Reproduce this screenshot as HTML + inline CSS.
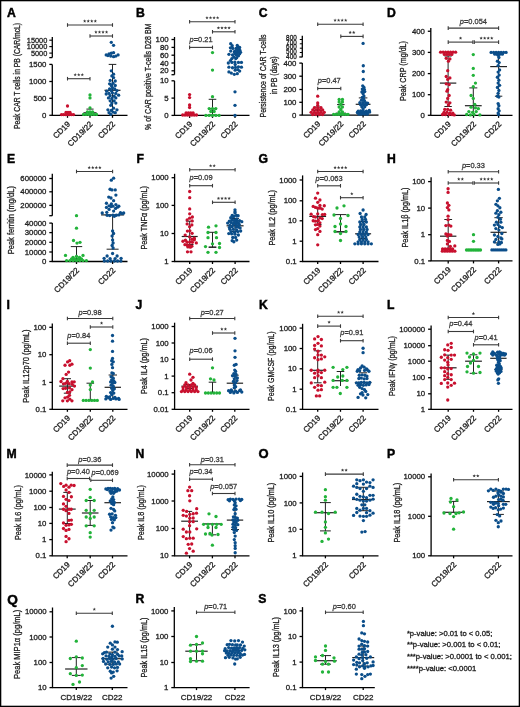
<!DOCTYPE html>
<html><head><meta charset="utf-8"><style>
html,body{margin:0;padding:0;background:#fff;}
svg{display:block;will-change:transform;}
text{font-family:"Liberation Sans",sans-serif;}
</style></head><body>
<svg width="520" height="707" viewBox="0 0 520 707">
<rect x="0" y="0" width="520" height="707" fill="#fff"/>
<text x="7.00" y="17.00" font-size="12.2" fill="#000" stroke="#000" stroke-width="0.45" font-weight="bold">A</text>
<line x1="52.30" y1="37.00" x2="52.30" y2="57.60" stroke="#000" stroke-width="1.3"/>
<line x1="52.30" y1="64.40" x2="52.30" y2="115.30" stroke="#000" stroke-width="1.3"/>
<line x1="49.30" y1="64.40" x2="52.30" y2="64.40" stroke="#000" stroke-width="1.3"/>
<text x="46.40" y="67.00" font-size="7.8" fill="#1e1e1e" stroke="#1e1e1e" stroke-width="0.3" text-anchor="end">1500</text>
<line x1="49.30" y1="81.50" x2="52.30" y2="81.50" stroke="#000" stroke-width="1.3"/>
<text x="46.40" y="84.10" font-size="7.8" fill="#1e1e1e" stroke="#1e1e1e" stroke-width="0.3" text-anchor="end">1000</text>
<line x1="49.30" y1="98.30" x2="52.30" y2="98.30" stroke="#000" stroke-width="1.3"/>
<text x="46.40" y="100.90" font-size="7.8" fill="#1e1e1e" stroke="#1e1e1e" stroke-width="0.3" text-anchor="end">500</text>
<line x1="49.30" y1="115.30" x2="52.30" y2="115.30" stroke="#000" stroke-width="1.3"/>
<text x="46.40" y="117.90" font-size="7.8" fill="#1e1e1e" stroke="#1e1e1e" stroke-width="0.3" text-anchor="end">0</text>
<line x1="49.30" y1="57.60" x2="52.30" y2="57.60" stroke="#000" stroke-width="1.3"/>
<line x1="49.30" y1="40.20" x2="52.30" y2="40.20" stroke="#000" stroke-width="1.1"/>
<text x="47.30" y="42.80" font-size="7.8" fill="#1e1e1e" stroke="#1e1e1e" stroke-width="0.3" text-anchor="end" textLength="20.5" lengthAdjust="spacingAndGlyphs">15000</text>
<line x1="49.30" y1="46.60" x2="52.30" y2="46.60" stroke="#000" stroke-width="1.1"/>
<text x="47.30" y="49.20" font-size="7.8" fill="#1e1e1e" stroke="#1e1e1e" stroke-width="0.3" text-anchor="end" textLength="20.5" lengthAdjust="spacingAndGlyphs">10000</text>
<line x1="49.30" y1="53.10" x2="52.30" y2="53.10" stroke="#000" stroke-width="1.1"/>
<text x="47.30" y="55.70" font-size="7.8" fill="#1e1e1e" stroke="#1e1e1e" stroke-width="0.3" text-anchor="end" textLength="16.4" lengthAdjust="spacingAndGlyphs">5000</text>
<line x1="51.80" y1="115.30" x2="127.50" y2="115.30" stroke="#000" stroke-width="1.3"/>
<line x1="67.50" y1="115.30" x2="67.50" y2="117.80" stroke="#000" stroke-width="1.3"/>
<line x1="90.00" y1="115.30" x2="90.00" y2="117.80" stroke="#000" stroke-width="1.3"/>
<line x1="112.50" y1="115.30" x2="112.50" y2="117.80" stroke="#000" stroke-width="1.3"/>
<text x="70.70" y="124.60" font-size="8.0" fill="#1e1e1e" stroke="#1e1e1e" stroke-width="0.3" text-anchor="end" transform="rotate(-45 70.70 124.60)">CD19</text>
<text x="93.20" y="124.60" font-size="8.0" fill="#1e1e1e" stroke="#1e1e1e" stroke-width="0.3" text-anchor="end" transform="rotate(-45 93.20 124.60)">CD19/22</text>
<text x="115.70" y="124.60" font-size="8.0" fill="#1e1e1e" stroke="#1e1e1e" stroke-width="0.3" text-anchor="end" transform="rotate(-45 115.70 124.60)">CD22</text>
<text x="20.04" y="75.95" font-size="9.0" fill="#1e1e1e" stroke="#1e1e1e" stroke-width="0.3" text-anchor="middle" transform="rotate(-90 20.04 75.95)" textLength="106.1" lengthAdjust="spacingAndGlyphs">Peak CAR T cells in PB (CAR/mcL)</text>
<line x1="86.40" y1="109.10" x2="93.60" y2="109.10" stroke="#222" stroke-width="1.0"/>
<line x1="83.50" y1="112.80" x2="96.50" y2="112.80" stroke="#222" stroke-width="1.2"/>
<line x1="108.70" y1="64.40" x2="116.30" y2="64.40" stroke="#222" stroke-width="1.0"/>
<line x1="104.50" y1="90.30" x2="120.50" y2="90.30" stroke="#222" stroke-width="1.2"/>
<line x1="112.50" y1="64.40" x2="112.50" y2="112.00" stroke="#222" stroke-width="1.0"/>
<line x1="67.50" y1="25.00" x2="112.50" y2="25.00" stroke="#3a3a3a" stroke-width="1.1"/>
<line x1="67.50" y1="23.20" x2="67.50" y2="26.80" stroke="#3a3a3a" stroke-width="1.1"/>
<line x1="112.50" y1="23.20" x2="112.50" y2="26.80" stroke="#3a3a3a" stroke-width="1.1"/>
<polygon points="84.67,19.35 85.13,20.47 86.34,20.56 85.42,21.34 85.70,22.52 84.67,21.88 83.65,22.52 83.93,21.34 83.01,20.56 84.22,20.47" fill="#3a3a3a"/>
<polygon points="88.22,19.35 88.68,20.47 89.89,20.56 88.97,21.34 89.25,22.52 88.22,21.88 87.20,22.52 87.48,21.34 86.56,20.56 87.77,20.47" fill="#3a3a3a"/>
<polygon points="91.78,19.35 92.23,20.47 93.44,20.56 92.52,21.34 92.80,22.52 91.78,21.88 90.75,22.52 91.03,21.34 90.11,20.56 91.32,20.47" fill="#3a3a3a"/>
<polygon points="95.33,19.35 95.78,20.47 96.99,20.56 96.07,21.34 96.35,22.52 95.33,21.88 94.30,22.52 94.58,21.34 93.66,20.56 94.87,20.47" fill="#3a3a3a"/>
<line x1="90.00" y1="36.00" x2="112.50" y2="36.00" stroke="#3a3a3a" stroke-width="1.1"/>
<line x1="90.00" y1="34.20" x2="90.00" y2="37.80" stroke="#3a3a3a" stroke-width="1.1"/>
<line x1="112.50" y1="34.20" x2="112.50" y2="37.80" stroke="#3a3a3a" stroke-width="1.1"/>
<polygon points="95.92,30.35 96.38,31.47 97.59,31.56 96.67,32.34 96.95,33.52 95.92,32.88 94.90,33.52 95.18,32.34 94.26,31.56 95.47,31.47" fill="#3a3a3a"/>
<polygon points="99.47,30.35 99.93,31.47 101.14,31.56 100.22,32.34 100.50,33.52 99.47,32.88 98.45,33.52 98.73,32.34 97.81,31.56 99.02,31.47" fill="#3a3a3a"/>
<polygon points="103.03,30.35 103.48,31.47 104.69,31.56 103.77,32.34 104.05,33.52 103.03,32.88 102.00,33.52 102.28,32.34 101.36,31.56 102.57,31.47" fill="#3a3a3a"/>
<polygon points="106.58,30.35 107.03,31.47 108.24,31.56 107.32,32.34 107.60,33.52 106.58,32.88 105.55,33.52 105.83,32.34 104.91,31.56 106.12,31.47" fill="#3a3a3a"/>
<line x1="67.50" y1="78.70" x2="90.00" y2="78.70" stroke="#3a3a3a" stroke-width="1.1"/>
<line x1="67.50" y1="76.90" x2="67.50" y2="80.50" stroke="#3a3a3a" stroke-width="1.1"/>
<line x1="90.00" y1="76.90" x2="90.00" y2="80.50" stroke="#3a3a3a" stroke-width="1.1"/>
<polygon points="75.20,73.05 75.66,74.17 76.86,74.26 75.94,75.04 76.23,76.22 75.20,75.58 74.17,76.22 74.46,75.04 73.54,74.26 74.74,74.17" fill="#3a3a3a"/>
<polygon points="78.75,73.05 79.21,74.17 80.41,74.26 79.49,75.04 79.78,76.22 78.75,75.58 77.72,76.22 78.01,75.04 77.09,74.26 78.29,74.17" fill="#3a3a3a"/>
<polygon points="82.30,73.05 82.76,74.17 83.96,74.26 83.04,75.04 83.33,76.22 82.30,75.58 81.27,76.22 81.56,75.04 80.64,74.26 81.84,74.17" fill="#3a3a3a"/>
<text x="136.00" y="17.00" font-size="12.2" fill="#000" stroke="#000" stroke-width="0.45" font-weight="bold">B</text>
<line x1="174.50" y1="37.00" x2="174.50" y2="74.70" stroke="#000" stroke-width="1.3"/>
<line x1="174.50" y1="80.80" x2="174.50" y2="115.40" stroke="#000" stroke-width="1.3"/>
<line x1="171.50" y1="39.50" x2="174.50" y2="39.50" stroke="#000" stroke-width="1.3"/>
<text x="168.60" y="42.10" font-size="7.8" fill="#1e1e1e" stroke="#1e1e1e" stroke-width="0.3" text-anchor="end">100</text>
<line x1="171.50" y1="47.40" x2="174.50" y2="47.40" stroke="#000" stroke-width="1.3"/>
<text x="168.60" y="50.00" font-size="7.8" fill="#1e1e1e" stroke="#1e1e1e" stroke-width="0.3" text-anchor="end">80</text>
<line x1="171.50" y1="55.20" x2="174.50" y2="55.20" stroke="#000" stroke-width="1.3"/>
<text x="168.60" y="57.80" font-size="7.8" fill="#1e1e1e" stroke="#1e1e1e" stroke-width="0.3" text-anchor="end">60</text>
<line x1="171.50" y1="63.00" x2="174.50" y2="63.00" stroke="#000" stroke-width="1.3"/>
<text x="168.60" y="65.60" font-size="7.8" fill="#1e1e1e" stroke="#1e1e1e" stroke-width="0.3" text-anchor="end">40</text>
<line x1="171.50" y1="70.80" x2="174.50" y2="70.80" stroke="#000" stroke-width="1.3"/>
<text x="168.60" y="73.40" font-size="7.8" fill="#1e1e1e" stroke="#1e1e1e" stroke-width="0.3" text-anchor="end">20</text>
<line x1="171.50" y1="74.70" x2="174.50" y2="74.70" stroke="#000" stroke-width="1.3"/>
<line x1="171.50" y1="80.80" x2="174.50" y2="80.80" stroke="#000" stroke-width="1.3"/>
<text x="168.60" y="83.40" font-size="7.8" fill="#1e1e1e" stroke="#1e1e1e" stroke-width="0.3" text-anchor="end">10</text>
<line x1="171.50" y1="98.10" x2="174.50" y2="98.10" stroke="#000" stroke-width="1.3"/>
<text x="168.60" y="100.70" font-size="7.8" fill="#1e1e1e" stroke="#1e1e1e" stroke-width="0.3" text-anchor="end">5</text>
<line x1="171.50" y1="115.40" x2="174.50" y2="115.40" stroke="#000" stroke-width="1.3"/>
<text x="168.60" y="118.00" font-size="7.8" fill="#1e1e1e" stroke="#1e1e1e" stroke-width="0.3" text-anchor="end">0</text>
<line x1="174.00" y1="115.40" x2="249.50" y2="115.40" stroke="#000" stroke-width="1.3"/>
<line x1="189.60" y1="115.40" x2="189.60" y2="117.90" stroke="#000" stroke-width="1.3"/>
<line x1="212.50" y1="115.40" x2="212.50" y2="117.90" stroke="#000" stroke-width="1.3"/>
<line x1="235.00" y1="115.40" x2="235.00" y2="117.90" stroke="#000" stroke-width="1.3"/>
<text x="192.80" y="124.70" font-size="8.0" fill="#1e1e1e" stroke="#1e1e1e" stroke-width="0.3" text-anchor="end" transform="rotate(-45 192.80 124.70)">CD19</text>
<text x="215.70" y="124.70" font-size="8.0" fill="#1e1e1e" stroke="#1e1e1e" stroke-width="0.3" text-anchor="end" transform="rotate(-45 215.70 124.70)">CD19/22</text>
<text x="238.20" y="124.70" font-size="8.0" fill="#1e1e1e" stroke="#1e1e1e" stroke-width="0.3" text-anchor="end" transform="rotate(-45 238.20 124.70)">CD22</text>
<text x="150.74" y="76.75" font-size="9.0" fill="#1e1e1e" stroke="#1e1e1e" stroke-width="0.3" text-anchor="middle" transform="rotate(-90 150.74 76.75)" textLength="106.5" lengthAdjust="spacingAndGlyphs">% of CAR positive T-cells D28 BM</text>
<line x1="212.50" y1="99.30" x2="212.50" y2="115.00" stroke="#222" stroke-width="1.0"/>
<line x1="208.70" y1="99.30" x2="216.30" y2="99.30" stroke="#222" stroke-width="1.0"/>
<line x1="208.70" y1="115.00" x2="216.30" y2="115.00" stroke="#222" stroke-width="1.0"/>
<line x1="208.00" y1="108.80" x2="217.00" y2="108.80" stroke="#222" stroke-width="1.2"/>
<line x1="189.60" y1="21.70" x2="235.00" y2="21.70" stroke="#3a3a3a" stroke-width="1.1"/>
<line x1="189.60" y1="19.90" x2="189.60" y2="23.50" stroke="#3a3a3a" stroke-width="1.1"/>
<line x1="235.00" y1="19.90" x2="235.00" y2="23.50" stroke="#3a3a3a" stroke-width="1.1"/>
<polygon points="206.98,16.05 207.43,17.17 208.64,17.26 207.72,18.04 208.00,19.22 206.98,18.58 205.95,19.22 206.23,18.04 205.31,17.26 206.52,17.17" fill="#3a3a3a"/>
<polygon points="210.53,16.05 210.98,17.17 212.19,17.26 211.27,18.04 211.55,19.22 210.53,18.58 209.50,19.22 209.78,18.04 208.86,17.26 210.07,17.17" fill="#3a3a3a"/>
<polygon points="214.08,16.05 214.53,17.17 215.74,17.26 214.82,18.04 215.10,19.22 214.08,18.58 213.05,19.22 213.33,18.04 212.41,17.26 213.62,17.17" fill="#3a3a3a"/>
<polygon points="217.62,16.05 218.08,17.17 219.29,17.26 218.37,18.04 218.65,19.22 217.62,18.58 216.60,19.22 216.88,18.04 215.96,17.26 217.17,17.17" fill="#3a3a3a"/>
<line x1="212.50" y1="31.80" x2="235.00" y2="31.80" stroke="#3a3a3a" stroke-width="1.1"/>
<line x1="212.50" y1="30.00" x2="212.50" y2="33.60" stroke="#3a3a3a" stroke-width="1.1"/>
<line x1="235.00" y1="30.00" x2="235.00" y2="33.60" stroke="#3a3a3a" stroke-width="1.1"/>
<polygon points="218.43,26.15 218.88,27.27 220.09,27.36 219.17,28.14 219.45,29.32 218.43,28.68 217.40,29.32 217.68,28.14 216.76,27.36 217.97,27.27" fill="#3a3a3a"/>
<polygon points="221.97,26.15 222.43,27.27 223.64,27.36 222.72,28.14 223.00,29.32 221.97,28.68 220.95,29.32 221.23,28.14 220.31,27.36 221.52,27.27" fill="#3a3a3a"/>
<polygon points="225.53,26.15 225.98,27.27 227.19,27.36 226.27,28.14 226.55,29.32 225.53,28.68 224.50,29.32 224.78,28.14 223.86,27.36 225.07,27.27" fill="#3a3a3a"/>
<polygon points="229.07,26.15 229.53,27.27 230.74,27.36 229.82,28.14 230.10,29.32 229.07,28.68 228.05,29.32 228.33,28.14 227.41,27.36 228.62,27.27" fill="#3a3a3a"/>
<line x1="189.60" y1="47.40" x2="212.50" y2="47.40" stroke="#3a3a3a" stroke-width="1.1"/>
<line x1="189.60" y1="45.60" x2="189.60" y2="49.20" stroke="#3a3a3a" stroke-width="1.1"/>
<line x1="212.50" y1="45.60" x2="212.50" y2="49.20" stroke="#3a3a3a" stroke-width="1.1"/>
<text x="201.05" y="41.60" font-size="8.0" fill="#3a3a3a" stroke="#3a3a3a" stroke-width="0.3" text-anchor="middle" textLength="22.96" lengthAdjust="spacingAndGlyphs"><tspan font-style="italic">p</tspan>=0.21</text>
<text x="258.70" y="17.40" font-size="12.2" fill="#000" stroke="#000" stroke-width="0.45" font-weight="bold">C</text>
<line x1="302.30" y1="35.80" x2="302.30" y2="57.20" stroke="#000" stroke-width="1.3"/>
<line x1="302.30" y1="63.10" x2="302.30" y2="115.10" stroke="#000" stroke-width="1.3"/>
<line x1="299.30" y1="63.10" x2="302.30" y2="63.10" stroke="#000" stroke-width="1.3"/>
<text x="296.40" y="65.70" font-size="7.8" fill="#1e1e1e" stroke="#1e1e1e" stroke-width="0.3" text-anchor="end">400</text>
<line x1="299.30" y1="76.20" x2="302.30" y2="76.20" stroke="#000" stroke-width="1.3"/>
<text x="296.40" y="78.80" font-size="7.8" fill="#1e1e1e" stroke="#1e1e1e" stroke-width="0.3" text-anchor="end">300</text>
<line x1="299.30" y1="89.50" x2="302.30" y2="89.50" stroke="#000" stroke-width="1.3"/>
<text x="296.40" y="92.10" font-size="7.8" fill="#1e1e1e" stroke="#1e1e1e" stroke-width="0.3" text-anchor="end">200</text>
<line x1="299.30" y1="102.30" x2="302.30" y2="102.30" stroke="#000" stroke-width="1.3"/>
<text x="296.40" y="104.90" font-size="7.8" fill="#1e1e1e" stroke="#1e1e1e" stroke-width="0.3" text-anchor="end">100</text>
<line x1="299.30" y1="115.10" x2="302.30" y2="115.10" stroke="#000" stroke-width="1.3"/>
<text x="296.40" y="117.70" font-size="7.8" fill="#1e1e1e" stroke="#1e1e1e" stroke-width="0.3" text-anchor="end">0</text>
<line x1="299.30" y1="57.00" x2="302.30" y2="57.00" stroke="#000" stroke-width="1.3"/>
<line x1="299.80" y1="39.50" x2="302.30" y2="39.50" stroke="#000" stroke-width="1.0"/>
<line x1="299.80" y1="43.80" x2="302.30" y2="43.80" stroke="#000" stroke-width="1.0"/>
<line x1="299.80" y1="48.20" x2="302.30" y2="48.20" stroke="#000" stroke-width="1.0"/>
<line x1="299.80" y1="52.50" x2="302.30" y2="52.50" stroke="#000" stroke-width="1.0"/>
<text x="296.70" y="39.90" font-size="7.0" fill="#1e1e1e" stroke="#1e1e1e" stroke-width="0.3" text-anchor="end" textLength="10.6" lengthAdjust="spacingAndGlyphs">800</text>
<text x="296.70" y="44.65" font-size="7.0" fill="#1e1e1e" stroke="#1e1e1e" stroke-width="0.3" text-anchor="end" textLength="10.6" lengthAdjust="spacingAndGlyphs">700</text>
<text x="296.70" y="49.40" font-size="7.0" fill="#1e1e1e" stroke="#1e1e1e" stroke-width="0.3" text-anchor="end" textLength="10.6" lengthAdjust="spacingAndGlyphs">600</text>
<text x="296.70" y="54.15" font-size="7.0" fill="#1e1e1e" stroke="#1e1e1e" stroke-width="0.3" text-anchor="end" textLength="10.6" lengthAdjust="spacingAndGlyphs">500</text>
<text x="296.70" y="58.90" font-size="7.0" fill="#1e1e1e" stroke="#1e1e1e" stroke-width="0.3" text-anchor="end" textLength="10.6" lengthAdjust="spacingAndGlyphs">400</text>
<line x1="301.80" y1="115.10" x2="378.50" y2="115.10" stroke="#000" stroke-width="1.3"/>
<line x1="317.70" y1="115.10" x2="317.70" y2="117.60" stroke="#000" stroke-width="1.3"/>
<line x1="340.80" y1="115.10" x2="340.80" y2="117.60" stroke="#000" stroke-width="1.3"/>
<line x1="363.10" y1="115.10" x2="363.10" y2="117.60" stroke="#000" stroke-width="1.3"/>
<text x="320.90" y="124.40" font-size="8.0" fill="#1e1e1e" stroke="#1e1e1e" stroke-width="0.3" text-anchor="end" transform="rotate(-45 320.90 124.40)">CD19</text>
<text x="344.00" y="124.40" font-size="8.0" fill="#1e1e1e" stroke="#1e1e1e" stroke-width="0.3" text-anchor="end" transform="rotate(-45 344.00 124.40)">CD19/22</text>
<text x="366.30" y="124.40" font-size="8.0" fill="#1e1e1e" stroke="#1e1e1e" stroke-width="0.3" text-anchor="end" transform="rotate(-45 366.30 124.40)">CD22</text>
<text x="266.20" y="76.00" font-size="9.0" fill="#1e1e1e" stroke="#1e1e1e" stroke-width="0.3" text-anchor="middle" transform="rotate(-90 266.20 76.00)" textLength="83" lengthAdjust="spacingAndGlyphs">Persistence of CAR T-cells</text>
<text x="277.30" y="75.30" font-size="9.0" fill="#1e1e1e" stroke="#1e1e1e" stroke-width="0.3" text-anchor="middle" transform="rotate(-90 277.30 75.30)" textLength="38" lengthAdjust="spacingAndGlyphs">in PB (days)</text>
<line x1="317.70" y1="107.00" x2="317.70" y2="113.00" stroke="#222" stroke-width="1.0"/>
<line x1="314.70" y1="107.00" x2="320.70" y2="107.00" stroke="#222" stroke-width="1.0"/>
<line x1="314.70" y1="113.00" x2="320.70" y2="113.00" stroke="#222" stroke-width="1.0"/>
<line x1="312.70" y1="110.30" x2="322.70" y2="110.30" stroke="#222" stroke-width="1.2"/>
<line x1="337.00" y1="104.60" x2="344.60" y2="104.60" stroke="#222" stroke-width="1.0"/>
<line x1="335.80" y1="113.20" x2="345.80" y2="113.20" stroke="#222" stroke-width="1.2"/>
<line x1="358.80" y1="97.90" x2="367.40" y2="97.90" stroke="#222" stroke-width="1.0"/>
<line x1="355.70" y1="104.30" x2="370.50" y2="104.30" stroke="#222" stroke-width="1.2"/>
<line x1="317.70" y1="24.20" x2="363.10" y2="24.20" stroke="#3a3a3a" stroke-width="1.1"/>
<line x1="317.70" y1="22.40" x2="317.70" y2="26.00" stroke="#3a3a3a" stroke-width="1.1"/>
<line x1="363.10" y1="22.40" x2="363.10" y2="26.00" stroke="#3a3a3a" stroke-width="1.1"/>
<polygon points="335.07,18.55 335.53,19.67 336.74,19.76 335.82,20.54 336.10,21.72 335.07,21.08 334.05,21.72 334.33,20.54 333.41,19.76 334.62,19.67" fill="#3a3a3a"/>
<polygon points="338.62,18.55 339.08,19.67 340.29,19.76 339.37,20.54 339.65,21.72 338.62,21.08 337.60,21.72 337.88,20.54 336.96,19.76 338.17,19.67" fill="#3a3a3a"/>
<polygon points="342.17,18.55 342.63,19.67 343.84,19.76 342.92,20.54 343.20,21.72 342.17,21.08 341.15,21.72 341.43,20.54 340.51,19.76 341.72,19.67" fill="#3a3a3a"/>
<polygon points="345.72,18.55 346.18,19.67 347.39,19.76 346.47,20.54 346.75,21.72 345.72,21.08 344.70,21.72 344.98,20.54 344.06,19.76 345.27,19.67" fill="#3a3a3a"/>
<line x1="340.80" y1="36.40" x2="363.10" y2="36.40" stroke="#3a3a3a" stroke-width="1.1"/>
<line x1="340.80" y1="34.60" x2="340.80" y2="38.20" stroke="#3a3a3a" stroke-width="1.1"/>
<line x1="363.10" y1="34.60" x2="363.10" y2="38.20" stroke="#3a3a3a" stroke-width="1.1"/>
<polygon points="350.18,30.75 350.63,31.87 351.84,31.96 350.92,32.74 351.20,33.92 350.18,33.28 349.15,33.92 349.43,32.74 348.51,31.96 349.72,31.87" fill="#3a3a3a"/>
<polygon points="353.73,30.75 354.18,31.87 355.39,31.96 354.47,32.74 354.75,33.92 353.73,33.28 352.70,33.92 352.98,32.74 352.06,31.96 353.27,31.87" fill="#3a3a3a"/>
<line x1="317.70" y1="88.50" x2="340.80" y2="88.50" stroke="#3a3a3a" stroke-width="1.1"/>
<line x1="317.70" y1="86.70" x2="317.70" y2="90.30" stroke="#3a3a3a" stroke-width="1.1"/>
<line x1="340.80" y1="86.70" x2="340.80" y2="90.30" stroke="#3a3a3a" stroke-width="1.1"/>
<text x="329.25" y="82.60" font-size="8.0" fill="#3a3a3a" stroke="#3a3a3a" stroke-width="0.3" text-anchor="middle" textLength="22.96" lengthAdjust="spacingAndGlyphs"><tspan font-style="italic">p</tspan>=0.47</text>
<text x="387.00" y="17.00" font-size="12.2" fill="#000" stroke="#000" stroke-width="0.45" font-weight="bold">D</text>
<line x1="430.80" y1="28.00" x2="430.80" y2="115.30" stroke="#000" stroke-width="1.3"/>
<line x1="427.80" y1="31.25" x2="430.80" y2="31.25" stroke="#000" stroke-width="1.3"/>
<text x="424.90" y="33.85" font-size="7.8" fill="#1e1e1e" stroke="#1e1e1e" stroke-width="0.3" text-anchor="end">400</text>
<line x1="427.80" y1="52.40" x2="430.80" y2="52.40" stroke="#000" stroke-width="1.3"/>
<text x="424.90" y="55.00" font-size="7.8" fill="#1e1e1e" stroke="#1e1e1e" stroke-width="0.3" text-anchor="end">300</text>
<line x1="427.80" y1="73.60" x2="430.80" y2="73.60" stroke="#000" stroke-width="1.3"/>
<text x="424.90" y="76.20" font-size="7.8" fill="#1e1e1e" stroke="#1e1e1e" stroke-width="0.3" text-anchor="end">200</text>
<line x1="427.80" y1="94.70" x2="430.80" y2="94.70" stroke="#000" stroke-width="1.3"/>
<text x="424.90" y="97.30" font-size="7.8" fill="#1e1e1e" stroke="#1e1e1e" stroke-width="0.3" text-anchor="end">100</text>
<line x1="427.80" y1="115.30" x2="430.80" y2="115.30" stroke="#000" stroke-width="1.3"/>
<text x="424.90" y="117.90" font-size="7.8" fill="#1e1e1e" stroke="#1e1e1e" stroke-width="0.3" text-anchor="end">0</text>
<line x1="430.30" y1="115.30" x2="512.50" y2="115.30" stroke="#000" stroke-width="1.3"/>
<line x1="448.20" y1="115.30" x2="448.20" y2="117.80" stroke="#000" stroke-width="1.3"/>
<line x1="473.50" y1="115.30" x2="473.50" y2="117.80" stroke="#000" stroke-width="1.3"/>
<line x1="498.60" y1="115.30" x2="498.60" y2="117.80" stroke="#000" stroke-width="1.3"/>
<text x="451.40" y="124.60" font-size="8.0" fill="#1e1e1e" stroke="#1e1e1e" stroke-width="0.3" text-anchor="end" transform="rotate(-45 451.40 124.60)">CD19</text>
<text x="476.70" y="124.60" font-size="8.0" fill="#1e1e1e" stroke="#1e1e1e" stroke-width="0.3" text-anchor="end" transform="rotate(-45 476.70 124.60)">CD19/22</text>
<text x="501.80" y="124.60" font-size="8.0" fill="#1e1e1e" stroke="#1e1e1e" stroke-width="0.3" text-anchor="end" transform="rotate(-45 501.80 124.60)">CD22</text>
<text x="406.24" y="71.00" font-size="9.0" fill="#1e1e1e" stroke="#1e1e1e" stroke-width="0.3" text-anchor="middle" transform="rotate(-90 406.24 71.00)" textLength="60.0" lengthAdjust="spacingAndGlyphs">Peak CRP (mg/dL)</text>
<line x1="448.10" y1="56.00" x2="448.10" y2="106.50" stroke="#222" stroke-width="1.0"/>
<line x1="444.40" y1="56.00" x2="451.80" y2="56.00" stroke="#222" stroke-width="1.0"/>
<line x1="444.40" y1="106.50" x2="451.80" y2="106.50" stroke="#222" stroke-width="1.0"/>
<line x1="439.90" y1="83.10" x2="456.30" y2="83.10" stroke="#222" stroke-width="1.2"/>
<line x1="469.30" y1="87.90" x2="477.30" y2="87.90" stroke="#222" stroke-width="1.0"/>
<line x1="464.90" y1="105.70" x2="481.70" y2="105.70" stroke="#222" stroke-width="1.2"/>
<line x1="473.30" y1="87.90" x2="473.30" y2="112.00" stroke="#222" stroke-width="1.0"/>
<line x1="498.60" y1="52.40" x2="498.60" y2="96.20" stroke="#222" stroke-width="1.0"/>
<line x1="494.90" y1="52.40" x2="502.30" y2="52.40" stroke="#222" stroke-width="1.0"/>
<line x1="494.90" y1="96.20" x2="502.30" y2="96.20" stroke="#222" stroke-width="1.0"/>
<line x1="490.20" y1="66.60" x2="507.00" y2="66.60" stroke="#222" stroke-width="1.2"/>
<line x1="448.20" y1="28.10" x2="498.60" y2="28.10" stroke="#3a3a3a" stroke-width="1.1"/>
<line x1="448.20" y1="26.30" x2="448.20" y2="29.90" stroke="#3a3a3a" stroke-width="1.1"/>
<line x1="498.60" y1="26.30" x2="498.60" y2="29.90" stroke="#3a3a3a" stroke-width="1.1"/>
<text x="473.40" y="24.30" font-size="8.0" fill="#3a3a3a" stroke="#3a3a3a" stroke-width="0.3" text-anchor="middle" textLength="27.1" lengthAdjust="spacingAndGlyphs"><tspan font-style="italic">p</tspan>=0.054</text>
<line x1="448.20" y1="42.10" x2="472.90" y2="42.10" stroke="#3a3a3a" stroke-width="1.1"/>
<line x1="448.20" y1="40.30" x2="448.20" y2="43.90" stroke="#3a3a3a" stroke-width="1.1"/>
<line x1="472.90" y1="40.30" x2="472.90" y2="43.90" stroke="#3a3a3a" stroke-width="1.1"/>
<polygon points="460.55,36.45 461.01,37.57 462.21,37.66 461.29,38.44 461.58,39.62 460.55,38.98 459.52,39.62 459.81,38.44 458.89,37.66 460.09,37.57" fill="#3a3a3a"/>
<line x1="474.30" y1="42.10" x2="498.60" y2="42.10" stroke="#3a3a3a" stroke-width="1.1"/>
<line x1="474.30" y1="40.30" x2="474.30" y2="43.90" stroke="#3a3a3a" stroke-width="1.1"/>
<line x1="498.60" y1="40.30" x2="498.60" y2="43.90" stroke="#3a3a3a" stroke-width="1.1"/>
<polygon points="481.13,36.45 481.58,37.57 482.79,37.66 481.87,38.44 482.15,39.62 481.13,38.98 480.10,39.62 480.38,38.44 479.46,37.66 480.67,37.57" fill="#3a3a3a"/>
<polygon points="484.68,36.45 485.13,37.57 486.34,37.66 485.42,38.44 485.70,39.62 484.68,38.98 483.65,39.62 483.93,38.44 483.01,37.66 484.22,37.57" fill="#3a3a3a"/>
<polygon points="488.23,36.45 488.68,37.57 489.89,37.66 488.97,38.44 489.25,39.62 488.23,38.98 487.20,39.62 487.48,38.44 486.56,37.66 487.77,37.57" fill="#3a3a3a"/>
<polygon points="491.78,36.45 492.23,37.57 493.44,37.66 492.52,38.44 492.80,39.62 491.78,38.98 490.75,39.62 491.03,38.44 490.11,37.66 491.32,37.57" fill="#3a3a3a"/>
<text x="7.00" y="163.00" font-size="12.2" fill="#000" stroke="#000" stroke-width="0.45" font-weight="bold">E</text>
<line x1="52.30" y1="173.80" x2="52.30" y2="215.70" stroke="#000" stroke-width="1.3"/>
<line x1="52.30" y1="223.10" x2="52.30" y2="261.50" stroke="#000" stroke-width="1.3"/>
<line x1="49.30" y1="178.50" x2="52.30" y2="178.50" stroke="#000" stroke-width="1.3"/>
<text x="46.40" y="181.10" font-size="7.8" fill="#1e1e1e" stroke="#1e1e1e" stroke-width="0.3" text-anchor="end">600000</text>
<line x1="49.30" y1="191.80" x2="52.30" y2="191.80" stroke="#000" stroke-width="1.3"/>
<text x="46.40" y="194.40" font-size="7.8" fill="#1e1e1e" stroke="#1e1e1e" stroke-width="0.3" text-anchor="end">400000</text>
<line x1="49.30" y1="205.40" x2="52.30" y2="205.40" stroke="#000" stroke-width="1.3"/>
<text x="46.40" y="208.00" font-size="7.8" fill="#1e1e1e" stroke="#1e1e1e" stroke-width="0.3" text-anchor="end">200000</text>
<line x1="49.30" y1="215.70" x2="52.30" y2="215.70" stroke="#000" stroke-width="1.3"/>
<line x1="49.30" y1="223.10" x2="52.30" y2="223.10" stroke="#000" stroke-width="1.3"/>
<text x="46.40" y="225.70" font-size="7.8" fill="#1e1e1e" stroke="#1e1e1e" stroke-width="0.3" text-anchor="end">40000</text>
<line x1="49.30" y1="232.60" x2="52.30" y2="232.60" stroke="#000" stroke-width="1.3"/>
<text x="46.40" y="235.20" font-size="7.8" fill="#1e1e1e" stroke="#1e1e1e" stroke-width="0.3" text-anchor="end">30000</text>
<line x1="49.30" y1="242.30" x2="52.30" y2="242.30" stroke="#000" stroke-width="1.3"/>
<text x="46.40" y="244.90" font-size="7.8" fill="#1e1e1e" stroke="#1e1e1e" stroke-width="0.3" text-anchor="end">20000</text>
<line x1="49.30" y1="252.00" x2="52.30" y2="252.00" stroke="#000" stroke-width="1.3"/>
<text x="46.40" y="254.60" font-size="7.8" fill="#1e1e1e" stroke="#1e1e1e" stroke-width="0.3" text-anchor="end">10000</text>
<line x1="49.30" y1="261.50" x2="52.30" y2="261.50" stroke="#000" stroke-width="1.3"/>
<text x="46.40" y="264.10" font-size="7.8" fill="#1e1e1e" stroke="#1e1e1e" stroke-width="0.3" text-anchor="end">0</text>
<line x1="51.80" y1="261.50" x2="127.50" y2="261.50" stroke="#000" stroke-width="1.3"/>
<line x1="76.50" y1="261.50" x2="76.50" y2="264.00" stroke="#000" stroke-width="1.3"/>
<line x1="112.60" y1="261.50" x2="112.60" y2="264.00" stroke="#000" stroke-width="1.3"/>
<text x="79.70" y="270.80" font-size="8.0" fill="#1e1e1e" stroke="#1e1e1e" stroke-width="0.3" text-anchor="end" transform="rotate(-45 79.70 270.80)">CD19/22</text>
<text x="115.80" y="270.80" font-size="8.0" fill="#1e1e1e" stroke="#1e1e1e" stroke-width="0.3" text-anchor="end" transform="rotate(-45 115.80 270.80)">CD22</text>
<text x="13.54" y="220.15" font-size="9.0" fill="#1e1e1e" stroke="#1e1e1e" stroke-width="0.3" text-anchor="middle" transform="rotate(-90 13.54 220.15)" textLength="68.30000000000001" lengthAdjust="spacingAndGlyphs">Peak ferritin (mg/dL)</text>
<line x1="70.80" y1="246.60" x2="82.20" y2="246.60" stroke="#222" stroke-width="1.0"/>
<line x1="72.50" y1="259.50" x2="80.50" y2="259.50" stroke="#222" stroke-width="1.2"/>
<line x1="76.50" y1="246.60" x2="76.50" y2="259.50" stroke="#222" stroke-width="1.0"/>
<line x1="106.60" y1="249.20" x2="118.60" y2="249.20" stroke="#222" stroke-width="1.0"/>
<line x1="101.10" y1="214.90" x2="124.10" y2="214.90" stroke="#222" stroke-width="1.2"/>
<line x1="112.60" y1="214.90" x2="112.60" y2="249.20" stroke="#222" stroke-width="1.0"/>
<line x1="76.50" y1="171.50" x2="112.60" y2="171.50" stroke="#3a3a3a" stroke-width="1.1"/>
<line x1="76.50" y1="169.70" x2="76.50" y2="173.30" stroke="#3a3a3a" stroke-width="1.1"/>
<line x1="112.60" y1="169.70" x2="112.60" y2="173.30" stroke="#3a3a3a" stroke-width="1.1"/>
<polygon points="89.22,165.85 89.68,166.97 90.89,167.06 89.97,167.84 90.25,169.02 89.22,168.38 88.20,169.02 88.48,167.84 87.56,167.06 88.77,166.97" fill="#3a3a3a"/>
<polygon points="92.77,165.85 93.23,166.97 94.44,167.06 93.52,167.84 93.80,169.02 92.77,168.38 91.75,169.02 92.03,167.84 91.11,167.06 92.32,166.97" fill="#3a3a3a"/>
<polygon points="96.33,165.85 96.78,166.97 97.99,167.06 97.07,167.84 97.35,169.02 96.33,168.38 95.30,169.02 95.58,167.84 94.66,167.06 95.87,166.97" fill="#3a3a3a"/>
<polygon points="99.88,165.85 100.33,166.97 101.54,167.06 100.62,167.84 100.90,169.02 99.88,168.38 98.85,169.02 99.13,167.84 98.21,167.06 99.42,166.97" fill="#3a3a3a"/>
<text x="136.50" y="163.00" font-size="12.2" fill="#000" stroke="#000" stroke-width="0.45" font-weight="bold">F</text>
<line x1="174.60" y1="173.80" x2="174.60" y2="261.50" stroke="#000" stroke-width="1.3"/>
<line x1="171.60" y1="177.70" x2="174.60" y2="177.70" stroke="#000" stroke-width="1.3"/>
<text x="168.70" y="180.30" font-size="7.8" fill="#1e1e1e" stroke="#1e1e1e" stroke-width="0.3" text-anchor="end">1000</text>
<line x1="171.60" y1="205.40" x2="174.60" y2="205.40" stroke="#000" stroke-width="1.3"/>
<text x="168.70" y="208.00" font-size="7.8" fill="#1e1e1e" stroke="#1e1e1e" stroke-width="0.3" text-anchor="end">100</text>
<line x1="171.60" y1="233.50" x2="174.60" y2="233.50" stroke="#000" stroke-width="1.3"/>
<text x="168.70" y="236.10" font-size="7.8" fill="#1e1e1e" stroke="#1e1e1e" stroke-width="0.3" text-anchor="end">10</text>
<line x1="171.60" y1="261.50" x2="174.60" y2="261.50" stroke="#000" stroke-width="1.3"/>
<text x="168.70" y="264.10" font-size="7.8" fill="#1e1e1e" stroke="#1e1e1e" stroke-width="0.3" text-anchor="end">1</text>
<line x1="174.10" y1="261.50" x2="249.50" y2="261.50" stroke="#000" stroke-width="1.3"/>
<line x1="189.70" y1="261.50" x2="189.70" y2="264.00" stroke="#000" stroke-width="1.3"/>
<line x1="212.50" y1="261.50" x2="212.50" y2="264.00" stroke="#000" stroke-width="1.3"/>
<line x1="235.10" y1="261.50" x2="235.10" y2="264.00" stroke="#000" stroke-width="1.3"/>
<text x="192.90" y="270.80" font-size="8.0" fill="#1e1e1e" stroke="#1e1e1e" stroke-width="0.3" text-anchor="end" transform="rotate(-45 192.90 270.80)">CD19</text>
<text x="215.70" y="270.80" font-size="8.0" fill="#1e1e1e" stroke="#1e1e1e" stroke-width="0.3" text-anchor="end" transform="rotate(-45 215.70 270.80)">CD19/22</text>
<text x="238.30" y="270.80" font-size="8.0" fill="#1e1e1e" stroke="#1e1e1e" stroke-width="0.3" text-anchor="end" transform="rotate(-45 238.30 270.80)">CD22</text>
<text x="147.04" y="217.75" font-size="9.0" fill="#1e1e1e" stroke="#1e1e1e" stroke-width="0.3" text-anchor="middle" transform="rotate(-90 147.04 217.75)" textLength="63.5" lengthAdjust="spacingAndGlyphs">Peak TNFα (pg/mL)</text>
<line x1="189.70" y1="221.20" x2="189.70" y2="244.50" stroke="#222" stroke-width="1.0"/>
<line x1="185.90" y1="221.20" x2="193.50" y2="221.20" stroke="#222" stroke-width="1.0"/>
<line x1="185.90" y1="244.50" x2="193.50" y2="244.50" stroke="#222" stroke-width="1.0"/>
<line x1="181.70" y1="236.50" x2="197.70" y2="236.50" stroke="#222" stroke-width="1.2"/>
<line x1="212.50" y1="232.30" x2="212.50" y2="247.20" stroke="#222" stroke-width="1.0"/>
<line x1="208.70" y1="232.30" x2="216.30" y2="232.30" stroke="#222" stroke-width="1.0"/>
<line x1="208.70" y1="247.20" x2="216.30" y2="247.20" stroke="#222" stroke-width="1.0"/>
<line x1="208.70" y1="247.20" x2="216.30" y2="247.20" stroke="#222" stroke-width="1.2"/>
<line x1="235.10" y1="218.50" x2="235.10" y2="231.50" stroke="#222" stroke-width="1.0"/>
<line x1="231.30" y1="218.50" x2="238.90" y2="218.50" stroke="#222" stroke-width="1.0"/>
<line x1="231.30" y1="231.50" x2="238.90" y2="231.50" stroke="#222" stroke-width="1.0"/>
<line x1="226.60" y1="225.80" x2="243.60" y2="225.80" stroke="#222" stroke-width="1.2"/>
<line x1="189.70" y1="169.70" x2="235.10" y2="169.70" stroke="#3a3a3a" stroke-width="1.1"/>
<line x1="189.70" y1="167.90" x2="189.70" y2="171.50" stroke="#3a3a3a" stroke-width="1.1"/>
<line x1="235.10" y1="167.90" x2="235.10" y2="171.50" stroke="#3a3a3a" stroke-width="1.1"/>
<polygon points="210.62,164.05 211.08,165.17 212.29,165.26 211.37,166.04 211.65,167.22 210.62,166.58 209.60,167.22 209.88,166.04 208.96,165.26 210.17,165.17" fill="#3a3a3a"/>
<polygon points="214.17,164.05 214.63,165.17 215.84,165.26 214.92,166.04 215.20,167.22 214.17,166.58 213.15,167.22 213.43,166.04 212.51,165.26 213.72,165.17" fill="#3a3a3a"/>
<line x1="189.70" y1="185.70" x2="212.50" y2="185.70" stroke="#3a3a3a" stroke-width="1.1"/>
<line x1="189.70" y1="183.90" x2="189.70" y2="187.50" stroke="#3a3a3a" stroke-width="1.1"/>
<line x1="212.50" y1="183.90" x2="212.50" y2="187.50" stroke="#3a3a3a" stroke-width="1.1"/>
<text x="201.10" y="179.60" font-size="8.0" fill="#3a3a3a" stroke="#3a3a3a" stroke-width="0.3" text-anchor="middle" textLength="22.96" lengthAdjust="spacingAndGlyphs"><tspan font-style="italic">p</tspan>=0.09</text>
<line x1="212.50" y1="202.30" x2="235.10" y2="202.30" stroke="#3a3a3a" stroke-width="1.1"/>
<line x1="212.50" y1="200.50" x2="212.50" y2="204.10" stroke="#3a3a3a" stroke-width="1.1"/>
<line x1="235.10" y1="200.50" x2="235.10" y2="204.10" stroke="#3a3a3a" stroke-width="1.1"/>
<polygon points="218.48,196.65 218.93,197.77 220.14,197.86 219.22,198.64 219.50,199.82 218.48,199.18 217.45,199.82 217.73,198.64 216.81,197.86 218.02,197.77" fill="#3a3a3a"/>
<polygon points="222.03,196.65 222.48,197.77 223.69,197.86 222.77,198.64 223.05,199.82 222.03,199.18 221.00,199.82 221.28,198.64 220.36,197.86 221.57,197.77" fill="#3a3a3a"/>
<polygon points="225.58,196.65 226.03,197.77 227.24,197.86 226.32,198.64 226.60,199.82 225.58,199.18 224.55,199.82 224.83,198.64 223.91,197.86 225.12,197.77" fill="#3a3a3a"/>
<polygon points="229.12,196.65 229.58,197.77 230.79,197.86 229.87,198.64 230.15,199.82 229.12,199.18 228.10,199.82 228.38,198.64 227.46,197.86 228.67,197.77" fill="#3a3a3a"/>
<text x="258.60" y="163.00" font-size="12.2" fill="#000" stroke="#000" stroke-width="0.45" font-weight="bold">G</text>
<line x1="302.60" y1="175.40" x2="302.60" y2="261.50" stroke="#000" stroke-width="1.3"/>
<line x1="299.60" y1="180.00" x2="302.60" y2="180.00" stroke="#000" stroke-width="1.3"/>
<text x="296.70" y="182.60" font-size="7.8" fill="#1e1e1e" stroke="#1e1e1e" stroke-width="0.3" text-anchor="end">1000</text>
<line x1="299.60" y1="200.80" x2="302.60" y2="200.80" stroke="#000" stroke-width="1.3"/>
<text x="296.70" y="203.40" font-size="7.8" fill="#1e1e1e" stroke="#1e1e1e" stroke-width="0.3" text-anchor="end">100</text>
<line x1="299.60" y1="220.80" x2="302.60" y2="220.80" stroke="#000" stroke-width="1.3"/>
<text x="296.70" y="223.40" font-size="7.8" fill="#1e1e1e" stroke="#1e1e1e" stroke-width="0.3" text-anchor="end">10</text>
<line x1="299.60" y1="241.20" x2="302.60" y2="241.20" stroke="#000" stroke-width="1.3"/>
<text x="296.70" y="243.80" font-size="7.8" fill="#1e1e1e" stroke="#1e1e1e" stroke-width="0.3" text-anchor="end">1</text>
<line x1="299.60" y1="261.50" x2="302.60" y2="261.50" stroke="#000" stroke-width="1.3"/>
<text x="296.70" y="264.10" font-size="7.8" fill="#1e1e1e" stroke="#1e1e1e" stroke-width="0.3" text-anchor="end">0.1</text>
<line x1="302.10" y1="261.50" x2="378.50" y2="261.50" stroke="#000" stroke-width="1.3"/>
<line x1="317.70" y1="261.50" x2="317.70" y2="264.00" stroke="#000" stroke-width="1.3"/>
<line x1="340.50" y1="261.50" x2="340.50" y2="264.00" stroke="#000" stroke-width="1.3"/>
<line x1="363.10" y1="261.50" x2="363.10" y2="264.00" stroke="#000" stroke-width="1.3"/>
<text x="320.90" y="270.80" font-size="8.0" fill="#1e1e1e" stroke="#1e1e1e" stroke-width="0.3" text-anchor="end" transform="rotate(-45 320.90 270.80)">CD19</text>
<text x="343.70" y="270.80" font-size="8.0" fill="#1e1e1e" stroke="#1e1e1e" stroke-width="0.3" text-anchor="end" transform="rotate(-45 343.70 270.80)">CD19/22</text>
<text x="366.30" y="270.80" font-size="8.0" fill="#1e1e1e" stroke="#1e1e1e" stroke-width="0.3" text-anchor="end" transform="rotate(-45 366.30 270.80)">CD22</text>
<text x="274.74" y="217.75" font-size="9.0" fill="#1e1e1e" stroke="#1e1e1e" stroke-width="0.3" text-anchor="middle" transform="rotate(-90 274.74 217.75)" textLength="55.5" lengthAdjust="spacingAndGlyphs">Peak IL2 (pg/mL)</text>
<line x1="317.70" y1="207.40" x2="317.70" y2="224.50" stroke="#222" stroke-width="1.0"/>
<line x1="313.90" y1="207.40" x2="321.50" y2="207.40" stroke="#222" stroke-width="1.0"/>
<line x1="313.90" y1="224.50" x2="321.50" y2="224.50" stroke="#222" stroke-width="1.0"/>
<line x1="309.30" y1="216.40" x2="326.10" y2="216.40" stroke="#222" stroke-width="1.2"/>
<line x1="340.50" y1="214.60" x2="340.50" y2="231.80" stroke="#222" stroke-width="1.0"/>
<line x1="334.50" y1="214.60" x2="346.50" y2="214.60" stroke="#222" stroke-width="1.0"/>
<line x1="334.50" y1="231.80" x2="346.50" y2="231.80" stroke="#222" stroke-width="1.0"/>
<line x1="334.50" y1="231.80" x2="346.50" y2="231.80" stroke="#222" stroke-width="1.2"/>
<line x1="363.10" y1="221.50" x2="363.10" y2="238.50" stroke="#222" stroke-width="1.0"/>
<line x1="359.30" y1="221.50" x2="366.90" y2="221.50" stroke="#222" stroke-width="1.0"/>
<line x1="359.30" y1="238.50" x2="366.90" y2="238.50" stroke="#222" stroke-width="1.0"/>
<line x1="355.10" y1="233.80" x2="371.10" y2="233.80" stroke="#222" stroke-width="1.2"/>
<line x1="317.70" y1="171.50" x2="363.10" y2="171.50" stroke="#3a3a3a" stroke-width="1.1"/>
<line x1="317.70" y1="169.70" x2="317.70" y2="173.30" stroke="#3a3a3a" stroke-width="1.1"/>
<line x1="363.10" y1="169.70" x2="363.10" y2="173.30" stroke="#3a3a3a" stroke-width="1.1"/>
<polygon points="335.07,165.85 335.53,166.97 336.74,167.06 335.82,167.84 336.10,169.02 335.07,168.38 334.05,169.02 334.33,167.84 333.41,167.06 334.62,166.97" fill="#3a3a3a"/>
<polygon points="338.62,165.85 339.08,166.97 340.29,167.06 339.37,167.84 339.65,169.02 338.62,168.38 337.60,169.02 337.88,167.84 336.96,167.06 338.17,166.97" fill="#3a3a3a"/>
<polygon points="342.17,165.85 342.63,166.97 343.84,167.06 342.92,167.84 343.20,169.02 342.17,168.38 341.15,169.02 341.43,167.84 340.51,167.06 341.72,166.97" fill="#3a3a3a"/>
<polygon points="345.72,165.85 346.18,166.97 347.39,167.06 346.47,167.84 346.75,169.02 345.72,168.38 344.70,169.02 344.98,167.84 344.06,167.06 345.27,166.97" fill="#3a3a3a"/>
<line x1="317.70" y1="185.80" x2="340.50" y2="185.80" stroke="#3a3a3a" stroke-width="1.1"/>
<line x1="317.70" y1="184.00" x2="317.70" y2="187.60" stroke="#3a3a3a" stroke-width="1.1"/>
<line x1="340.50" y1="184.00" x2="340.50" y2="187.60" stroke="#3a3a3a" stroke-width="1.1"/>
<text x="329.10" y="180.50" font-size="8.0" fill="#3a3a3a" stroke="#3a3a3a" stroke-width="0.3" text-anchor="middle" textLength="27.1" lengthAdjust="spacingAndGlyphs"><tspan font-style="italic">p</tspan>=0.063</text>
<line x1="340.50" y1="197.70" x2="363.10" y2="197.70" stroke="#3a3a3a" stroke-width="1.1"/>
<line x1="340.50" y1="195.90" x2="340.50" y2="199.50" stroke="#3a3a3a" stroke-width="1.1"/>
<line x1="363.10" y1="195.90" x2="363.10" y2="199.50" stroke="#3a3a3a" stroke-width="1.1"/>
<polygon points="351.80,192.05 352.26,193.17 353.46,193.26 352.54,194.04 352.83,195.22 351.80,194.58 350.77,195.22 351.06,194.04 350.14,193.26 351.34,193.17" fill="#3a3a3a"/>
<text x="387.00" y="163.00" font-size="12.2" fill="#000" stroke="#000" stroke-width="0.45" font-weight="bold">H</text>
<line x1="431.10" y1="177.30" x2="431.10" y2="260.90" stroke="#000" stroke-width="1.3"/>
<line x1="428.10" y1="181.60" x2="431.10" y2="181.60" stroke="#000" stroke-width="1.3"/>
<text x="425.20" y="184.20" font-size="7.8" fill="#1e1e1e" stroke="#1e1e1e" stroke-width="0.3" text-anchor="end">100</text>
<line x1="428.10" y1="208.10" x2="431.10" y2="208.10" stroke="#000" stroke-width="1.3"/>
<text x="425.20" y="210.70" font-size="7.8" fill="#1e1e1e" stroke="#1e1e1e" stroke-width="0.3" text-anchor="end">10</text>
<line x1="428.10" y1="234.70" x2="431.10" y2="234.70" stroke="#000" stroke-width="1.3"/>
<text x="425.20" y="237.30" font-size="7.8" fill="#1e1e1e" stroke="#1e1e1e" stroke-width="0.3" text-anchor="end">1</text>
<line x1="428.10" y1="260.90" x2="431.10" y2="260.90" stroke="#000" stroke-width="1.3"/>
<text x="425.20" y="263.50" font-size="7.8" fill="#1e1e1e" stroke="#1e1e1e" stroke-width="0.3" text-anchor="end">0.1</text>
<line x1="430.60" y1="260.90" x2="512.50" y2="260.90" stroke="#000" stroke-width="1.3"/>
<line x1="448.20" y1="260.90" x2="448.20" y2="263.40" stroke="#000" stroke-width="1.3"/>
<line x1="473.50" y1="260.90" x2="473.50" y2="263.40" stroke="#000" stroke-width="1.3"/>
<line x1="498.60" y1="260.90" x2="498.60" y2="263.40" stroke="#000" stroke-width="1.3"/>
<text x="451.40" y="270.20" font-size="8.0" fill="#1e1e1e" stroke="#1e1e1e" stroke-width="0.3" text-anchor="end" transform="rotate(-45 451.40 270.20)">CD19</text>
<text x="476.70" y="270.20" font-size="8.0" fill="#1e1e1e" stroke="#1e1e1e" stroke-width="0.3" text-anchor="end" transform="rotate(-45 476.70 270.20)">CD19/22</text>
<text x="501.80" y="270.20" font-size="8.0" fill="#1e1e1e" stroke="#1e1e1e" stroke-width="0.3" text-anchor="end" transform="rotate(-45 501.80 270.20)">CD22</text>
<text x="407.74" y="217.50" font-size="9.0" fill="#1e1e1e" stroke="#1e1e1e" stroke-width="0.3" text-anchor="middle" transform="rotate(-90 407.74 217.50)" textLength="60.0" lengthAdjust="spacingAndGlyphs">Peak IL1β (pg/mL)</text>
<line x1="448.20" y1="219.50" x2="448.20" y2="249.00" stroke="#222" stroke-width="1.0"/>
<line x1="444.30" y1="219.50" x2="452.10" y2="219.50" stroke="#222" stroke-width="1.0"/>
<line x1="444.30" y1="249.00" x2="452.10" y2="249.00" stroke="#222" stroke-width="1.0"/>
<line x1="440.00" y1="236.20" x2="456.40" y2="236.20" stroke="#222" stroke-width="1.2"/>
<line x1="498.60" y1="217.70" x2="498.60" y2="242.90" stroke="#222" stroke-width="1.0"/>
<line x1="494.40" y1="217.70" x2="502.80" y2="217.70" stroke="#222" stroke-width="1.0"/>
<line x1="494.40" y1="242.90" x2="502.80" y2="242.90" stroke="#222" stroke-width="1.0"/>
<line x1="490.50" y1="232.30" x2="506.70" y2="232.30" stroke="#222" stroke-width="1.2"/>
<line x1="448.20" y1="171.80" x2="498.60" y2="171.80" stroke="#3a3a3a" stroke-width="1.1"/>
<line x1="448.20" y1="170.00" x2="448.20" y2="173.60" stroke="#3a3a3a" stroke-width="1.1"/>
<line x1="498.60" y1="170.00" x2="498.60" y2="173.60" stroke="#3a3a3a" stroke-width="1.1"/>
<text x="473.40" y="167.60" font-size="8.0" fill="#3a3a3a" stroke="#3a3a3a" stroke-width="0.3" text-anchor="middle" textLength="22.96" lengthAdjust="spacingAndGlyphs"><tspan font-style="italic">p</tspan>=0.33</text>
<line x1="448.20" y1="183.00" x2="472.90" y2="183.00" stroke="#3a3a3a" stroke-width="1.1"/>
<line x1="448.20" y1="181.20" x2="448.20" y2="184.80" stroke="#3a3a3a" stroke-width="1.1"/>
<line x1="472.90" y1="181.20" x2="472.90" y2="184.80" stroke="#3a3a3a" stroke-width="1.1"/>
<polygon points="458.77,177.35 459.23,178.47 460.44,178.56 459.52,179.34 459.80,180.52 458.77,179.88 457.75,180.52 458.03,179.34 457.11,178.56 458.32,178.47" fill="#3a3a3a"/>
<polygon points="462.32,177.35 462.78,178.47 463.99,178.56 463.07,179.34 463.35,180.52 462.32,179.88 461.30,180.52 461.58,179.34 460.66,178.56 461.87,178.47" fill="#3a3a3a"/>
<line x1="474.30" y1="183.00" x2="498.60" y2="183.00" stroke="#3a3a3a" stroke-width="1.1"/>
<line x1="474.30" y1="181.20" x2="474.30" y2="184.80" stroke="#3a3a3a" stroke-width="1.1"/>
<line x1="498.60" y1="181.20" x2="498.60" y2="184.80" stroke="#3a3a3a" stroke-width="1.1"/>
<polygon points="481.13,177.35 481.58,178.47 482.79,178.56 481.87,179.34 482.15,180.52 481.13,179.88 480.10,180.52 480.38,179.34 479.46,178.56 480.67,178.47" fill="#3a3a3a"/>
<polygon points="484.68,177.35 485.13,178.47 486.34,178.56 485.42,179.34 485.70,180.52 484.68,179.88 483.65,180.52 483.93,179.34 483.01,178.56 484.22,178.47" fill="#3a3a3a"/>
<polygon points="488.23,177.35 488.68,178.47 489.89,178.56 488.97,179.34 489.25,180.52 488.23,179.88 487.20,180.52 487.48,179.34 486.56,178.56 487.77,178.47" fill="#3a3a3a"/>
<polygon points="491.78,177.35 492.23,178.47 493.44,178.56 492.52,179.34 492.80,180.52 491.78,179.88 490.75,180.52 491.03,179.34 490.11,178.56 491.32,178.47" fill="#3a3a3a"/>
<text x="6.50" y="309.40" font-size="12.2" fill="#000" stroke="#000" stroke-width="0.45" font-weight="bold">I</text>
<line x1="52.30" y1="323.50" x2="52.30" y2="409.30" stroke="#000" stroke-width="1.3"/>
<line x1="49.30" y1="327.30" x2="52.30" y2="327.30" stroke="#000" stroke-width="1.3"/>
<text x="46.40" y="329.90" font-size="7.8" fill="#1e1e1e" stroke="#1e1e1e" stroke-width="0.3" text-anchor="end">100</text>
<line x1="49.30" y1="354.70" x2="52.30" y2="354.70" stroke="#000" stroke-width="1.3"/>
<text x="46.40" y="357.30" font-size="7.8" fill="#1e1e1e" stroke="#1e1e1e" stroke-width="0.3" text-anchor="end">10</text>
<line x1="49.30" y1="382.40" x2="52.30" y2="382.40" stroke="#000" stroke-width="1.3"/>
<text x="46.40" y="385.00" font-size="7.8" fill="#1e1e1e" stroke="#1e1e1e" stroke-width="0.3" text-anchor="end">1</text>
<line x1="49.30" y1="409.30" x2="52.30" y2="409.30" stroke="#000" stroke-width="1.3"/>
<text x="46.40" y="411.90" font-size="7.8" fill="#1e1e1e" stroke="#1e1e1e" stroke-width="0.3" text-anchor="end">0.1</text>
<line x1="51.80" y1="409.30" x2="127.50" y2="409.30" stroke="#000" stroke-width="1.3"/>
<line x1="67.40" y1="409.30" x2="67.40" y2="411.80" stroke="#000" stroke-width="1.3"/>
<line x1="90.30" y1="409.30" x2="90.30" y2="411.80" stroke="#000" stroke-width="1.3"/>
<line x1="112.80" y1="409.30" x2="112.80" y2="411.80" stroke="#000" stroke-width="1.3"/>
<text x="70.60" y="418.60" font-size="8.0" fill="#1e1e1e" stroke="#1e1e1e" stroke-width="0.3" text-anchor="end" transform="rotate(-45 70.60 418.60)">CD19</text>
<text x="93.50" y="418.60" font-size="8.0" fill="#1e1e1e" stroke="#1e1e1e" stroke-width="0.3" text-anchor="end" transform="rotate(-45 93.50 418.60)">CD19/22</text>
<text x="116.00" y="418.60" font-size="8.0" fill="#1e1e1e" stroke="#1e1e1e" stroke-width="0.3" text-anchor="end" transform="rotate(-45 116.00 418.60)">CD22</text>
<text x="29.44" y="366.20" font-size="9.0" fill="#1e1e1e" stroke="#1e1e1e" stroke-width="0.3" text-anchor="middle" transform="rotate(-90 29.44 366.20)" textLength="73.19999999999999" lengthAdjust="spacingAndGlyphs">Peak IL12p70 (pg/mL)</text>
<line x1="67.40" y1="378.70" x2="67.40" y2="393.20" stroke="#222" stroke-width="1.0"/>
<line x1="63.80" y1="378.70" x2="71.00" y2="378.70" stroke="#222" stroke-width="1.0"/>
<line x1="63.80" y1="393.20" x2="71.00" y2="393.20" stroke="#222" stroke-width="1.0"/>
<line x1="59.20" y1="386.10" x2="75.60" y2="386.10" stroke="#222" stroke-width="1.2"/>
<line x1="86.50" y1="383.20" x2="94.10" y2="383.20" stroke="#222" stroke-width="1.0"/>
<line x1="90.20" y1="400.40" x2="90.40" y2="400.40" stroke="#222" stroke-width="1.2"/>
<line x1="90.30" y1="383.20" x2="90.30" y2="400.40" stroke="#222" stroke-width="1.0"/>
<line x1="108.60" y1="375.00" x2="117.00" y2="375.00" stroke="#222" stroke-width="1.0"/>
<line x1="104.60" y1="387.30" x2="121.00" y2="387.30" stroke="#222" stroke-width="1.2"/>
<line x1="112.80" y1="375.00" x2="112.80" y2="398.00" stroke="#222" stroke-width="1.0"/>
<line x1="67.40" y1="318.50" x2="112.80" y2="318.50" stroke="#3a3a3a" stroke-width="1.1"/>
<line x1="67.40" y1="316.70" x2="67.40" y2="320.30" stroke="#3a3a3a" stroke-width="1.1"/>
<line x1="112.80" y1="316.70" x2="112.80" y2="320.30" stroke="#3a3a3a" stroke-width="1.1"/>
<text x="90.10" y="314.80" font-size="8.0" fill="#3a3a3a" stroke="#3a3a3a" stroke-width="0.3" text-anchor="middle" textLength="22.96" lengthAdjust="spacingAndGlyphs"><tspan font-style="italic">p</tspan>=0.98</text>
<line x1="90.30" y1="327.00" x2="112.80" y2="327.00" stroke="#3a3a3a" stroke-width="1.1"/>
<line x1="90.30" y1="325.20" x2="90.30" y2="328.80" stroke="#3a3a3a" stroke-width="1.1"/>
<line x1="112.80" y1="325.20" x2="112.80" y2="328.80" stroke="#3a3a3a" stroke-width="1.1"/>
<polygon points="101.55,321.35 102.01,322.47 103.21,322.56 102.29,323.34 102.58,324.52 101.55,323.88 100.52,324.52 100.81,323.34 99.89,322.56 101.09,322.47" fill="#3a3a3a"/>
<line x1="67.40" y1="343.20" x2="90.30" y2="343.20" stroke="#3a3a3a" stroke-width="1.1"/>
<line x1="67.40" y1="341.40" x2="67.40" y2="345.00" stroke="#3a3a3a" stroke-width="1.1"/>
<line x1="90.30" y1="341.40" x2="90.30" y2="345.00" stroke="#3a3a3a" stroke-width="1.1"/>
<text x="78.85" y="337.90" font-size="8.0" fill="#3a3a3a" stroke="#3a3a3a" stroke-width="0.3" text-anchor="middle" textLength="22.96" lengthAdjust="spacingAndGlyphs"><tspan font-style="italic">p</tspan>=0.84</text>
<text x="135.50" y="309.40" font-size="12.2" fill="#000" stroke="#000" stroke-width="0.45" font-weight="bold">J</text>
<line x1="174.60" y1="322.70" x2="174.60" y2="409.30" stroke="#000" stroke-width="1.3"/>
<line x1="171.60" y1="326.50" x2="174.60" y2="326.50" stroke="#000" stroke-width="1.3"/>
<text x="168.70" y="329.10" font-size="7.8" fill="#1e1e1e" stroke="#1e1e1e" stroke-width="0.3" text-anchor="end">1000</text>
<line x1="171.60" y1="343.00" x2="174.60" y2="343.00" stroke="#000" stroke-width="1.3"/>
<text x="168.70" y="345.60" font-size="7.8" fill="#1e1e1e" stroke="#1e1e1e" stroke-width="0.3" text-anchor="end">100</text>
<line x1="171.60" y1="359.30" x2="174.60" y2="359.30" stroke="#000" stroke-width="1.3"/>
<text x="168.70" y="361.90" font-size="7.8" fill="#1e1e1e" stroke="#1e1e1e" stroke-width="0.3" text-anchor="end">10</text>
<line x1="171.60" y1="376.10" x2="174.60" y2="376.10" stroke="#000" stroke-width="1.3"/>
<text x="168.70" y="378.70" font-size="7.8" fill="#1e1e1e" stroke="#1e1e1e" stroke-width="0.3" text-anchor="end">1</text>
<line x1="171.60" y1="392.70" x2="174.60" y2="392.70" stroke="#000" stroke-width="1.3"/>
<text x="168.70" y="395.30" font-size="7.8" fill="#1e1e1e" stroke="#1e1e1e" stroke-width="0.3" text-anchor="end">0.1</text>
<line x1="171.60" y1="409.30" x2="174.60" y2="409.30" stroke="#000" stroke-width="1.3"/>
<text x="168.70" y="411.90" font-size="7.8" fill="#1e1e1e" stroke="#1e1e1e" stroke-width="0.3" text-anchor="end">0.01</text>
<line x1="174.10" y1="409.30" x2="249.50" y2="409.30" stroke="#000" stroke-width="1.3"/>
<line x1="189.70" y1="409.30" x2="189.70" y2="411.80" stroke="#000" stroke-width="1.3"/>
<line x1="212.50" y1="409.30" x2="212.50" y2="411.80" stroke="#000" stroke-width="1.3"/>
<line x1="234.80" y1="409.30" x2="234.80" y2="411.80" stroke="#000" stroke-width="1.3"/>
<text x="192.90" y="418.60" font-size="8.0" fill="#1e1e1e" stroke="#1e1e1e" stroke-width="0.3" text-anchor="end" transform="rotate(-45 192.90 418.60)">CD19</text>
<text x="215.70" y="418.60" font-size="8.0" fill="#1e1e1e" stroke="#1e1e1e" stroke-width="0.3" text-anchor="end" transform="rotate(-45 215.70 418.60)">CD19/22</text>
<text x="238.00" y="418.60" font-size="8.0" fill="#1e1e1e" stroke="#1e1e1e" stroke-width="0.3" text-anchor="end" transform="rotate(-45 238.00 418.60)">CD22</text>
<text x="147.04" y="366.00" font-size="9.0" fill="#1e1e1e" stroke="#1e1e1e" stroke-width="0.3" text-anchor="middle" transform="rotate(-90 147.04 366.00)" textLength="56.0" lengthAdjust="spacingAndGlyphs">Peak IL4 (pg/mL)</text>
<line x1="189.70" y1="384.50" x2="189.70" y2="388.50" stroke="#222" stroke-width="1.0"/>
<line x1="185.90" y1="384.50" x2="193.50" y2="384.50" stroke="#222" stroke-width="1.0"/>
<line x1="185.90" y1="388.50" x2="193.50" y2="388.50" stroke="#222" stroke-width="1.0"/>
<line x1="181.40" y1="386.20" x2="198.00" y2="386.20" stroke="#222" stroke-width="1.2"/>
<line x1="208.70" y1="382.20" x2="216.30" y2="382.20" stroke="#222" stroke-width="1.0"/>
<line x1="212.40" y1="393.00" x2="212.60" y2="393.00" stroke="#222" stroke-width="1.2"/>
<line x1="212.50" y1="382.20" x2="212.50" y2="393.00" stroke="#222" stroke-width="1.0"/>
<line x1="231.10" y1="375.20" x2="238.70" y2="375.20" stroke="#222" stroke-width="1.0"/>
<line x1="226.70" y1="383.20" x2="243.10" y2="383.20" stroke="#222" stroke-width="1.2"/>
<line x1="234.90" y1="375.20" x2="234.90" y2="391.00" stroke="#222" stroke-width="1.0"/>
<line x1="189.70" y1="318.50" x2="234.80" y2="318.50" stroke="#3a3a3a" stroke-width="1.1"/>
<line x1="189.70" y1="316.70" x2="189.70" y2="320.30" stroke="#3a3a3a" stroke-width="1.1"/>
<line x1="234.80" y1="316.70" x2="234.80" y2="320.30" stroke="#3a3a3a" stroke-width="1.1"/>
<text x="212.25" y="315.10" font-size="8.0" fill="#3a3a3a" stroke="#3a3a3a" stroke-width="0.3" text-anchor="middle" textLength="22.96" lengthAdjust="spacingAndGlyphs"><tspan font-style="italic">p</tspan>=0.27</text>
<line x1="212.50" y1="333.00" x2="234.80" y2="333.00" stroke="#3a3a3a" stroke-width="1.1"/>
<line x1="212.50" y1="331.20" x2="212.50" y2="334.80" stroke="#3a3a3a" stroke-width="1.1"/>
<line x1="234.80" y1="331.20" x2="234.80" y2="334.80" stroke="#3a3a3a" stroke-width="1.1"/>
<polygon points="221.88,327.35 222.33,328.47 223.54,328.56 222.62,329.34 222.90,330.52 221.88,329.88 220.85,330.52 221.13,329.34 220.21,328.56 221.42,328.47" fill="#3a3a3a"/>
<polygon points="225.43,327.35 225.88,328.47 227.09,328.56 226.17,329.34 226.45,330.52 225.43,329.88 224.40,330.52 224.68,329.34 223.76,328.56 224.97,328.47" fill="#3a3a3a"/>
<line x1="189.70" y1="359.20" x2="212.50" y2="359.20" stroke="#3a3a3a" stroke-width="1.1"/>
<line x1="189.70" y1="357.40" x2="189.70" y2="361.00" stroke="#3a3a3a" stroke-width="1.1"/>
<line x1="212.50" y1="357.40" x2="212.50" y2="361.00" stroke="#3a3a3a" stroke-width="1.1"/>
<text x="201.10" y="353.40" font-size="8.0" fill="#3a3a3a" stroke="#3a3a3a" stroke-width="0.3" text-anchor="middle" textLength="22.96" lengthAdjust="spacingAndGlyphs"><tspan font-style="italic">p</tspan>=0.06</text>
<text x="259.00" y="309.40" font-size="12.2" fill="#000" stroke="#000" stroke-width="0.45" font-weight="bold">K</text>
<line x1="302.60" y1="323.80" x2="302.60" y2="409.30" stroke="#000" stroke-width="1.3"/>
<line x1="299.60" y1="328.10" x2="302.60" y2="328.10" stroke="#000" stroke-width="1.3"/>
<text x="296.70" y="330.70" font-size="7.8" fill="#1e1e1e" stroke="#1e1e1e" stroke-width="0.3" text-anchor="end">1000</text>
<line x1="299.60" y1="348.50" x2="302.60" y2="348.50" stroke="#000" stroke-width="1.3"/>
<text x="296.70" y="351.10" font-size="7.8" fill="#1e1e1e" stroke="#1e1e1e" stroke-width="0.3" text-anchor="end">100</text>
<line x1="299.60" y1="368.80" x2="302.60" y2="368.80" stroke="#000" stroke-width="1.3"/>
<text x="296.70" y="371.40" font-size="7.8" fill="#1e1e1e" stroke="#1e1e1e" stroke-width="0.3" text-anchor="end">10</text>
<line x1="299.60" y1="389.20" x2="302.60" y2="389.20" stroke="#000" stroke-width="1.3"/>
<text x="296.70" y="391.80" font-size="7.8" fill="#1e1e1e" stroke="#1e1e1e" stroke-width="0.3" text-anchor="end">1</text>
<line x1="299.60" y1="409.30" x2="302.60" y2="409.30" stroke="#000" stroke-width="1.3"/>
<text x="296.70" y="411.90" font-size="7.8" fill="#1e1e1e" stroke="#1e1e1e" stroke-width="0.3" text-anchor="end">0.1</text>
<line x1="302.10" y1="409.30" x2="378.50" y2="409.30" stroke="#000" stroke-width="1.3"/>
<line x1="317.70" y1="409.30" x2="317.70" y2="411.80" stroke="#000" stroke-width="1.3"/>
<line x1="340.50" y1="409.30" x2="340.50" y2="411.80" stroke="#000" stroke-width="1.3"/>
<line x1="363.10" y1="409.30" x2="363.10" y2="411.80" stroke="#000" stroke-width="1.3"/>
<text x="320.90" y="418.60" font-size="8.0" fill="#1e1e1e" stroke="#1e1e1e" stroke-width="0.3" text-anchor="end" transform="rotate(-45 320.90 418.60)">CD19</text>
<text x="343.70" y="418.60" font-size="8.0" fill="#1e1e1e" stroke="#1e1e1e" stroke-width="0.3" text-anchor="end" transform="rotate(-45 343.70 418.60)">CD19/22</text>
<text x="366.30" y="418.60" font-size="8.0" fill="#1e1e1e" stroke="#1e1e1e" stroke-width="0.3" text-anchor="end" transform="rotate(-45 366.30 418.60)">CD22</text>
<text x="273.94" y="366.20" font-size="9.0" fill="#1e1e1e" stroke="#1e1e1e" stroke-width="0.3" text-anchor="middle" transform="rotate(-90 273.94 366.20)" textLength="69.39999999999998" lengthAdjust="spacingAndGlyphs">Peak GMCSF (pg/mL)</text>
<line x1="317.70" y1="350.80" x2="317.70" y2="382.80" stroke="#222" stroke-width="1.0"/>
<line x1="313.80" y1="350.80" x2="321.60" y2="350.80" stroke="#222" stroke-width="1.0"/>
<line x1="313.80" y1="382.80" x2="321.60" y2="382.80" stroke="#222" stroke-width="1.0"/>
<line x1="309.80" y1="370.30" x2="325.60" y2="370.30" stroke="#222" stroke-width="1.2"/>
<line x1="336.70" y1="371.50" x2="344.30" y2="371.50" stroke="#222" stroke-width="1.0"/>
<line x1="332.50" y1="380.70" x2="348.50" y2="380.70" stroke="#222" stroke-width="1.2"/>
<line x1="340.50" y1="371.50" x2="340.50" y2="386.00" stroke="#222" stroke-width="1.0"/>
<line x1="359.10" y1="372.80" x2="367.10" y2="372.80" stroke="#222" stroke-width="1.0"/>
<line x1="354.80" y1="382.50" x2="371.40" y2="382.50" stroke="#222" stroke-width="1.2"/>
<line x1="317.70" y1="316.20" x2="363.10" y2="316.20" stroke="#3a3a3a" stroke-width="1.1"/>
<line x1="317.70" y1="314.40" x2="317.70" y2="318.00" stroke="#3a3a3a" stroke-width="1.1"/>
<line x1="363.10" y1="314.40" x2="363.10" y2="318.00" stroke="#3a3a3a" stroke-width="1.1"/>
<polygon points="338.62,310.55 339.08,311.67 340.29,311.76 339.37,312.54 339.65,313.72 338.62,313.08 337.60,313.72 337.88,312.54 336.96,311.76 338.17,311.67" fill="#3a3a3a"/>
<polygon points="342.17,310.55 342.63,311.67 343.84,311.76 342.92,312.54 343.20,313.72 342.17,313.08 341.15,313.72 341.43,312.54 340.51,311.76 341.72,311.67" fill="#3a3a3a"/>
<line x1="317.70" y1="326.10" x2="340.50" y2="326.10" stroke="#3a3a3a" stroke-width="1.1"/>
<line x1="317.70" y1="324.30" x2="317.70" y2="327.90" stroke="#3a3a3a" stroke-width="1.1"/>
<line x1="340.50" y1="324.30" x2="340.50" y2="327.90" stroke="#3a3a3a" stroke-width="1.1"/>
<polygon points="329.10,320.45 329.56,321.57 330.76,321.66 329.84,322.44 330.13,323.62 329.10,322.98 328.07,323.62 328.36,322.44 327.44,321.66 328.64,321.57" fill="#3a3a3a"/>
<line x1="340.50" y1="340.70" x2="363.10" y2="340.70" stroke="#3a3a3a" stroke-width="1.1"/>
<line x1="340.50" y1="338.90" x2="340.50" y2="342.50" stroke="#3a3a3a" stroke-width="1.1"/>
<line x1="363.10" y1="338.90" x2="363.10" y2="342.50" stroke="#3a3a3a" stroke-width="1.1"/>
<text x="351.80" y="335.30" font-size="8.0" fill="#3a3a3a" stroke="#3a3a3a" stroke-width="0.3" text-anchor="middle" textLength="22.96" lengthAdjust="spacingAndGlyphs"><tspan font-style="italic">p</tspan>=0.91</text>
<text x="387.00" y="309.40" font-size="12.2" fill="#000" stroke="#000" stroke-width="0.45" font-weight="bold">L</text>
<line x1="431.10" y1="325.40" x2="431.10" y2="409.30" stroke="#000" stroke-width="1.3"/>
<line x1="428.10" y1="329.20" x2="431.10" y2="329.20" stroke="#000" stroke-width="1.3"/>
<text x="425.20" y="331.80" font-size="7.8" fill="#1e1e1e" stroke="#1e1e1e" stroke-width="0.3" text-anchor="end">100000</text>
<line x1="428.10" y1="345.70" x2="431.10" y2="345.70" stroke="#000" stroke-width="1.3"/>
<text x="425.20" y="348.30" font-size="7.8" fill="#1e1e1e" stroke="#1e1e1e" stroke-width="0.3" text-anchor="end">10000</text>
<line x1="428.10" y1="361.20" x2="431.10" y2="361.20" stroke="#000" stroke-width="1.3"/>
<text x="425.20" y="363.80" font-size="7.8" fill="#1e1e1e" stroke="#1e1e1e" stroke-width="0.3" text-anchor="end">1000</text>
<line x1="428.10" y1="377.70" x2="431.10" y2="377.70" stroke="#000" stroke-width="1.3"/>
<text x="425.20" y="380.30" font-size="7.8" fill="#1e1e1e" stroke="#1e1e1e" stroke-width="0.3" text-anchor="end">100</text>
<line x1="428.10" y1="393.80" x2="431.10" y2="393.80" stroke="#000" stroke-width="1.3"/>
<text x="425.20" y="396.40" font-size="7.8" fill="#1e1e1e" stroke="#1e1e1e" stroke-width="0.3" text-anchor="end">10</text>
<line x1="428.10" y1="409.30" x2="431.10" y2="409.30" stroke="#000" stroke-width="1.3"/>
<text x="425.20" y="411.90" font-size="7.8" fill="#1e1e1e" stroke="#1e1e1e" stroke-width="0.3" text-anchor="end">1</text>
<line x1="430.60" y1="409.30" x2="512.50" y2="409.30" stroke="#000" stroke-width="1.3"/>
<line x1="448.20" y1="409.30" x2="448.20" y2="411.80" stroke="#000" stroke-width="1.3"/>
<line x1="473.50" y1="409.30" x2="473.50" y2="411.80" stroke="#000" stroke-width="1.3"/>
<line x1="498.60" y1="409.30" x2="498.60" y2="411.80" stroke="#000" stroke-width="1.3"/>
<text x="451.40" y="418.60" font-size="8.0" fill="#1e1e1e" stroke="#1e1e1e" stroke-width="0.3" text-anchor="end" transform="rotate(-45 451.40 418.60)">CD19</text>
<text x="476.70" y="418.60" font-size="8.0" fill="#1e1e1e" stroke="#1e1e1e" stroke-width="0.3" text-anchor="end" transform="rotate(-45 476.70 418.60)">CD19/22</text>
<text x="501.80" y="418.60" font-size="8.0" fill="#1e1e1e" stroke="#1e1e1e" stroke-width="0.3" text-anchor="end" transform="rotate(-45 501.80 418.60)">CD22</text>
<text x="394.74" y="366.00" font-size="9.0" fill="#1e1e1e" stroke="#1e1e1e" stroke-width="0.3" text-anchor="middle" transform="rotate(-90 394.74 366.00)" textLength="60.0" lengthAdjust="spacingAndGlyphs">Peak IFNγ (pg/mL)</text>
<line x1="448.20" y1="355.10" x2="448.20" y2="379.30" stroke="#222" stroke-width="1.0"/>
<line x1="444.40" y1="355.10" x2="452.00" y2="355.10" stroke="#222" stroke-width="1.0"/>
<line x1="444.40" y1="379.30" x2="452.00" y2="379.30" stroke="#222" stroke-width="1.0"/>
<line x1="439.80" y1="367.80" x2="456.60" y2="367.80" stroke="#222" stroke-width="1.2"/>
<line x1="473.50" y1="354.80" x2="473.50" y2="373.30" stroke="#222" stroke-width="1.0"/>
<line x1="469.70" y1="354.80" x2="477.30" y2="354.80" stroke="#222" stroke-width="1.0"/>
<line x1="469.70" y1="373.30" x2="477.30" y2="373.30" stroke="#222" stroke-width="1.0"/>
<line x1="465.10" y1="361.20" x2="481.90" y2="361.20" stroke="#222" stroke-width="1.2"/>
<line x1="494.30" y1="369.40" x2="502.50" y2="369.40" stroke="#222" stroke-width="1.0"/>
<line x1="490.20" y1="358.30" x2="506.60" y2="358.30" stroke="#222" stroke-width="1.2"/>
<line x1="498.40" y1="358.30" x2="498.40" y2="369.40" stroke="#222" stroke-width="1.0"/>
<line x1="448.20" y1="317.50" x2="498.60" y2="317.50" stroke="#3a3a3a" stroke-width="1.1"/>
<line x1="448.20" y1="315.70" x2="448.20" y2="319.30" stroke="#3a3a3a" stroke-width="1.1"/>
<line x1="498.60" y1="315.70" x2="498.60" y2="319.30" stroke="#3a3a3a" stroke-width="1.1"/>
<polygon points="473.40,311.85 473.86,312.97 475.06,313.06 474.14,313.84 474.43,315.02 473.40,314.38 472.37,315.02 472.66,313.84 471.74,313.06 472.94,312.97" fill="#3a3a3a"/>
<line x1="448.20" y1="331.50" x2="473.50" y2="331.50" stroke="#3a3a3a" stroke-width="1.1"/>
<line x1="448.20" y1="329.70" x2="448.20" y2="333.30" stroke="#3a3a3a" stroke-width="1.1"/>
<line x1="473.50" y1="329.70" x2="473.50" y2="333.30" stroke="#3a3a3a" stroke-width="1.1"/>
<text x="460.85" y="326.30" font-size="8.0" fill="#3a3a3a" stroke="#3a3a3a" stroke-width="0.3" text-anchor="middle" textLength="22.96" lengthAdjust="spacingAndGlyphs"><tspan font-style="italic">p</tspan>=0.44</text>
<line x1="473.50" y1="344.80" x2="498.60" y2="344.80" stroke="#3a3a3a" stroke-width="1.1"/>
<line x1="473.50" y1="343.00" x2="473.50" y2="346.60" stroke="#3a3a3a" stroke-width="1.1"/>
<line x1="498.60" y1="343.00" x2="498.60" y2="346.60" stroke="#3a3a3a" stroke-width="1.1"/>
<text x="486.05" y="339.80" font-size="8.0" fill="#3a3a3a" stroke="#3a3a3a" stroke-width="0.3" text-anchor="middle" textLength="22.96" lengthAdjust="spacingAndGlyphs"><tspan font-style="italic">p</tspan>=0.41</text>
<text x="6.50" y="457.70" font-size="12.2" fill="#000" stroke="#000" stroke-width="0.45" font-weight="bold">M</text>
<line x1="52.30" y1="471.80" x2="52.30" y2="555.80" stroke="#000" stroke-width="1.3"/>
<line x1="49.30" y1="474.90" x2="52.30" y2="474.90" stroke="#000" stroke-width="1.3"/>
<text x="46.40" y="477.50" font-size="7.8" fill="#1e1e1e" stroke="#1e1e1e" stroke-width="0.3" text-anchor="end">10000</text>
<line x1="49.30" y1="491.20" x2="52.30" y2="491.20" stroke="#000" stroke-width="1.3"/>
<text x="46.40" y="493.80" font-size="7.8" fill="#1e1e1e" stroke="#1e1e1e" stroke-width="0.3" text-anchor="end">1000</text>
<line x1="49.30" y1="507.50" x2="52.30" y2="507.50" stroke="#000" stroke-width="1.3"/>
<text x="46.40" y="510.10" font-size="7.8" fill="#1e1e1e" stroke="#1e1e1e" stroke-width="0.3" text-anchor="end">100</text>
<line x1="49.30" y1="523.40" x2="52.30" y2="523.40" stroke="#000" stroke-width="1.3"/>
<text x="46.40" y="526.00" font-size="7.8" fill="#1e1e1e" stroke="#1e1e1e" stroke-width="0.3" text-anchor="end">10</text>
<line x1="49.30" y1="539.60" x2="52.30" y2="539.60" stroke="#000" stroke-width="1.3"/>
<text x="46.40" y="542.20" font-size="7.8" fill="#1e1e1e" stroke="#1e1e1e" stroke-width="0.3" text-anchor="end">1</text>
<line x1="49.30" y1="555.80" x2="52.30" y2="555.80" stroke="#000" stroke-width="1.3"/>
<text x="46.40" y="558.40" font-size="7.8" fill="#1e1e1e" stroke="#1e1e1e" stroke-width="0.3" text-anchor="end">0.1</text>
<line x1="51.80" y1="555.80" x2="127.50" y2="555.80" stroke="#000" stroke-width="1.3"/>
<line x1="67.20" y1="555.80" x2="67.20" y2="558.30" stroke="#000" stroke-width="1.3"/>
<line x1="90.20" y1="555.80" x2="90.20" y2="558.30" stroke="#000" stroke-width="1.3"/>
<line x1="112.50" y1="555.80" x2="112.50" y2="558.30" stroke="#000" stroke-width="1.3"/>
<text x="70.40" y="565.10" font-size="8.0" fill="#1e1e1e" stroke="#1e1e1e" stroke-width="0.3" text-anchor="end" transform="rotate(-45 70.40 565.10)">CD19</text>
<text x="93.40" y="565.10" font-size="8.0" fill="#1e1e1e" stroke="#1e1e1e" stroke-width="0.3" text-anchor="end" transform="rotate(-45 93.40 565.10)">CD19/22</text>
<text x="115.70" y="565.10" font-size="8.0" fill="#1e1e1e" stroke="#1e1e1e" stroke-width="0.3" text-anchor="end" transform="rotate(-45 115.70 565.10)">CD22</text>
<text x="20.74" y="512.50" font-size="9.0" fill="#1e1e1e" stroke="#1e1e1e" stroke-width="0.3" text-anchor="middle" transform="rotate(-90 20.74 512.50)" textLength="55.0" lengthAdjust="spacingAndGlyphs">Peak IL6 (pg/mL)</text>
<line x1="67.30" y1="492.40" x2="67.30" y2="523.50" stroke="#222" stroke-width="1.0"/>
<line x1="63.30" y1="492.40" x2="71.30" y2="492.40" stroke="#222" stroke-width="1.0"/>
<line x1="63.30" y1="523.50" x2="71.30" y2="523.50" stroke="#222" stroke-width="1.0"/>
<line x1="58.90" y1="509.10" x2="75.70" y2="509.10" stroke="#222" stroke-width="1.2"/>
<line x1="90.20" y1="500.50" x2="90.20" y2="525.40" stroke="#222" stroke-width="1.0"/>
<line x1="86.40" y1="500.50" x2="94.00" y2="500.50" stroke="#222" stroke-width="1.0"/>
<line x1="86.40" y1="525.40" x2="94.00" y2="525.40" stroke="#222" stroke-width="1.0"/>
<line x1="81.90" y1="513.00" x2="98.50" y2="513.00" stroke="#222" stroke-width="1.2"/>
<line x1="108.70" y1="492.00" x2="116.70" y2="492.00" stroke="#222" stroke-width="1.0"/>
<line x1="104.40" y1="502.70" x2="121.00" y2="502.70" stroke="#222" stroke-width="1.2"/>
<line x1="67.20" y1="465.10" x2="112.50" y2="465.10" stroke="#3a3a3a" stroke-width="1.1"/>
<line x1="67.20" y1="463.30" x2="67.20" y2="466.90" stroke="#3a3a3a" stroke-width="1.1"/>
<line x1="112.50" y1="463.30" x2="112.50" y2="466.90" stroke="#3a3a3a" stroke-width="1.1"/>
<text x="89.85" y="461.80" font-size="8.0" fill="#3a3a3a" stroke="#3a3a3a" stroke-width="0.3" text-anchor="middle" textLength="22.96" lengthAdjust="spacingAndGlyphs"><tspan font-style="italic">p</tspan>=0.36</text>
<line x1="67.20" y1="478.50" x2="89.60" y2="478.50" stroke="#3a3a3a" stroke-width="1.1"/>
<line x1="67.20" y1="476.70" x2="67.20" y2="480.30" stroke="#3a3a3a" stroke-width="1.1"/>
<line x1="89.60" y1="476.70" x2="89.60" y2="480.30" stroke="#3a3a3a" stroke-width="1.1"/>
<text x="78.40" y="473.90" font-size="8.0" fill="#3a3a3a" stroke="#3a3a3a" stroke-width="0.3" text-anchor="middle" textLength="22.96" lengthAdjust="spacingAndGlyphs"><tspan font-style="italic">p</tspan>=0.40</text>
<line x1="90.80" y1="480.30" x2="112.50" y2="480.30" stroke="#3a3a3a" stroke-width="1.1"/>
<line x1="90.80" y1="478.50" x2="90.80" y2="482.10" stroke="#3a3a3a" stroke-width="1.1"/>
<line x1="112.50" y1="478.50" x2="112.50" y2="482.10" stroke="#3a3a3a" stroke-width="1.1"/>
<text x="105.05" y="475.40" font-size="8.0" fill="#3a3a3a" stroke="#3a3a3a" stroke-width="0.3" text-anchor="middle" textLength="27.1" lengthAdjust="spacingAndGlyphs"><tspan font-style="italic">p</tspan>=0.069</text>
<text x="135.50" y="457.70" font-size="12.2" fill="#000" stroke="#000" stroke-width="0.45" font-weight="bold">N</text>
<line x1="174.60" y1="469.90" x2="174.60" y2="555.80" stroke="#000" stroke-width="1.3"/>
<line x1="171.60" y1="474.10" x2="174.60" y2="474.10" stroke="#000" stroke-width="1.3"/>
<text x="168.70" y="476.70" font-size="7.8" fill="#1e1e1e" stroke="#1e1e1e" stroke-width="0.3" text-anchor="end">10000</text>
<line x1="171.60" y1="501.00" x2="174.60" y2="501.00" stroke="#000" stroke-width="1.3"/>
<text x="168.70" y="503.60" font-size="7.8" fill="#1e1e1e" stroke="#1e1e1e" stroke-width="0.3" text-anchor="end">1000</text>
<line x1="171.60" y1="528.50" x2="174.60" y2="528.50" stroke="#000" stroke-width="1.3"/>
<text x="168.70" y="531.10" font-size="7.8" fill="#1e1e1e" stroke="#1e1e1e" stroke-width="0.3" text-anchor="end">100</text>
<line x1="171.60" y1="555.80" x2="174.60" y2="555.80" stroke="#000" stroke-width="1.3"/>
<text x="168.70" y="558.40" font-size="7.8" fill="#1e1e1e" stroke="#1e1e1e" stroke-width="0.3" text-anchor="end">10</text>
<line x1="174.10" y1="555.80" x2="249.50" y2="555.80" stroke="#000" stroke-width="1.3"/>
<line x1="189.60" y1="555.80" x2="189.60" y2="558.30" stroke="#000" stroke-width="1.3"/>
<line x1="212.40" y1="555.80" x2="212.40" y2="558.30" stroke="#000" stroke-width="1.3"/>
<line x1="235.00" y1="555.80" x2="235.00" y2="558.30" stroke="#000" stroke-width="1.3"/>
<text x="192.80" y="565.10" font-size="8.0" fill="#1e1e1e" stroke="#1e1e1e" stroke-width="0.3" text-anchor="end" transform="rotate(-45 192.80 565.10)">CD19</text>
<text x="215.60" y="565.10" font-size="8.0" fill="#1e1e1e" stroke="#1e1e1e" stroke-width="0.3" text-anchor="end" transform="rotate(-45 215.60 565.10)">CD19/22</text>
<text x="238.20" y="565.10" font-size="8.0" fill="#1e1e1e" stroke="#1e1e1e" stroke-width="0.3" text-anchor="end" transform="rotate(-45 238.20 565.10)">CD22</text>
<text x="144.24" y="512.50" font-size="9.0" fill="#1e1e1e" stroke="#1e1e1e" stroke-width="0.3" text-anchor="middle" transform="rotate(-90 144.24 512.50)" textLength="55.0" lengthAdjust="spacingAndGlyphs">Peak IL8 (pg/mL)</text>
<line x1="187.00" y1="511.40" x2="192.20" y2="511.40" stroke="#222" stroke-width="1.0"/>
<line x1="181.20" y1="521.20" x2="198.00" y2="521.20" stroke="#222" stroke-width="1.2"/>
<line x1="189.60" y1="511.40" x2="189.60" y2="539.20" stroke="#222" stroke-width="1.0"/>
<line x1="208.60" y1="534.80" x2="216.20" y2="534.80" stroke="#222" stroke-width="1.0"/>
<line x1="203.40" y1="523.90" x2="221.40" y2="523.90" stroke="#222" stroke-width="1.2"/>
<line x1="212.40" y1="523.90" x2="212.40" y2="534.80" stroke="#222" stroke-width="1.0"/>
<line x1="231.00" y1="529.50" x2="239.00" y2="529.50" stroke="#222" stroke-width="1.0"/>
<line x1="226.80" y1="520.10" x2="243.20" y2="520.10" stroke="#222" stroke-width="1.2"/>
<line x1="235.00" y1="499.50" x2="235.00" y2="529.50" stroke="#222" stroke-width="1.0"/>
<line x1="189.60" y1="464.80" x2="235.00" y2="464.80" stroke="#3a3a3a" stroke-width="1.1"/>
<line x1="189.60" y1="463.00" x2="189.60" y2="466.60" stroke="#3a3a3a" stroke-width="1.1"/>
<line x1="235.00" y1="463.00" x2="235.00" y2="466.60" stroke="#3a3a3a" stroke-width="1.1"/>
<text x="212.30" y="462.00" font-size="8.0" fill="#3a3a3a" stroke="#3a3a3a" stroke-width="0.3" text-anchor="middle" textLength="22.96" lengthAdjust="spacingAndGlyphs"><tspan font-style="italic">p</tspan>=0.31</text>
<line x1="189.60" y1="479.20" x2="212.40" y2="479.20" stroke="#3a3a3a" stroke-width="1.1"/>
<line x1="189.60" y1="477.40" x2="189.60" y2="481.00" stroke="#3a3a3a" stroke-width="1.1"/>
<line x1="212.40" y1="477.40" x2="212.40" y2="481.00" stroke="#3a3a3a" stroke-width="1.1"/>
<text x="201.00" y="473.70" font-size="8.0" fill="#3a3a3a" stroke="#3a3a3a" stroke-width="0.3" text-anchor="middle" textLength="22.96" lengthAdjust="spacingAndGlyphs"><tspan font-style="italic">p</tspan>=0.34</text>
<line x1="212.40" y1="493.50" x2="235.00" y2="493.50" stroke="#3a3a3a" stroke-width="1.1"/>
<line x1="212.40" y1="491.70" x2="212.40" y2="495.30" stroke="#3a3a3a" stroke-width="1.1"/>
<line x1="235.00" y1="491.70" x2="235.00" y2="495.30" stroke="#3a3a3a" stroke-width="1.1"/>
<text x="223.70" y="489.00" font-size="8.0" fill="#3a3a3a" stroke="#3a3a3a" stroke-width="0.3" text-anchor="middle" textLength="27.1" lengthAdjust="spacingAndGlyphs"><tspan font-style="italic">p</tspan>=0.057</text>
<text x="258.60" y="457.70" font-size="12.2" fill="#000" stroke="#000" stroke-width="0.45" font-weight="bold" textLength="10.1" lengthAdjust="spacingAndGlyphs">O</text>
<line x1="302.60" y1="472.50" x2="302.60" y2="555.80" stroke="#000" stroke-width="1.3"/>
<line x1="299.60" y1="476.40" x2="302.60" y2="476.40" stroke="#000" stroke-width="1.3"/>
<text x="296.70" y="479.00" font-size="7.8" fill="#1e1e1e" stroke="#1e1e1e" stroke-width="0.3" text-anchor="end">1000</text>
<line x1="299.60" y1="502.90" x2="302.60" y2="502.90" stroke="#000" stroke-width="1.3"/>
<text x="296.70" y="505.50" font-size="7.8" fill="#1e1e1e" stroke="#1e1e1e" stroke-width="0.3" text-anchor="end">100</text>
<line x1="299.60" y1="529.30" x2="302.60" y2="529.30" stroke="#000" stroke-width="1.3"/>
<text x="296.70" y="531.90" font-size="7.8" fill="#1e1e1e" stroke="#1e1e1e" stroke-width="0.3" text-anchor="end">10</text>
<line x1="299.60" y1="555.80" x2="302.60" y2="555.80" stroke="#000" stroke-width="1.3"/>
<text x="296.70" y="558.40" font-size="7.8" fill="#1e1e1e" stroke="#1e1e1e" stroke-width="0.3" text-anchor="end">1</text>
<line x1="302.10" y1="555.80" x2="378.50" y2="555.80" stroke="#000" stroke-width="1.3"/>
<line x1="325.40" y1="555.80" x2="325.40" y2="558.30" stroke="#000" stroke-width="1.3"/>
<line x1="363.30" y1="555.80" x2="363.30" y2="558.30" stroke="#000" stroke-width="1.3"/>
<text x="328.60" y="565.10" font-size="8.0" fill="#1e1e1e" stroke="#1e1e1e" stroke-width="0.3" text-anchor="end" transform="rotate(-45 328.60 565.10)">CD19/22</text>
<text x="366.50" y="565.10" font-size="8.0" fill="#1e1e1e" stroke="#1e1e1e" stroke-width="0.3" text-anchor="end" transform="rotate(-45 366.50 565.10)">CD22</text>
<text x="274.14" y="512.65" font-size="9.0" fill="#1e1e1e" stroke="#1e1e1e" stroke-width="0.3" text-anchor="middle" transform="rotate(-90 274.14 512.65)" textLength="59.900000000000034" lengthAdjust="spacingAndGlyphs">Peak IL10 (pg/mL)</text>
<line x1="325.40" y1="502.60" x2="325.40" y2="530.90" stroke="#222" stroke-width="1.0"/>
<line x1="320.00" y1="502.60" x2="330.80" y2="502.60" stroke="#222" stroke-width="1.0"/>
<line x1="320.00" y1="530.90" x2="330.80" y2="530.90" stroke="#222" stroke-width="1.0"/>
<line x1="314.10" y1="512.70" x2="336.70" y2="512.70" stroke="#222" stroke-width="1.2"/>
<line x1="363.30" y1="487.30" x2="363.30" y2="510.70" stroke="#222" stroke-width="1.0"/>
<line x1="357.90" y1="487.30" x2="368.70" y2="487.30" stroke="#222" stroke-width="1.0"/>
<line x1="357.90" y1="510.70" x2="368.70" y2="510.70" stroke="#222" stroke-width="1.0"/>
<line x1="352.00" y1="499.50" x2="374.60" y2="499.50" stroke="#222" stroke-width="1.2"/>
<line x1="325.40" y1="474.10" x2="363.30" y2="474.10" stroke="#3a3a3a" stroke-width="1.1"/>
<line x1="325.40" y1="472.30" x2="325.40" y2="475.90" stroke="#3a3a3a" stroke-width="1.1"/>
<line x1="363.30" y1="472.30" x2="363.30" y2="475.90" stroke="#3a3a3a" stroke-width="1.1"/>
<polygon points="342.58,468.45 343.03,469.57 344.24,469.66 343.32,470.44 343.60,471.62 342.58,470.98 341.55,471.62 341.83,470.44 340.91,469.66 342.12,469.57" fill="#3a3a3a"/>
<polygon points="346.12,468.45 346.58,469.57 347.79,469.66 346.87,470.44 347.15,471.62 346.12,470.98 345.10,471.62 345.38,470.44 344.46,469.66 345.67,469.57" fill="#3a3a3a"/>
<text x="387.00" y="457.70" font-size="12.2" fill="#000" stroke="#000" stroke-width="0.45" font-weight="bold">P</text>
<line x1="431.10" y1="473.40" x2="431.10" y2="555.80" stroke="#000" stroke-width="1.3"/>
<line x1="428.10" y1="476.80" x2="431.10" y2="476.80" stroke="#000" stroke-width="1.3"/>
<text x="425.20" y="479.40" font-size="7.8" fill="#1e1e1e" stroke="#1e1e1e" stroke-width="0.3" text-anchor="end">10000</text>
<line x1="428.10" y1="516.30" x2="431.10" y2="516.30" stroke="#000" stroke-width="1.3"/>
<text x="425.20" y="518.90" font-size="7.8" fill="#1e1e1e" stroke="#1e1e1e" stroke-width="0.3" text-anchor="end">1000</text>
<line x1="428.10" y1="555.80" x2="431.10" y2="555.80" stroke="#000" stroke-width="1.3"/>
<text x="425.20" y="558.40" font-size="7.8" fill="#1e1e1e" stroke="#1e1e1e" stroke-width="0.3" text-anchor="end">100</text>
<line x1="430.60" y1="555.80" x2="512.50" y2="555.80" stroke="#000" stroke-width="1.3"/>
<line x1="453.60" y1="555.80" x2="453.60" y2="558.30" stroke="#000" stroke-width="1.3"/>
<line x1="498.40" y1="555.80" x2="498.40" y2="558.30" stroke="#000" stroke-width="1.3"/>
<text x="456.80" y="565.10" font-size="8.0" fill="#1e1e1e" stroke="#1e1e1e" stroke-width="0.3" text-anchor="end" transform="rotate(-45 456.80 565.10)">CD19/22</text>
<text x="501.60" y="565.10" font-size="8.0" fill="#1e1e1e" stroke="#1e1e1e" stroke-width="0.3" text-anchor="end" transform="rotate(-45 501.60 565.10)">CD22</text>
<text x="399.74" y="512.65" font-size="9.0" fill="#1e1e1e" stroke="#1e1e1e" stroke-width="0.3" text-anchor="middle" transform="rotate(-90 399.74 512.65)" textLength="59.900000000000034" lengthAdjust="spacingAndGlyphs">Peak IL18 (pg/mL)</text>
<line x1="448.80" y1="501.40" x2="458.40" y2="501.40" stroke="#222" stroke-width="1.0"/>
<line x1="442.80" y1="512.30" x2="464.40" y2="512.30" stroke="#222" stroke-width="1.2"/>
<line x1="453.60" y1="501.40" x2="453.60" y2="512.30" stroke="#222" stroke-width="1.0"/>
<line x1="498.40" y1="491.00" x2="498.40" y2="514.40" stroke="#222" stroke-width="1.0"/>
<line x1="492.90" y1="491.00" x2="503.90" y2="491.00" stroke="#222" stroke-width="1.0"/>
<line x1="492.90" y1="514.40" x2="503.90" y2="514.40" stroke="#222" stroke-width="1.0"/>
<line x1="487.00" y1="501.60" x2="509.80" y2="501.60" stroke="#222" stroke-width="1.2"/>
<line x1="453.60" y1="479.80" x2="498.40" y2="479.80" stroke="#3a3a3a" stroke-width="1.1"/>
<line x1="453.60" y1="478.00" x2="453.60" y2="481.60" stroke="#3a3a3a" stroke-width="1.1"/>
<line x1="498.40" y1="478.00" x2="498.40" y2="481.60" stroke="#3a3a3a" stroke-width="1.1"/>
<polygon points="474.23,474.15 474.68,475.27 475.89,475.36 474.97,476.14 475.25,477.32 474.23,476.68 473.20,477.32 473.48,476.14 472.56,475.36 473.77,475.27" fill="#3a3a3a"/>
<polygon points="477.77,474.15 478.23,475.27 479.44,475.36 478.52,476.14 478.80,477.32 477.77,476.68 476.75,477.32 477.03,476.14 476.11,475.36 477.32,475.27" fill="#3a3a3a"/>
<text x="7.20" y="603.80" font-size="12.2" fill="#000" stroke="#000" stroke-width="0.45" font-weight="bold" textLength="10.6" lengthAdjust="spacingAndGlyphs">Q</text>
<line x1="52.50" y1="607.50" x2="52.50" y2="687.60" stroke="#000" stroke-width="1.3"/>
<line x1="49.50" y1="611.80" x2="52.50" y2="611.80" stroke="#000" stroke-width="1.3"/>
<text x="46.60" y="614.40" font-size="7.8" fill="#1e1e1e" stroke="#1e1e1e" stroke-width="0.3" text-anchor="end">10000</text>
<line x1="49.50" y1="637.00" x2="52.50" y2="637.00" stroke="#000" stroke-width="1.3"/>
<text x="46.60" y="639.60" font-size="7.8" fill="#1e1e1e" stroke="#1e1e1e" stroke-width="0.3" text-anchor="end">1000</text>
<line x1="49.50" y1="662.50" x2="52.50" y2="662.50" stroke="#000" stroke-width="1.3"/>
<text x="46.60" y="665.10" font-size="7.8" fill="#1e1e1e" stroke="#1e1e1e" stroke-width="0.3" text-anchor="end">100</text>
<line x1="49.50" y1="687.60" x2="52.50" y2="687.60" stroke="#000" stroke-width="1.3"/>
<text x="46.60" y="690.20" font-size="7.8" fill="#1e1e1e" stroke="#1e1e1e" stroke-width="0.3" text-anchor="end">10</text>
<line x1="52.00" y1="687.60" x2="127.50" y2="687.60" stroke="#000" stroke-width="1.3"/>
<line x1="76.30" y1="687.60" x2="76.30" y2="690.10" stroke="#000" stroke-width="1.3"/>
<line x1="112.30" y1="687.60" x2="112.30" y2="690.10" stroke="#000" stroke-width="1.3"/>
<text x="76.30" y="700.20" font-size="8.0" fill="#1e1e1e" stroke="#1e1e1e" stroke-width="0.3" text-anchor="middle">CD19/22</text>
<text x="112.30" y="700.20" font-size="8.0" fill="#1e1e1e" stroke="#1e1e1e" stroke-width="0.3" text-anchor="middle">CD22</text>
<text x="20.24" y="644.40" font-size="9.0" fill="#1e1e1e" stroke="#1e1e1e" stroke-width="0.3" text-anchor="middle" transform="rotate(-90 20.24 644.40)" textLength="69.20000000000005" lengthAdjust="spacingAndGlyphs">Peak MIP1α (pg/mL)</text>
<line x1="76.30" y1="657.60" x2="76.30" y2="675.40" stroke="#222" stroke-width="1.0"/>
<line x1="71.80" y1="657.60" x2="80.80" y2="657.60" stroke="#222" stroke-width="1.0"/>
<line x1="71.80" y1="675.40" x2="80.80" y2="675.40" stroke="#222" stroke-width="1.0"/>
<line x1="65.10" y1="669.00" x2="87.50" y2="669.00" stroke="#222" stroke-width="1.2"/>
<line x1="112.30" y1="652.10" x2="112.30" y2="664.20" stroke="#222" stroke-width="1.0"/>
<line x1="106.80" y1="652.10" x2="117.80" y2="652.10" stroke="#222" stroke-width="1.0"/>
<line x1="106.80" y1="664.20" x2="117.80" y2="664.20" stroke="#222" stroke-width="1.0"/>
<line x1="101.30" y1="658.70" x2="123.30" y2="658.70" stroke="#222" stroke-width="1.2"/>
<line x1="76.30" y1="613.20" x2="112.30" y2="613.20" stroke="#3a3a3a" stroke-width="1.1"/>
<line x1="76.30" y1="611.40" x2="76.30" y2="615.00" stroke="#3a3a3a" stroke-width="1.1"/>
<line x1="112.30" y1="611.40" x2="112.30" y2="615.00" stroke="#3a3a3a" stroke-width="1.1"/>
<polygon points="94.30,607.55 94.76,608.67 95.96,608.76 95.04,609.54 95.33,610.72 94.30,610.08 93.27,610.72 93.56,609.54 92.64,608.76 93.84,608.67" fill="#3a3a3a"/>
<text x="135.50" y="603.00" font-size="12.2" fill="#000" stroke="#000" stroke-width="0.45" font-weight="bold">R</text>
<line x1="174.30" y1="607.10" x2="174.30" y2="687.60" stroke="#000" stroke-width="1.3"/>
<line x1="171.30" y1="610.90" x2="174.30" y2="610.90" stroke="#000" stroke-width="1.3"/>
<text x="168.40" y="613.50" font-size="7.8" fill="#1e1e1e" stroke="#1e1e1e" stroke-width="0.3" text-anchor="end">1000</text>
<line x1="171.30" y1="636.50" x2="174.30" y2="636.50" stroke="#000" stroke-width="1.3"/>
<text x="168.40" y="639.10" font-size="7.8" fill="#1e1e1e" stroke="#1e1e1e" stroke-width="0.3" text-anchor="end">100</text>
<line x1="171.30" y1="662.50" x2="174.30" y2="662.50" stroke="#000" stroke-width="1.3"/>
<text x="168.40" y="665.10" font-size="7.8" fill="#1e1e1e" stroke="#1e1e1e" stroke-width="0.3" text-anchor="end">10</text>
<line x1="171.30" y1="687.60" x2="174.30" y2="687.60" stroke="#000" stroke-width="1.3"/>
<text x="168.40" y="690.20" font-size="7.8" fill="#1e1e1e" stroke="#1e1e1e" stroke-width="0.3" text-anchor="end">1</text>
<line x1="173.80" y1="687.60" x2="249.60" y2="687.60" stroke="#000" stroke-width="1.3"/>
<line x1="196.50" y1="687.60" x2="196.50" y2="690.10" stroke="#000" stroke-width="1.3"/>
<line x1="234.90" y1="687.60" x2="234.90" y2="690.10" stroke="#000" stroke-width="1.3"/>
<text x="196.50" y="700.20" font-size="8.0" fill="#1e1e1e" stroke="#1e1e1e" stroke-width="0.3" text-anchor="middle">CD19/22</text>
<text x="234.90" y="700.20" font-size="8.0" fill="#1e1e1e" stroke="#1e1e1e" stroke-width="0.3" text-anchor="middle">CD22</text>
<text x="147.04" y="647.50" font-size="9.0" fill="#1e1e1e" stroke="#1e1e1e" stroke-width="0.3" text-anchor="middle" transform="rotate(-90 147.04 647.50)" textLength="60.0" lengthAdjust="spacingAndGlyphs">Peak IL15 (pg/mL)</text>
<line x1="196.50" y1="644.70" x2="196.50" y2="660.70" stroke="#222" stroke-width="1.0"/>
<line x1="191.50" y1="644.70" x2="201.50" y2="644.70" stroke="#222" stroke-width="1.0"/>
<line x1="191.50" y1="660.70" x2="201.50" y2="660.70" stroke="#222" stroke-width="1.0"/>
<line x1="185.30" y1="651.20" x2="207.70" y2="651.20" stroke="#222" stroke-width="1.2"/>
<line x1="196.50" y1="612.30" x2="234.90" y2="612.30" stroke="#3a3a3a" stroke-width="1.1"/>
<line x1="196.50" y1="610.50" x2="196.50" y2="614.10" stroke="#3a3a3a" stroke-width="1.1"/>
<line x1="234.90" y1="610.50" x2="234.90" y2="614.10" stroke="#3a3a3a" stroke-width="1.1"/>
<text x="215.70" y="609.30" font-size="8.0" fill="#3a3a3a" stroke="#3a3a3a" stroke-width="0.3" text-anchor="middle" textLength="22.96" lengthAdjust="spacingAndGlyphs"><tspan font-style="italic">p</tspan>=0.71</text>
<text x="258.20" y="603.00" font-size="12.2" fill="#000" stroke="#000" stroke-width="0.45" font-weight="bold">S</text>
<line x1="302.50" y1="607.10" x2="302.50" y2="687.60" stroke="#000" stroke-width="1.3"/>
<line x1="299.50" y1="610.90" x2="302.50" y2="610.90" stroke="#000" stroke-width="1.3"/>
<text x="296.60" y="613.50" font-size="7.8" fill="#1e1e1e" stroke="#1e1e1e" stroke-width="0.3" text-anchor="end">100</text>
<line x1="299.50" y1="636.50" x2="302.50" y2="636.50" stroke="#000" stroke-width="1.3"/>
<text x="296.60" y="639.10" font-size="7.8" fill="#1e1e1e" stroke="#1e1e1e" stroke-width="0.3" text-anchor="end">10</text>
<line x1="299.50" y1="662.10" x2="302.50" y2="662.10" stroke="#000" stroke-width="1.3"/>
<text x="296.60" y="664.70" font-size="7.8" fill="#1e1e1e" stroke="#1e1e1e" stroke-width="0.3" text-anchor="end">1</text>
<line x1="299.50" y1="687.60" x2="302.50" y2="687.60" stroke="#000" stroke-width="1.3"/>
<text x="296.60" y="690.20" font-size="7.8" fill="#1e1e1e" stroke="#1e1e1e" stroke-width="0.3" text-anchor="end">0.1</text>
<line x1="302.00" y1="687.60" x2="374.80" y2="687.60" stroke="#000" stroke-width="1.3"/>
<line x1="325.50" y1="687.60" x2="325.50" y2="690.10" stroke="#000" stroke-width="1.3"/>
<line x1="363.20" y1="687.60" x2="363.20" y2="690.10" stroke="#000" stroke-width="1.3"/>
<text x="325.50" y="700.20" font-size="8.0" fill="#1e1e1e" stroke="#1e1e1e" stroke-width="0.3" text-anchor="middle">CD19/22</text>
<text x="363.20" y="700.20" font-size="8.0" fill="#1e1e1e" stroke="#1e1e1e" stroke-width="0.3" text-anchor="middle">CD22</text>
<text x="279.44" y="647.00" font-size="9.0" fill="#1e1e1e" stroke="#1e1e1e" stroke-width="0.3" text-anchor="middle" transform="rotate(-90 279.44 647.00)" textLength="60.0" lengthAdjust="spacingAndGlyphs">Peak IL13 (pg/mL)</text>
<line x1="325.50" y1="655.60" x2="325.50" y2="664.20" stroke="#222" stroke-width="1.0"/>
<line x1="320.00" y1="655.60" x2="331.00" y2="655.60" stroke="#222" stroke-width="1.0"/>
<line x1="320.00" y1="664.20" x2="331.00" y2="664.20" stroke="#222" stroke-width="1.0"/>
<line x1="314.30" y1="660.70" x2="336.70" y2="660.70" stroke="#222" stroke-width="1.2"/>
<line x1="363.20" y1="646.00" x2="363.20" y2="666.00" stroke="#222" stroke-width="1.0"/>
<line x1="358.20" y1="646.00" x2="368.20" y2="646.00" stroke="#222" stroke-width="1.0"/>
<line x1="358.20" y1="666.00" x2="368.20" y2="666.00" stroke="#222" stroke-width="1.0"/>
<line x1="352.20" y1="657.60" x2="374.20" y2="657.60" stroke="#222" stroke-width="1.2"/>
<line x1="325.50" y1="612.30" x2="363.20" y2="612.30" stroke="#3a3a3a" stroke-width="1.1"/>
<line x1="325.50" y1="610.50" x2="325.50" y2="614.10" stroke="#3a3a3a" stroke-width="1.1"/>
<line x1="363.20" y1="610.50" x2="363.20" y2="614.10" stroke="#3a3a3a" stroke-width="1.1"/>
<text x="344.35" y="609.10" font-size="8.0" fill="#3a3a3a" stroke="#3a3a3a" stroke-width="0.3" text-anchor="middle" textLength="22.96" lengthAdjust="spacingAndGlyphs"><tspan font-style="italic">p</tspan>=0.60</text>
<text x="406.90" y="636.20" font-size="7.6" fill="#1a1a1a" stroke="#1a1a1a" stroke-width="0.3" textLength="85.4" lengthAdjust="spacingAndGlyphs">*p-value: &gt;0.01 to &lt; 0.05;</text>
<text x="406.90" y="647.00" font-size="7.6" fill="#1a1a1a" stroke="#1a1a1a" stroke-width="0.3" textLength="93.5" lengthAdjust="spacingAndGlyphs">**p-value: &gt;0.001 to &lt; 0.01;</text>
<text x="406.90" y="659.00" font-size="7.6" fill="#1a1a1a" stroke="#1a1a1a" stroke-width="0.3" textLength="105.0" lengthAdjust="spacingAndGlyphs">***p-value: &gt;0.0001 to &lt; 0.001;</text>
<text x="406.90" y="670.60" font-size="7.6" fill="#1a1a1a" stroke="#1a1a1a" stroke-width="0.3" textLength="69.3" lengthAdjust="spacingAndGlyphs">****p-value: &lt;0.0001</text>
<circle cx="61.50" cy="114.60" r="1.65" fill="#c8102e"/>
<circle cx="63.50" cy="114.60" r="1.65" fill="#c8102e"/>
<circle cx="65.50" cy="114.60" r="1.65" fill="#c8102e"/>
<circle cx="67.50" cy="114.60" r="1.65" fill="#c8102e"/>
<circle cx="69.50" cy="114.60" r="1.65" fill="#c8102e"/>
<circle cx="71.50" cy="114.60" r="1.65" fill="#c8102e"/>
<circle cx="73.50" cy="114.60" r="1.65" fill="#c8102e"/>
<circle cx="66.00" cy="112.40" r="1.65" fill="#c8102e"/>
<circle cx="68.00" cy="112.40" r="1.65" fill="#c8102e"/>
<circle cx="70.00" cy="112.40" r="1.65" fill="#c8102e"/>
<circle cx="67.50" cy="106.00" r="1.65" fill="#c8102e"/>
<circle cx="83.50" cy="114.40" r="1.65" fill="#22b33a"/>
<circle cx="86.10" cy="114.40" r="1.65" fill="#22b33a"/>
<circle cx="88.70" cy="114.40" r="1.65" fill="#22b33a"/>
<circle cx="91.30" cy="114.40" r="1.65" fill="#22b33a"/>
<circle cx="93.90" cy="114.40" r="1.65" fill="#22b33a"/>
<circle cx="96.50" cy="114.40" r="1.65" fill="#22b33a"/>
<circle cx="87.40" cy="111.80" r="1.65" fill="#22b33a"/>
<circle cx="90.00" cy="111.80" r="1.65" fill="#22b33a"/>
<circle cx="92.60" cy="111.80" r="1.65" fill="#22b33a"/>
<circle cx="90.00" cy="107.90" r="1.65" fill="#22b33a"/>
<circle cx="90.00" cy="97.90" r="1.65" fill="#22b33a"/>
<circle cx="90.00" cy="94.90" r="1.65" fill="#22b33a"/>
<circle cx="111.30" cy="42.30" r="1.65" fill="#0b4e8a"/>
<circle cx="113.56" cy="45.35" r="1.65" fill="#0b4e8a"/>
<circle cx="106.21" cy="54.97" r="1.65" fill="#0b4e8a"/>
<circle cx="109.04" cy="53.84" r="1.65" fill="#0b4e8a"/>
<circle cx="111.30" cy="53.27" r="1.65" fill="#0b4e8a"/>
<circle cx="113.56" cy="52.71" r="1.65" fill="#0b4e8a"/>
<circle cx="110.73" cy="56.10" r="1.65" fill="#0b4e8a"/>
<circle cx="113.56" cy="56.67" r="1.65" fill="#0b4e8a"/>
<circle cx="115.82" cy="56.10" r="1.65" fill="#0b4e8a"/>
<circle cx="118.08" cy="54.97" r="1.65" fill="#0b4e8a"/>
<circle cx="107.91" cy="55.53" r="1.65" fill="#0b4e8a"/>
<circle cx="111.30" cy="70.81" r="1.65" fill="#0b4e8a"/>
<circle cx="113.56" cy="74.20" r="1.65" fill="#0b4e8a"/>
<circle cx="111.86" cy="75.90" r="1.65" fill="#0b4e8a"/>
<circle cx="113.56" cy="77.59" r="1.65" fill="#0b4e8a"/>
<circle cx="110.17" cy="80.42" r="1.65" fill="#0b4e8a"/>
<circle cx="115.25" cy="80.99" r="1.65" fill="#0b4e8a"/>
<circle cx="109.60" cy="83.81" r="1.65" fill="#0b4e8a"/>
<circle cx="112.99" cy="83.25" r="1.65" fill="#0b4e8a"/>
<circle cx="111.30" cy="85.51" r="1.65" fill="#0b4e8a"/>
<circle cx="115.25" cy="85.51" r="1.65" fill="#0b4e8a"/>
<circle cx="112.43" cy="87.77" r="1.65" fill="#0b4e8a"/>
<circle cx="109.60" cy="88.90" r="1.65" fill="#0b4e8a"/>
<circle cx="114.69" cy="88.90" r="1.65" fill="#0b4e8a"/>
<circle cx="111.30" cy="90.60" r="1.65" fill="#0b4e8a"/>
<circle cx="106.21" cy="94.00" r="1.65" fill="#0b4e8a"/>
<circle cx="109.04" cy="93.43" r="1.65" fill="#0b4e8a"/>
<circle cx="112.43" cy="92.86" r="1.65" fill="#0b4e8a"/>
<circle cx="115.82" cy="93.43" r="1.65" fill="#0b4e8a"/>
<circle cx="118.64" cy="95.13" r="1.65" fill="#0b4e8a"/>
<circle cx="110.17" cy="95.69" r="1.65" fill="#0b4e8a"/>
<circle cx="114.12" cy="96.26" r="1.65" fill="#0b4e8a"/>
<circle cx="108.47" cy="97.95" r="1.65" fill="#0b4e8a"/>
<circle cx="111.86" cy="98.52" r="1.65" fill="#0b4e8a"/>
<circle cx="115.82" cy="97.95" r="1.65" fill="#0b4e8a"/>
<circle cx="110.17" cy="100.78" r="1.65" fill="#0b4e8a"/>
<circle cx="114.12" cy="100.78" r="1.65" fill="#0b4e8a"/>
<circle cx="111.86" cy="103.05" r="1.65" fill="#0b4e8a"/>
<circle cx="115.82" cy="103.05" r="1.65" fill="#0b4e8a"/>
<circle cx="110.73" cy="105.31" r="1.65" fill="#0b4e8a"/>
<circle cx="113.56" cy="108.14" r="1.65" fill="#0b4e8a"/>
<circle cx="107.91" cy="109.83" r="1.65" fill="#0b4e8a"/>
<circle cx="111.30" cy="110.40" r="1.65" fill="#0b4e8a"/>
<circle cx="116.95" cy="109.83" r="1.65" fill="#0b4e8a"/>
<circle cx="109.04" cy="112.66" r="1.65" fill="#0b4e8a"/>
<circle cx="112.99" cy="112.10" r="1.65" fill="#0b4e8a"/>
<circle cx="115.25" cy="112.66" r="1.65" fill="#0b4e8a"/>
<circle cx="110.73" cy="114.36" r="1.65" fill="#0b4e8a"/>
<circle cx="106.78" cy="91.17" r="1.65" fill="#0b4e8a"/>
<circle cx="116.95" cy="90.60" r="1.65" fill="#0b4e8a"/>
<circle cx="182.70" cy="115.00" r="1.65" fill="#c8102e"/>
<circle cx="185.00" cy="115.00" r="1.65" fill="#c8102e"/>
<circle cx="187.30" cy="115.00" r="1.65" fill="#c8102e"/>
<circle cx="189.60" cy="115.00" r="1.65" fill="#c8102e"/>
<circle cx="191.90" cy="115.00" r="1.65" fill="#c8102e"/>
<circle cx="194.20" cy="115.00" r="1.65" fill="#c8102e"/>
<circle cx="196.50" cy="115.00" r="1.65" fill="#c8102e"/>
<circle cx="186.15" cy="112.80" r="1.65" fill="#c8102e"/>
<circle cx="188.45" cy="112.80" r="1.65" fill="#c8102e"/>
<circle cx="190.75" cy="112.80" r="1.65" fill="#c8102e"/>
<circle cx="193.05" cy="112.80" r="1.65" fill="#c8102e"/>
<circle cx="189.60" cy="107.50" r="1.65" fill="#c8102e"/>
<circle cx="189.60" cy="105.00" r="1.65" fill="#c8102e"/>
<circle cx="189.60" cy="97.60" r="1.65" fill="#c8102e"/>
<circle cx="189.60" cy="94.60" r="1.65" fill="#c8102e"/>
<circle cx="205.90" cy="115.40" r="1.65" fill="#22b33a"/>
<circle cx="209.20" cy="115.40" r="1.65" fill="#22b33a"/>
<circle cx="212.50" cy="115.40" r="1.65" fill="#22b33a"/>
<circle cx="215.80" cy="115.40" r="1.65" fill="#22b33a"/>
<circle cx="219.10" cy="115.40" r="1.65" fill="#22b33a"/>
<circle cx="210.85" cy="111.50" r="1.65" fill="#22b33a"/>
<circle cx="214.15" cy="111.50" r="1.65" fill="#22b33a"/>
<circle cx="209.20" cy="108.60" r="1.65" fill="#22b33a"/>
<circle cx="212.50" cy="108.60" r="1.65" fill="#22b33a"/>
<circle cx="215.80" cy="108.60" r="1.65" fill="#22b33a"/>
<circle cx="212.50" cy="96.70" r="1.65" fill="#22b33a"/>
<circle cx="212.50" cy="70.10" r="1.65" fill="#22b33a"/>
<circle cx="212.50" cy="52.60" r="1.65" fill="#22b33a"/>
<circle cx="230.71" cy="43.65" r="1.65" fill="#0b4e8a"/>
<circle cx="232.20" cy="45.74" r="1.65" fill="#0b4e8a"/>
<circle cx="237.86" cy="46.63" r="1.65" fill="#0b4e8a"/>
<circle cx="239.64" cy="47.52" r="1.65" fill="#0b4e8a"/>
<circle cx="230.42" cy="47.82" r="1.65" fill="#0b4e8a"/>
<circle cx="236.07" cy="48.42" r="1.65" fill="#0b4e8a"/>
<circle cx="238.45" cy="49.31" r="1.65" fill="#0b4e8a"/>
<circle cx="239.94" cy="50.50" r="1.65" fill="#0b4e8a"/>
<circle cx="230.71" cy="51.10" r="1.65" fill="#0b4e8a"/>
<circle cx="234.29" cy="51.69" r="1.65" fill="#0b4e8a"/>
<circle cx="237.26" cy="52.29" r="1.65" fill="#0b4e8a"/>
<circle cx="239.64" cy="53.77" r="1.65" fill="#0b4e8a"/>
<circle cx="228.93" cy="54.37" r="1.65" fill="#0b4e8a"/>
<circle cx="232.50" cy="54.96" r="1.65" fill="#0b4e8a"/>
<circle cx="236.07" cy="54.96" r="1.65" fill="#0b4e8a"/>
<circle cx="238.45" cy="55.86" r="1.65" fill="#0b4e8a"/>
<circle cx="231.90" cy="58.54" r="1.65" fill="#0b4e8a"/>
<circle cx="235.77" cy="58.54" r="1.65" fill="#0b4e8a"/>
<circle cx="230.42" cy="60.62" r="1.65" fill="#0b4e8a"/>
<circle cx="228.33" cy="63.00" r="1.65" fill="#0b4e8a"/>
<circle cx="231.90" cy="62.40" r="1.65" fill="#0b4e8a"/>
<circle cx="234.88" cy="62.11" r="1.65" fill="#0b4e8a"/>
<circle cx="238.45" cy="62.40" r="1.65" fill="#0b4e8a"/>
<circle cx="241.43" cy="62.40" r="1.65" fill="#0b4e8a"/>
<circle cx="235.18" cy="64.49" r="1.65" fill="#0b4e8a"/>
<circle cx="228.93" cy="67.17" r="1.65" fill="#0b4e8a"/>
<circle cx="232.50" cy="67.76" r="1.65" fill="#0b4e8a"/>
<circle cx="235.48" cy="67.46" r="1.65" fill="#0b4e8a"/>
<circle cx="238.45" cy="66.87" r="1.65" fill="#0b4e8a"/>
<circle cx="241.43" cy="67.17" r="1.65" fill="#0b4e8a"/>
<circle cx="228.93" cy="71.93" r="1.65" fill="#0b4e8a"/>
<circle cx="231.31" cy="73.12" r="1.65" fill="#0b4e8a"/>
<circle cx="234.29" cy="74.31" r="1.65" fill="#0b4e8a"/>
<circle cx="237.26" cy="73.71" r="1.65" fill="#0b4e8a"/>
<circle cx="239.64" cy="71.04" r="1.65" fill="#0b4e8a"/>
<circle cx="235.18" cy="70.14" r="1.65" fill="#0b4e8a"/>
<circle cx="237.86" cy="69.55" r="1.65" fill="#0b4e8a"/>
<circle cx="237.86" cy="49.90" r="1.65" fill="#0b4e8a"/>
<circle cx="235.48" cy="50.80" r="1.65" fill="#0b4e8a"/>
<circle cx="239.05" cy="51.69" r="1.65" fill="#0b4e8a"/>
<circle cx="234.88" cy="53.48" r="1.65" fill="#0b4e8a"/>
<circle cx="237.26" cy="54.07" r="1.65" fill="#0b4e8a"/>
<circle cx="233.69" cy="57.05" r="1.65" fill="#0b4e8a"/>
<circle cx="236.67" cy="57.64" r="1.65" fill="#0b4e8a"/>
<circle cx="232.80" cy="48.42" r="1.65" fill="#0b4e8a"/>
<circle cx="237.26" cy="45.44" r="1.65" fill="#0b4e8a"/>
<circle cx="240.54" cy="52.29" r="1.65" fill="#0b4e8a"/>
<circle cx="235.00" cy="91.80" r="1.65" fill="#0b4e8a"/>
<circle cx="235.00" cy="105.30" r="1.65" fill="#0b4e8a"/>
<circle cx="235.00" cy="115.40" r="1.65" fill="#0b4e8a"/>
<circle cx="312.75" cy="114.50" r="1.65" fill="#c8102e"/>
<circle cx="316.05" cy="114.50" r="1.65" fill="#c8102e"/>
<circle cx="319.35" cy="114.50" r="1.65" fill="#c8102e"/>
<circle cx="322.65" cy="114.50" r="1.65" fill="#c8102e"/>
<circle cx="311.10" cy="112.30" r="1.65" fill="#c8102e"/>
<circle cx="314.40" cy="112.30" r="1.65" fill="#c8102e"/>
<circle cx="317.70" cy="112.30" r="1.65" fill="#c8102e"/>
<circle cx="321.00" cy="112.30" r="1.65" fill="#c8102e"/>
<circle cx="324.30" cy="112.30" r="1.65" fill="#c8102e"/>
<circle cx="312.75" cy="110.00" r="1.65" fill="#c8102e"/>
<circle cx="316.05" cy="110.00" r="1.65" fill="#c8102e"/>
<circle cx="319.35" cy="110.00" r="1.65" fill="#c8102e"/>
<circle cx="322.65" cy="110.00" r="1.65" fill="#c8102e"/>
<circle cx="314.40" cy="107.70" r="1.65" fill="#c8102e"/>
<circle cx="317.70" cy="107.70" r="1.65" fill="#c8102e"/>
<circle cx="321.00" cy="107.70" r="1.65" fill="#c8102e"/>
<circle cx="317.70" cy="105.30" r="1.65" fill="#c8102e"/>
<circle cx="317.70" cy="103.00" r="1.65" fill="#c8102e"/>
<circle cx="317.70" cy="96.20" r="1.65" fill="#c8102e"/>
<circle cx="333.60" cy="114.30" r="1.65" fill="#22b33a"/>
<circle cx="336.00" cy="114.30" r="1.65" fill="#22b33a"/>
<circle cx="338.40" cy="114.30" r="1.65" fill="#22b33a"/>
<circle cx="340.80" cy="114.30" r="1.65" fill="#22b33a"/>
<circle cx="343.20" cy="114.30" r="1.65" fill="#22b33a"/>
<circle cx="345.60" cy="114.30" r="1.65" fill="#22b33a"/>
<circle cx="348.00" cy="114.30" r="1.65" fill="#22b33a"/>
<circle cx="339.15" cy="112.00" r="1.65" fill="#22b33a"/>
<circle cx="342.45" cy="112.00" r="1.65" fill="#22b33a"/>
<circle cx="340.80" cy="109.50" r="1.65" fill="#22b33a"/>
<circle cx="339.15" cy="107.00" r="1.65" fill="#22b33a"/>
<circle cx="342.45" cy="107.00" r="1.65" fill="#22b33a"/>
<circle cx="340.80" cy="104.50" r="1.65" fill="#22b33a"/>
<circle cx="339.15" cy="102.00" r="1.65" fill="#22b33a"/>
<circle cx="342.45" cy="102.00" r="1.65" fill="#22b33a"/>
<circle cx="339.15" cy="99.50" r="1.65" fill="#22b33a"/>
<circle cx="342.45" cy="99.50" r="1.65" fill="#22b33a"/>
<circle cx="363.10" cy="43.40" r="1.65" fill="#0b4e8a"/>
<circle cx="363.29" cy="65.74" r="1.65" fill="#0b4e8a"/>
<circle cx="363.29" cy="71.48" r="1.65" fill="#0b4e8a"/>
<circle cx="363.29" cy="79.28" r="1.65" fill="#0b4e8a"/>
<circle cx="362.72" cy="85.84" r="1.65" fill="#0b4e8a"/>
<circle cx="363.95" cy="87.48" r="1.65" fill="#0b4e8a"/>
<circle cx="362.31" cy="89.12" r="1.65" fill="#0b4e8a"/>
<circle cx="364.36" cy="89.53" r="1.65" fill="#0b4e8a"/>
<circle cx="363.13" cy="91.17" r="1.65" fill="#0b4e8a"/>
<circle cx="361.89" cy="91.99" r="1.65" fill="#0b4e8a"/>
<circle cx="364.77" cy="91.58" r="1.65" fill="#0b4e8a"/>
<circle cx="363.13" cy="93.63" r="1.65" fill="#0b4e8a"/>
<circle cx="363.95" cy="96.10" r="1.65" fill="#0b4e8a"/>
<circle cx="362.31" cy="97.33" r="1.65" fill="#0b4e8a"/>
<circle cx="363.54" cy="98.56" r="1.65" fill="#0b4e8a"/>
<circle cx="361.48" cy="100.20" r="1.65" fill="#0b4e8a"/>
<circle cx="364.36" cy="100.61" r="1.65" fill="#0b4e8a"/>
<circle cx="359.84" cy="102.66" r="1.65" fill="#0b4e8a"/>
<circle cx="362.72" cy="102.66" r="1.65" fill="#0b4e8a"/>
<circle cx="365.59" cy="102.66" r="1.65" fill="#0b4e8a"/>
<circle cx="367.64" cy="103.07" r="1.65" fill="#0b4e8a"/>
<circle cx="360.66" cy="104.71" r="1.65" fill="#0b4e8a"/>
<circle cx="363.54" cy="104.71" r="1.65" fill="#0b4e8a"/>
<circle cx="366.41" cy="104.71" r="1.65" fill="#0b4e8a"/>
<circle cx="361.89" cy="106.76" r="1.65" fill="#0b4e8a"/>
<circle cx="364.77" cy="106.76" r="1.65" fill="#0b4e8a"/>
<circle cx="363.13" cy="108.81" r="1.65" fill="#0b4e8a"/>
<circle cx="358.20" cy="111.27" r="1.65" fill="#0b4e8a"/>
<circle cx="360.66" cy="110.86" r="1.65" fill="#0b4e8a"/>
<circle cx="366.41" cy="111.27" r="1.65" fill="#0b4e8a"/>
<circle cx="369.28" cy="110.45" r="1.65" fill="#0b4e8a"/>
<circle cx="357.38" cy="112.50" r="1.65" fill="#0b4e8a"/>
<circle cx="359.84" cy="112.91" r="1.65" fill="#0b4e8a"/>
<circle cx="362.31" cy="112.50" r="1.65" fill="#0b4e8a"/>
<circle cx="364.77" cy="112.50" r="1.65" fill="#0b4e8a"/>
<circle cx="367.64" cy="112.50" r="1.65" fill="#0b4e8a"/>
<circle cx="369.69" cy="112.09" r="1.65" fill="#0b4e8a"/>
<circle cx="359.02" cy="114.14" r="1.65" fill="#0b4e8a"/>
<circle cx="361.48" cy="114.14" r="1.65" fill="#0b4e8a"/>
<circle cx="364.36" cy="114.14" r="1.65" fill="#0b4e8a"/>
<circle cx="367.23" cy="114.14" r="1.65" fill="#0b4e8a"/>
<circle cx="363.13" cy="110.86" r="1.65" fill="#0b4e8a"/>
<circle cx="440.60" cy="52.20" r="1.65" fill="#c8102e"/>
<circle cx="443.10" cy="52.20" r="1.65" fill="#c8102e"/>
<circle cx="445.60" cy="52.20" r="1.65" fill="#c8102e"/>
<circle cx="448.10" cy="52.20" r="1.65" fill="#c8102e"/>
<circle cx="450.60" cy="52.20" r="1.65" fill="#c8102e"/>
<circle cx="453.10" cy="52.20" r="1.65" fill="#c8102e"/>
<circle cx="455.60" cy="52.20" r="1.65" fill="#c8102e"/>
<circle cx="444.35" cy="54.40" r="1.65" fill="#c8102e"/>
<circle cx="446.85" cy="54.40" r="1.65" fill="#c8102e"/>
<circle cx="449.35" cy="54.40" r="1.65" fill="#c8102e"/>
<circle cx="451.85" cy="54.40" r="1.65" fill="#c8102e"/>
<circle cx="446.23" cy="58.23" r="1.65" fill="#c8102e"/>
<circle cx="449.89" cy="58.96" r="1.65" fill="#c8102e"/>
<circle cx="448.43" cy="61.16" r="1.65" fill="#c8102e"/>
<circle cx="447.70" cy="70.66" r="1.65" fill="#c8102e"/>
<circle cx="446.23" cy="76.51" r="1.65" fill="#c8102e"/>
<circle cx="449.89" cy="77.97" r="1.65" fill="#c8102e"/>
<circle cx="447.70" cy="79.43" r="1.65" fill="#c8102e"/>
<circle cx="446.23" cy="83.82" r="1.65" fill="#c8102e"/>
<circle cx="449.16" cy="84.55" r="1.65" fill="#c8102e"/>
<circle cx="447.70" cy="89.67" r="1.65" fill="#c8102e"/>
<circle cx="446.96" cy="91.13" r="1.65" fill="#c8102e"/>
<circle cx="449.16" cy="95.51" r="1.65" fill="#c8102e"/>
<circle cx="447.70" cy="98.44" r="1.65" fill="#c8102e"/>
<circle cx="446.23" cy="102.09" r="1.65" fill="#c8102e"/>
<circle cx="449.89" cy="102.82" r="1.65" fill="#c8102e"/>
<circle cx="448.43" cy="105.02" r="1.65" fill="#c8102e"/>
<circle cx="444.77" cy="109.40" r="1.65" fill="#c8102e"/>
<circle cx="447.70" cy="109.40" r="1.65" fill="#c8102e"/>
<circle cx="450.62" cy="110.13" r="1.65" fill="#c8102e"/>
<circle cx="444.04" cy="112.33" r="1.65" fill="#c8102e"/>
<circle cx="446.96" cy="112.33" r="1.65" fill="#c8102e"/>
<circle cx="449.89" cy="113.06" r="1.65" fill="#c8102e"/>
<circle cx="452.81" cy="113.06" r="1.65" fill="#c8102e"/>
<circle cx="442.58" cy="114.52" r="1.65" fill="#c8102e"/>
<circle cx="445.50" cy="114.52" r="1.65" fill="#c8102e"/>
<circle cx="449.16" cy="114.52" r="1.65" fill="#c8102e"/>
<circle cx="452.08" cy="114.52" r="1.65" fill="#c8102e"/>
<circle cx="454.27" cy="114.96" r="1.65" fill="#c8102e"/>
<circle cx="473.28" cy="54.58" r="1.65" fill="#22b33a"/>
<circle cx="473.28" cy="68.47" r="1.65" fill="#22b33a"/>
<circle cx="473.28" cy="75.34" r="1.65" fill="#22b33a"/>
<circle cx="475.47" cy="83.09" r="1.65" fill="#22b33a"/>
<circle cx="473.28" cy="86.74" r="1.65" fill="#22b33a"/>
<circle cx="471.09" cy="95.51" r="1.65" fill="#22b33a"/>
<circle cx="473.28" cy="98.44" r="1.65" fill="#22b33a"/>
<circle cx="474.74" cy="104.29" r="1.65" fill="#22b33a"/>
<circle cx="471.09" cy="107.21" r="1.65" fill="#22b33a"/>
<circle cx="475.47" cy="107.94" r="1.65" fill="#22b33a"/>
<circle cx="478.40" cy="108.67" r="1.65" fill="#22b33a"/>
<circle cx="468.89" cy="111.60" r="1.65" fill="#22b33a"/>
<circle cx="472.55" cy="112.33" r="1.65" fill="#22b33a"/>
<circle cx="476.20" cy="111.60" r="1.65" fill="#22b33a"/>
<circle cx="466.70" cy="114.52" r="1.65" fill="#22b33a"/>
<circle cx="470.36" cy="114.96" r="1.65" fill="#22b33a"/>
<circle cx="474.01" cy="114.52" r="1.65" fill="#22b33a"/>
<circle cx="479.86" cy="114.96" r="1.65" fill="#22b33a"/>
<circle cx="491.10" cy="52.40" r="1.65" fill="#0b4e8a"/>
<circle cx="493.60" cy="52.40" r="1.65" fill="#0b4e8a"/>
<circle cx="496.10" cy="52.40" r="1.65" fill="#0b4e8a"/>
<circle cx="498.60" cy="52.40" r="1.65" fill="#0b4e8a"/>
<circle cx="501.10" cy="52.40" r="1.65" fill="#0b4e8a"/>
<circle cx="503.60" cy="52.40" r="1.65" fill="#0b4e8a"/>
<circle cx="506.10" cy="52.40" r="1.65" fill="#0b4e8a"/>
<circle cx="494.85" cy="54.20" r="1.65" fill="#0b4e8a"/>
<circle cx="497.35" cy="54.20" r="1.65" fill="#0b4e8a"/>
<circle cx="499.85" cy="54.20" r="1.65" fill="#0b4e8a"/>
<circle cx="502.35" cy="54.20" r="1.65" fill="#0b4e8a"/>
<circle cx="498.13" cy="55.31" r="1.65" fill="#0b4e8a"/>
<circle cx="498.87" cy="57.50" r="1.65" fill="#0b4e8a"/>
<circle cx="497.40" cy="61.16" r="1.65" fill="#0b4e8a"/>
<circle cx="499.16" cy="62.62" r="1.65" fill="#0b4e8a"/>
<circle cx="498.13" cy="65.54" r="1.65" fill="#0b4e8a"/>
<circle cx="499.60" cy="69.93" r="1.65" fill="#0b4e8a"/>
<circle cx="498.13" cy="72.12" r="1.65" fill="#0b4e8a"/>
<circle cx="499.16" cy="75.05" r="1.65" fill="#0b4e8a"/>
<circle cx="497.40" cy="77.24" r="1.65" fill="#0b4e8a"/>
<circle cx="498.87" cy="80.16" r="1.65" fill="#0b4e8a"/>
<circle cx="498.13" cy="83.09" r="1.65" fill="#0b4e8a"/>
<circle cx="499.60" cy="85.28" r="1.65" fill="#0b4e8a"/>
<circle cx="497.40" cy="87.47" r="1.65" fill="#0b4e8a"/>
<circle cx="498.87" cy="90.40" r="1.65" fill="#0b4e8a"/>
<circle cx="498.13" cy="93.32" r="1.65" fill="#0b4e8a"/>
<circle cx="497.40" cy="96.25" r="1.65" fill="#0b4e8a"/>
<circle cx="498.87" cy="96.98" r="1.65" fill="#0b4e8a"/>
<circle cx="498.13" cy="103.56" r="1.65" fill="#0b4e8a"/>
<circle cx="498.87" cy="105.75" r="1.65" fill="#0b4e8a"/>
<circle cx="498.13" cy="108.67" r="1.65" fill="#0b4e8a"/>
<circle cx="499.16" cy="110.87" r="1.65" fill="#0b4e8a"/>
<circle cx="498.13" cy="113.06" r="1.65" fill="#0b4e8a"/>
<circle cx="498.57" cy="114.52" r="1.65" fill="#0b4e8a"/>
<circle cx="76.50" cy="215.70" r="1.65" fill="#22b33a"/>
<circle cx="76.50" cy="228.20" r="1.65" fill="#22b33a"/>
<circle cx="73.50" cy="240.50" r="1.65" fill="#22b33a"/>
<circle cx="77.00" cy="243.10" r="1.65" fill="#22b33a"/>
<circle cx="80.00" cy="242.30" r="1.65" fill="#22b33a"/>
<circle cx="65.50" cy="255.40" r="1.65" fill="#22b33a"/>
<circle cx="83.00" cy="255.40" r="1.65" fill="#22b33a"/>
<circle cx="73.00" cy="257.50" r="1.65" fill="#22b33a"/>
<circle cx="79.50" cy="257.50" r="1.65" fill="#22b33a"/>
<circle cx="76.50" cy="256.30" r="1.65" fill="#22b33a"/>
<circle cx="66.60" cy="260.60" r="1.65" fill="#22b33a"/>
<circle cx="69.90" cy="260.60" r="1.65" fill="#22b33a"/>
<circle cx="73.20" cy="260.60" r="1.65" fill="#22b33a"/>
<circle cx="76.50" cy="260.60" r="1.65" fill="#22b33a"/>
<circle cx="79.80" cy="260.60" r="1.65" fill="#22b33a"/>
<circle cx="83.10" cy="260.60" r="1.65" fill="#22b33a"/>
<circle cx="86.40" cy="260.60" r="1.65" fill="#22b33a"/>
<circle cx="71.55" cy="258.80" r="1.65" fill="#22b33a"/>
<circle cx="74.85" cy="258.80" r="1.65" fill="#22b33a"/>
<circle cx="78.15" cy="258.80" r="1.65" fill="#22b33a"/>
<circle cx="81.45" cy="258.80" r="1.65" fill="#22b33a"/>
<circle cx="113.61" cy="178.18" r="1.65" fill="#0b4e8a"/>
<circle cx="111.34" cy="180.13" r="1.65" fill="#0b4e8a"/>
<circle cx="110.04" cy="189.24" r="1.65" fill="#0b4e8a"/>
<circle cx="111.99" cy="189.89" r="1.65" fill="#0b4e8a"/>
<circle cx="115.24" cy="189.89" r="1.65" fill="#0b4e8a"/>
<circle cx="115.89" cy="195.10" r="1.65" fill="#0b4e8a"/>
<circle cx="108.74" cy="197.05" r="1.65" fill="#0b4e8a"/>
<circle cx="111.01" cy="198.02" r="1.65" fill="#0b4e8a"/>
<circle cx="113.61" cy="200.63" r="1.65" fill="#0b4e8a"/>
<circle cx="106.46" cy="203.23" r="1.65" fill="#0b4e8a"/>
<circle cx="111.34" cy="203.88" r="1.65" fill="#0b4e8a"/>
<circle cx="115.89" cy="204.53" r="1.65" fill="#0b4e8a"/>
<circle cx="118.82" cy="206.16" r="1.65" fill="#0b4e8a"/>
<circle cx="106.46" cy="207.46" r="1.65" fill="#0b4e8a"/>
<circle cx="109.06" cy="205.83" r="1.65" fill="#0b4e8a"/>
<circle cx="112.96" cy="206.16" r="1.65" fill="#0b4e8a"/>
<circle cx="115.57" cy="208.43" r="1.65" fill="#0b4e8a"/>
<circle cx="109.06" cy="209.41" r="1.65" fill="#0b4e8a"/>
<circle cx="113.61" cy="211.04" r="1.65" fill="#0b4e8a"/>
<circle cx="102.23" cy="212.99" r="1.65" fill="#0b4e8a"/>
<circle cx="106.78" cy="212.34" r="1.65" fill="#0b4e8a"/>
<circle cx="120.45" cy="212.66" r="1.65" fill="#0b4e8a"/>
<circle cx="123.70" cy="212.99" r="1.65" fill="#0b4e8a"/>
<circle cx="122.07" cy="213.64" r="1.65" fill="#0b4e8a"/>
<circle cx="107.11" cy="215.27" r="1.65" fill="#0b4e8a"/>
<circle cx="109.71" cy="215.59" r="1.65" fill="#0b4e8a"/>
<circle cx="112.96" cy="215.27" r="1.65" fill="#0b4e8a"/>
<circle cx="116.22" cy="215.27" r="1.65" fill="#0b4e8a"/>
<circle cx="118.82" cy="214.94" r="1.65" fill="#0b4e8a"/>
<circle cx="114.27" cy="216.24" r="1.65" fill="#0b4e8a"/>
<circle cx="111.01" cy="206.48" r="1.65" fill="#0b4e8a"/>
<circle cx="117.52" cy="207.13" r="1.65" fill="#0b4e8a"/>
<circle cx="112.60" cy="231.00" r="1.65" fill="#0b4e8a"/>
<circle cx="113.60" cy="233.50" r="1.65" fill="#0b4e8a"/>
<circle cx="112.10" cy="236.00" r="1.65" fill="#0b4e8a"/>
<circle cx="112.60" cy="240.00" r="1.65" fill="#0b4e8a"/>
<circle cx="113.10" cy="243.00" r="1.65" fill="#0b4e8a"/>
<circle cx="112.10" cy="245.50" r="1.65" fill="#0b4e8a"/>
<circle cx="113.10" cy="248.00" r="1.65" fill="#0b4e8a"/>
<circle cx="112.60" cy="253.50" r="1.65" fill="#0b4e8a"/>
<circle cx="107.10" cy="256.00" r="1.65" fill="#0b4e8a"/>
<circle cx="117.10" cy="256.00" r="1.65" fill="#0b4e8a"/>
<circle cx="104.10" cy="258.30" r="1.65" fill="#0b4e8a"/>
<circle cx="110.10" cy="258.60" r="1.65" fill="#0b4e8a"/>
<circle cx="115.10" cy="258.60" r="1.65" fill="#0b4e8a"/>
<circle cx="121.10" cy="258.30" r="1.65" fill="#0b4e8a"/>
<circle cx="104.35" cy="261.00" r="1.65" fill="#0b4e8a"/>
<circle cx="107.65" cy="261.00" r="1.65" fill="#0b4e8a"/>
<circle cx="110.95" cy="261.00" r="1.65" fill="#0b4e8a"/>
<circle cx="114.25" cy="261.00" r="1.65" fill="#0b4e8a"/>
<circle cx="117.55" cy="261.00" r="1.65" fill="#0b4e8a"/>
<circle cx="120.85" cy="261.00" r="1.65" fill="#0b4e8a"/>
<circle cx="189.70" cy="191.50" r="1.65" fill="#c8102e"/>
<circle cx="189.70" cy="197.70" r="1.65" fill="#c8102e"/>
<circle cx="189.70" cy="208.90" r="1.65" fill="#c8102e"/>
<circle cx="189.70" cy="213.80" r="1.65" fill="#c8102e"/>
<circle cx="187.50" cy="251.80" r="1.65" fill="#c8102e"/>
<circle cx="191.00" cy="251.80" r="1.65" fill="#c8102e"/>
<circle cx="192.36" cy="216.98" r="1.65" fill="#c8102e"/>
<circle cx="189.63" cy="218.22" r="1.65" fill="#c8102e"/>
<circle cx="187.16" cy="219.95" r="1.65" fill="#c8102e"/>
<circle cx="192.11" cy="220.94" r="1.65" fill="#c8102e"/>
<circle cx="187.16" cy="223.91" r="1.65" fill="#c8102e"/>
<circle cx="191.86" cy="224.90" r="1.65" fill="#c8102e"/>
<circle cx="189.63" cy="226.63" r="1.65" fill="#c8102e"/>
<circle cx="187.41" cy="231.09" r="1.65" fill="#c8102e"/>
<circle cx="189.88" cy="230.84" r="1.65" fill="#c8102e"/>
<circle cx="192.11" cy="233.32" r="1.65" fill="#c8102e"/>
<circle cx="185.18" cy="235.05" r="1.65" fill="#c8102e"/>
<circle cx="189.63" cy="236.78" r="1.65" fill="#c8102e"/>
<circle cx="194.34" cy="238.27" r="1.65" fill="#c8102e"/>
<circle cx="182.95" cy="241.24" r="1.65" fill="#c8102e"/>
<circle cx="185.43" cy="240.25" r="1.65" fill="#c8102e"/>
<circle cx="191.86" cy="239.26" r="1.65" fill="#c8102e"/>
<circle cx="194.34" cy="239.75" r="1.65" fill="#c8102e"/>
<circle cx="187.16" cy="242.23" r="1.65" fill="#c8102e"/>
<circle cx="189.88" cy="241.98" r="1.65" fill="#c8102e"/>
<circle cx="192.36" cy="242.23" r="1.65" fill="#c8102e"/>
<circle cx="196.32" cy="242.97" r="1.65" fill="#c8102e"/>
<circle cx="184.93" cy="244.70" r="1.65" fill="#c8102e"/>
<circle cx="187.41" cy="245.45" r="1.65" fill="#c8102e"/>
<circle cx="189.63" cy="245.69" r="1.65" fill="#c8102e"/>
<circle cx="191.86" cy="246.19" r="1.65" fill="#c8102e"/>
<circle cx="187.90" cy="246.93" r="1.65" fill="#c8102e"/>
<circle cx="190.38" cy="247.18" r="1.65" fill="#c8102e"/>
<circle cx="208.50" cy="227.20" r="1.65" fill="#22b33a"/>
<circle cx="216.00" cy="225.80" r="1.65" fill="#22b33a"/>
<circle cx="208.00" cy="232.50" r="1.65" fill="#22b33a"/>
<circle cx="216.00" cy="232.50" r="1.65" fill="#22b33a"/>
<circle cx="208.00" cy="237.70" r="1.65" fill="#22b33a"/>
<circle cx="216.50" cy="237.70" r="1.65" fill="#22b33a"/>
<circle cx="212.50" cy="243.80" r="1.65" fill="#22b33a"/>
<circle cx="219.50" cy="243.50" r="1.65" fill="#22b33a"/>
<circle cx="205.50" cy="246.60" r="1.65" fill="#22b33a"/>
<circle cx="219.50" cy="247.50" r="1.65" fill="#22b33a"/>
<circle cx="208.00" cy="252.30" r="1.65" fill="#22b33a"/>
<circle cx="216.00" cy="252.30" r="1.65" fill="#22b33a"/>
<circle cx="235.00" cy="209.81" r="1.65" fill="#0b4e8a"/>
<circle cx="235.00" cy="211.79" r="1.65" fill="#0b4e8a"/>
<circle cx="235.00" cy="212.92" r="1.65" fill="#0b4e8a"/>
<circle cx="232.18" cy="215.46" r="1.65" fill="#0b4e8a"/>
<circle cx="234.15" cy="216.03" r="1.65" fill="#0b4e8a"/>
<circle cx="236.41" cy="215.46" r="1.65" fill="#0b4e8a"/>
<circle cx="238.11" cy="215.75" r="1.65" fill="#0b4e8a"/>
<circle cx="230.76" cy="217.73" r="1.65" fill="#0b4e8a"/>
<circle cx="233.02" cy="217.16" r="1.65" fill="#0b4e8a"/>
<circle cx="236.70" cy="218.86" r="1.65" fill="#0b4e8a"/>
<circle cx="229.35" cy="221.12" r="1.65" fill="#0b4e8a"/>
<circle cx="231.89" cy="220.27" r="1.65" fill="#0b4e8a"/>
<circle cx="234.44" cy="220.27" r="1.65" fill="#0b4e8a"/>
<circle cx="236.98" cy="221.12" r="1.65" fill="#0b4e8a"/>
<circle cx="239.52" cy="220.55" r="1.65" fill="#0b4e8a"/>
<circle cx="241.79" cy="221.69" r="1.65" fill="#0b4e8a"/>
<circle cx="227.65" cy="223.10" r="1.65" fill="#0b4e8a"/>
<circle cx="231.04" cy="222.53" r="1.65" fill="#0b4e8a"/>
<circle cx="233.59" cy="223.10" r="1.65" fill="#0b4e8a"/>
<circle cx="235.85" cy="223.10" r="1.65" fill="#0b4e8a"/>
<circle cx="238.39" cy="222.82" r="1.65" fill="#0b4e8a"/>
<circle cx="229.91" cy="225.36" r="1.65" fill="#0b4e8a"/>
<circle cx="233.31" cy="224.51" r="1.65" fill="#0b4e8a"/>
<circle cx="236.41" cy="224.80" r="1.65" fill="#0b4e8a"/>
<circle cx="229.35" cy="227.62" r="1.65" fill="#0b4e8a"/>
<circle cx="232.18" cy="226.78" r="1.65" fill="#0b4e8a"/>
<circle cx="235.85" cy="227.06" r="1.65" fill="#0b4e8a"/>
<circle cx="238.39" cy="227.06" r="1.65" fill="#0b4e8a"/>
<circle cx="240.09" cy="227.91" r="1.65" fill="#0b4e8a"/>
<circle cx="229.91" cy="229.32" r="1.65" fill="#0b4e8a"/>
<circle cx="233.31" cy="229.32" r="1.65" fill="#0b4e8a"/>
<circle cx="236.70" cy="229.89" r="1.65" fill="#0b4e8a"/>
<circle cx="240.65" cy="231.02" r="1.65" fill="#0b4e8a"/>
<circle cx="231.04" cy="231.58" r="1.65" fill="#0b4e8a"/>
<circle cx="234.44" cy="232.15" r="1.65" fill="#0b4e8a"/>
<circle cx="237.83" cy="231.58" r="1.65" fill="#0b4e8a"/>
<circle cx="228.78" cy="233.56" r="1.65" fill="#0b4e8a"/>
<circle cx="231.61" cy="233.85" r="1.65" fill="#0b4e8a"/>
<circle cx="235.00" cy="234.13" r="1.65" fill="#0b4e8a"/>
<circle cx="238.39" cy="234.98" r="1.65" fill="#0b4e8a"/>
<circle cx="232.74" cy="237.52" r="1.65" fill="#0b4e8a"/>
<circle cx="235.57" cy="237.52" r="1.65" fill="#0b4e8a"/>
<circle cx="232.18" cy="240.63" r="1.65" fill="#0b4e8a"/>
<circle cx="233.87" cy="241.76" r="1.65" fill="#0b4e8a"/>
<circle cx="236.70" cy="240.07" r="1.65" fill="#0b4e8a"/>
<circle cx="239.24" cy="224.51" r="1.65" fill="#0b4e8a"/>
<circle cx="234.72" cy="221.97" r="1.65" fill="#0b4e8a"/>
<circle cx="317.72" cy="193.12" r="1.65" fill="#c8102e"/>
<circle cx="315.50" cy="198.20" r="1.65" fill="#c8102e"/>
<circle cx="319.93" cy="200.01" r="1.65" fill="#c8102e"/>
<circle cx="317.72" cy="202.31" r="1.65" fill="#c8102e"/>
<circle cx="319.93" cy="205.42" r="1.65" fill="#c8102e"/>
<circle cx="324.28" cy="205.75" r="1.65" fill="#c8102e"/>
<circle cx="313.20" cy="206.41" r="1.65" fill="#c8102e"/>
<circle cx="315.50" cy="207.39" r="1.65" fill="#c8102e"/>
<circle cx="317.72" cy="208.21" r="1.65" fill="#c8102e"/>
<circle cx="319.93" cy="208.21" r="1.65" fill="#c8102e"/>
<circle cx="322.23" cy="209.03" r="1.65" fill="#c8102e"/>
<circle cx="317.72" cy="213.79" r="1.65" fill="#c8102e"/>
<circle cx="311.15" cy="214.20" r="1.65" fill="#c8102e"/>
<circle cx="313.61" cy="216.66" r="1.65" fill="#c8102e"/>
<circle cx="315.50" cy="217.07" r="1.65" fill="#c8102e"/>
<circle cx="322.39" cy="214.61" r="1.65" fill="#c8102e"/>
<circle cx="324.69" cy="214.45" r="1.65" fill="#c8102e"/>
<circle cx="319.93" cy="217.89" r="1.65" fill="#c8102e"/>
<circle cx="322.23" cy="218.55" r="1.65" fill="#c8102e"/>
<circle cx="313.20" cy="220.76" r="1.65" fill="#c8102e"/>
<circle cx="315.50" cy="221.17" r="1.65" fill="#c8102e"/>
<circle cx="318.29" cy="220.52" r="1.65" fill="#c8102e"/>
<circle cx="319.93" cy="222.81" r="1.65" fill="#c8102e"/>
<circle cx="315.50" cy="224.86" r="1.65" fill="#c8102e"/>
<circle cx="317.72" cy="224.45" r="1.65" fill="#c8102e"/>
<circle cx="319.93" cy="226.10" r="1.65" fill="#c8102e"/>
<circle cx="315.50" cy="229.54" r="1.65" fill="#c8102e"/>
<circle cx="317.72" cy="228.56" r="1.65" fill="#c8102e"/>
<circle cx="319.93" cy="231.43" r="1.65" fill="#c8102e"/>
<circle cx="317.72" cy="234.71" r="1.65" fill="#c8102e"/>
<circle cx="317.72" cy="244.80" r="1.65" fill="#c8102e"/>
<circle cx="337.00" cy="208.00" r="1.65" fill="#22b33a"/>
<circle cx="344.00" cy="205.80" r="1.65" fill="#22b33a"/>
<circle cx="334.00" cy="215.00" r="1.65" fill="#22b33a"/>
<circle cx="348.00" cy="215.50" r="1.65" fill="#22b33a"/>
<circle cx="340.50" cy="218.50" r="1.65" fill="#22b33a"/>
<circle cx="335.00" cy="226.50" r="1.65" fill="#22b33a"/>
<circle cx="346.00" cy="226.50" r="1.65" fill="#22b33a"/>
<circle cx="335.00" cy="231.50" r="1.65" fill="#22b33a"/>
<circle cx="346.00" cy="231.50" r="1.65" fill="#22b33a"/>
<circle cx="340.50" cy="233.50" r="1.65" fill="#22b33a"/>
<circle cx="340.50" cy="240.50" r="1.65" fill="#22b33a"/>
<circle cx="340.50" cy="224.00" r="1.65" fill="#22b33a"/>
<circle cx="363.10" cy="210.00" r="1.65" fill="#0b4e8a"/>
<circle cx="360.10" cy="213.50" r="1.65" fill="#0b4e8a"/>
<circle cx="366.10" cy="214.50" r="1.65" fill="#0b4e8a"/>
<circle cx="361.45" cy="217.00" r="1.65" fill="#0b4e8a"/>
<circle cx="364.75" cy="217.00" r="1.65" fill="#0b4e8a"/>
<circle cx="362.25" cy="219.50" r="1.65" fill="#0b4e8a"/>
<circle cx="365.55" cy="219.50" r="1.65" fill="#0b4e8a"/>
<circle cx="359.80" cy="222.00" r="1.65" fill="#0b4e8a"/>
<circle cx="363.10" cy="222.00" r="1.65" fill="#0b4e8a"/>
<circle cx="366.40" cy="222.00" r="1.65" fill="#0b4e8a"/>
<circle cx="360.65" cy="224.50" r="1.65" fill="#0b4e8a"/>
<circle cx="363.95" cy="224.50" r="1.65" fill="#0b4e8a"/>
<circle cx="359.80" cy="227.00" r="1.65" fill="#0b4e8a"/>
<circle cx="363.10" cy="227.00" r="1.65" fill="#0b4e8a"/>
<circle cx="366.40" cy="227.00" r="1.65" fill="#0b4e8a"/>
<circle cx="360.50" cy="229.50" r="1.65" fill="#0b4e8a"/>
<circle cx="363.80" cy="229.50" r="1.65" fill="#0b4e8a"/>
<circle cx="367.10" cy="229.50" r="1.65" fill="#0b4e8a"/>
<circle cx="359.80" cy="232.00" r="1.65" fill="#0b4e8a"/>
<circle cx="363.10" cy="232.00" r="1.65" fill="#0b4e8a"/>
<circle cx="366.40" cy="232.00" r="1.65" fill="#0b4e8a"/>
<circle cx="358.15" cy="234.50" r="1.65" fill="#0b4e8a"/>
<circle cx="361.45" cy="234.50" r="1.65" fill="#0b4e8a"/>
<circle cx="364.75" cy="234.50" r="1.65" fill="#0b4e8a"/>
<circle cx="368.05" cy="234.50" r="1.65" fill="#0b4e8a"/>
<circle cx="359.20" cy="237.00" r="1.65" fill="#0b4e8a"/>
<circle cx="362.50" cy="237.00" r="1.65" fill="#0b4e8a"/>
<circle cx="365.80" cy="237.00" r="1.65" fill="#0b4e8a"/>
<circle cx="359.80" cy="239.50" r="1.65" fill="#0b4e8a"/>
<circle cx="363.10" cy="239.50" r="1.65" fill="#0b4e8a"/>
<circle cx="366.40" cy="239.50" r="1.65" fill="#0b4e8a"/>
<circle cx="358.15" cy="241.80" r="1.65" fill="#0b4e8a"/>
<circle cx="361.45" cy="241.80" r="1.65" fill="#0b4e8a"/>
<circle cx="364.75" cy="241.80" r="1.65" fill="#0b4e8a"/>
<circle cx="368.05" cy="241.80" r="1.65" fill="#0b4e8a"/>
<circle cx="354.85" cy="243.80" r="1.65" fill="#0b4e8a"/>
<circle cx="358.15" cy="243.80" r="1.65" fill="#0b4e8a"/>
<circle cx="361.45" cy="243.80" r="1.65" fill="#0b4e8a"/>
<circle cx="364.75" cy="243.80" r="1.65" fill="#0b4e8a"/>
<circle cx="368.05" cy="243.80" r="1.65" fill="#0b4e8a"/>
<circle cx="371.35" cy="243.80" r="1.65" fill="#0b4e8a"/>
<circle cx="448.08" cy="188.76" r="1.65" fill="#c8102e"/>
<circle cx="448.08" cy="192.43" r="1.65" fill="#c8102e"/>
<circle cx="447.39" cy="203.02" r="1.65" fill="#c8102e"/>
<circle cx="448.87" cy="205.30" r="1.65" fill="#c8102e"/>
<circle cx="447.39" cy="207.57" r="1.65" fill="#c8102e"/>
<circle cx="448.87" cy="209.95" r="1.65" fill="#c8102e"/>
<circle cx="448.08" cy="216.19" r="1.65" fill="#c8102e"/>
<circle cx="448.08" cy="219.65" r="1.65" fill="#c8102e"/>
<circle cx="445.90" cy="225.59" r="1.65" fill="#c8102e"/>
<circle cx="448.87" cy="225.10" r="1.65" fill="#c8102e"/>
<circle cx="450.85" cy="226.09" r="1.65" fill="#c8102e"/>
<circle cx="445.90" cy="234.01" r="1.65" fill="#c8102e"/>
<circle cx="448.38" cy="234.50" r="1.65" fill="#c8102e"/>
<circle cx="450.85" cy="235.00" r="1.65" fill="#c8102e"/>
<circle cx="447.39" cy="235.99" r="1.65" fill="#c8102e"/>
<circle cx="447.39" cy="240.45" r="1.65" fill="#c8102e"/>
<circle cx="449.37" cy="241.44" r="1.65" fill="#c8102e"/>
<circle cx="447.39" cy="243.91" r="1.65" fill="#c8102e"/>
<circle cx="450.36" cy="246.39" r="1.65" fill="#c8102e"/>
<circle cx="454.81" cy="245.89" r="1.65" fill="#c8102e"/>
<circle cx="442.60" cy="249.00" r="1.65" fill="#c8102e"/>
<circle cx="445.10" cy="249.00" r="1.65" fill="#c8102e"/>
<circle cx="447.60" cy="249.00" r="1.65" fill="#c8102e"/>
<circle cx="450.10" cy="249.00" r="1.65" fill="#c8102e"/>
<circle cx="452.60" cy="249.00" r="1.65" fill="#c8102e"/>
<circle cx="442.35" cy="251.20" r="1.65" fill="#c8102e"/>
<circle cx="444.85" cy="251.20" r="1.65" fill="#c8102e"/>
<circle cx="447.35" cy="251.20" r="1.65" fill="#c8102e"/>
<circle cx="449.85" cy="251.20" r="1.65" fill="#c8102e"/>
<circle cx="452.35" cy="251.20" r="1.65" fill="#c8102e"/>
<circle cx="454.85" cy="251.20" r="1.65" fill="#c8102e"/>
<circle cx="473.50" cy="234.70" r="1.65" fill="#22b33a"/>
<circle cx="473.50" cy="241.30" r="1.65" fill="#22b33a"/>
<circle cx="466.50" cy="250.00" r="1.65" fill="#22b33a"/>
<circle cx="468.25" cy="250.00" r="1.65" fill="#22b33a"/>
<circle cx="470.00" cy="250.00" r="1.65" fill="#22b33a"/>
<circle cx="471.75" cy="250.00" r="1.65" fill="#22b33a"/>
<circle cx="473.50" cy="250.00" r="1.65" fill="#22b33a"/>
<circle cx="475.25" cy="250.00" r="1.65" fill="#22b33a"/>
<circle cx="477.00" cy="250.00" r="1.65" fill="#22b33a"/>
<circle cx="478.75" cy="250.00" r="1.65" fill="#22b33a"/>
<circle cx="480.50" cy="250.00" r="1.65" fill="#22b33a"/>
<circle cx="498.38" cy="189.46" r="1.65" fill="#0b4e8a"/>
<circle cx="499.37" cy="198.37" r="1.65" fill="#0b4e8a"/>
<circle cx="497.39" cy="200.84" r="1.65" fill="#0b4e8a"/>
<circle cx="495.90" cy="204.31" r="1.65" fill="#0b4e8a"/>
<circle cx="497.88" cy="205.79" r="1.65" fill="#0b4e8a"/>
<circle cx="499.86" cy="207.77" r="1.65" fill="#0b4e8a"/>
<circle cx="497.39" cy="210.74" r="1.65" fill="#0b4e8a"/>
<circle cx="495.90" cy="213.22" r="1.65" fill="#0b4e8a"/>
<circle cx="500.85" cy="212.23" r="1.65" fill="#0b4e8a"/>
<circle cx="498.87" cy="214.70" r="1.65" fill="#0b4e8a"/>
<circle cx="497.88" cy="217.18" r="1.65" fill="#0b4e8a"/>
<circle cx="500.36" cy="219.16" r="1.65" fill="#0b4e8a"/>
<circle cx="496.40" cy="222.13" r="1.65" fill="#0b4e8a"/>
<circle cx="500.85" cy="222.13" r="1.65" fill="#0b4e8a"/>
<circle cx="494.42" cy="225.10" r="1.65" fill="#0b4e8a"/>
<circle cx="497.88" cy="224.60" r="1.65" fill="#0b4e8a"/>
<circle cx="499.86" cy="226.58" r="1.65" fill="#0b4e8a"/>
<circle cx="502.34" cy="227.57" r="1.65" fill="#0b4e8a"/>
<circle cx="495.90" cy="228.56" r="1.65" fill="#0b4e8a"/>
<circle cx="498.87" cy="230.05" r="1.65" fill="#0b4e8a"/>
<circle cx="501.84" cy="233.51" r="1.65" fill="#0b4e8a"/>
<circle cx="494.42" cy="235.00" r="1.65" fill="#0b4e8a"/>
<circle cx="497.88" cy="236.49" r="1.65" fill="#0b4e8a"/>
<circle cx="500.85" cy="237.97" r="1.65" fill="#0b4e8a"/>
<circle cx="495.90" cy="239.46" r="1.65" fill="#0b4e8a"/>
<circle cx="501.84" cy="238.96" r="1.65" fill="#0b4e8a"/>
<circle cx="494.42" cy="241.93" r="1.65" fill="#0b4e8a"/>
<circle cx="498.87" cy="241.93" r="1.65" fill="#0b4e8a"/>
<circle cx="501.35" cy="242.43" r="1.65" fill="#0b4e8a"/>
<circle cx="497.88" cy="244.41" r="1.65" fill="#0b4e8a"/>
<circle cx="499.86" cy="243.91" r="1.65" fill="#0b4e8a"/>
<circle cx="491.90" cy="249.90" r="1.65" fill="#0b4e8a"/>
<circle cx="493.90" cy="249.90" r="1.65" fill="#0b4e8a"/>
<circle cx="495.90" cy="249.90" r="1.65" fill="#0b4e8a"/>
<circle cx="497.90" cy="249.90" r="1.65" fill="#0b4e8a"/>
<circle cx="499.90" cy="249.90" r="1.65" fill="#0b4e8a"/>
<circle cx="501.90" cy="249.90" r="1.65" fill="#0b4e8a"/>
<circle cx="503.90" cy="249.90" r="1.65" fill="#0b4e8a"/>
<circle cx="505.90" cy="249.90" r="1.65" fill="#0b4e8a"/>
<circle cx="69.70" cy="360.66" r="1.65" fill="#c8102e"/>
<circle cx="67.58" cy="361.93" r="1.65" fill="#c8102e"/>
<circle cx="65.04" cy="365.25" r="1.65" fill="#c8102e"/>
<circle cx="69.84" cy="365.25" r="1.65" fill="#c8102e"/>
<circle cx="71.96" cy="364.19" r="1.65" fill="#c8102e"/>
<circle cx="68.57" cy="372.11" r="1.65" fill="#c8102e"/>
<circle cx="66.17" cy="374.45" r="1.65" fill="#c8102e"/>
<circle cx="62.92" cy="378.69" r="1.65" fill="#c8102e"/>
<circle cx="61.01" cy="381.52" r="1.65" fill="#c8102e"/>
<circle cx="67.37" cy="381.52" r="1.65" fill="#c8102e"/>
<circle cx="71.96" cy="382.02" r="1.65" fill="#c8102e"/>
<circle cx="74.22" cy="381.87" r="1.65" fill="#c8102e"/>
<circle cx="63.48" cy="383.85" r="1.65" fill="#c8102e"/>
<circle cx="65.60" cy="383.29" r="1.65" fill="#c8102e"/>
<circle cx="69.13" cy="383.64" r="1.65" fill="#c8102e"/>
<circle cx="72.31" cy="384.35" r="1.65" fill="#c8102e"/>
<circle cx="74.43" cy="386.12" r="1.65" fill="#c8102e"/>
<circle cx="63.13" cy="388.59" r="1.65" fill="#c8102e"/>
<circle cx="65.60" cy="388.24" r="1.65" fill="#c8102e"/>
<circle cx="69.49" cy="387.89" r="1.65" fill="#c8102e"/>
<circle cx="71.96" cy="389.65" r="1.65" fill="#c8102e"/>
<circle cx="67.37" cy="392.48" r="1.65" fill="#c8102e"/>
<circle cx="69.84" cy="391.78" r="1.65" fill="#c8102e"/>
<circle cx="69.49" cy="395.31" r="1.65" fill="#c8102e"/>
<circle cx="65.04" cy="397.79" r="1.65" fill="#c8102e"/>
<circle cx="67.58" cy="397.08" r="1.65" fill="#c8102e"/>
<circle cx="62.77" cy="400.83" r="1.65" fill="#c8102e"/>
<circle cx="67.37" cy="400.83" r="1.65" fill="#c8102e"/>
<circle cx="71.96" cy="400.83" r="1.65" fill="#c8102e"/>
<circle cx="69.84" cy="399.20" r="1.65" fill="#c8102e"/>
<circle cx="90.30" cy="349.60" r="1.65" fill="#22b33a"/>
<circle cx="90.30" cy="368.10" r="1.65" fill="#22b33a"/>
<circle cx="92.50" cy="381.90" r="1.65" fill="#22b33a"/>
<circle cx="90.30" cy="385.00" r="1.65" fill="#22b33a"/>
<circle cx="90.30" cy="389.60" r="1.65" fill="#22b33a"/>
<circle cx="83.30" cy="400.40" r="1.65" fill="#22b33a"/>
<circle cx="86.10" cy="400.40" r="1.65" fill="#22b33a"/>
<circle cx="88.90" cy="400.40" r="1.65" fill="#22b33a"/>
<circle cx="91.70" cy="400.40" r="1.65" fill="#22b33a"/>
<circle cx="94.50" cy="400.40" r="1.65" fill="#22b33a"/>
<circle cx="97.30" cy="400.40" r="1.65" fill="#22b33a"/>
<circle cx="112.53" cy="335.51" r="1.65" fill="#0b4e8a"/>
<circle cx="112.53" cy="341.13" r="1.65" fill="#0b4e8a"/>
<circle cx="112.53" cy="351.42" r="1.65" fill="#0b4e8a"/>
<circle cx="112.53" cy="358.42" r="1.65" fill="#0b4e8a"/>
<circle cx="111.68" cy="360.75" r="1.65" fill="#0b4e8a"/>
<circle cx="113.27" cy="361.81" r="1.65" fill="#0b4e8a"/>
<circle cx="111.89" cy="364.46" r="1.65" fill="#0b4e8a"/>
<circle cx="112.53" cy="367.65" r="1.65" fill="#0b4e8a"/>
<circle cx="111.89" cy="372.95" r="1.65" fill="#0b4e8a"/>
<circle cx="113.27" cy="373.48" r="1.65" fill="#0b4e8a"/>
<circle cx="111.15" cy="376.66" r="1.65" fill="#0b4e8a"/>
<circle cx="113.27" cy="378.25" r="1.65" fill="#0b4e8a"/>
<circle cx="111.68" cy="379.84" r="1.65" fill="#0b4e8a"/>
<circle cx="113.80" cy="380.90" r="1.65" fill="#0b4e8a"/>
<circle cx="110.62" cy="381.96" r="1.65" fill="#0b4e8a"/>
<circle cx="112.53" cy="383.02" r="1.65" fill="#0b4e8a"/>
<circle cx="114.86" cy="382.49" r="1.65" fill="#0b4e8a"/>
<circle cx="111.15" cy="385.14" r="1.65" fill="#0b4e8a"/>
<circle cx="113.27" cy="386.20" r="1.65" fill="#0b4e8a"/>
<circle cx="111.68" cy="388.32" r="1.65" fill="#0b4e8a"/>
<circle cx="114.33" cy="388.85" r="1.65" fill="#0b4e8a"/>
<circle cx="112.74" cy="390.45" r="1.65" fill="#0b4e8a"/>
<circle cx="110.62" cy="392.57" r="1.65" fill="#0b4e8a"/>
<circle cx="113.80" cy="393.10" r="1.65" fill="#0b4e8a"/>
<circle cx="111.68" cy="394.69" r="1.65" fill="#0b4e8a"/>
<circle cx="106.37" cy="396.28" r="1.65" fill="#0b4e8a"/>
<circle cx="105.84" cy="398.93" r="1.65" fill="#0b4e8a"/>
<circle cx="108.49" cy="397.87" r="1.65" fill="#0b4e8a"/>
<circle cx="110.62" cy="399.46" r="1.65" fill="#0b4e8a"/>
<circle cx="113.27" cy="398.40" r="1.65" fill="#0b4e8a"/>
<circle cx="115.92" cy="398.93" r="1.65" fill="#0b4e8a"/>
<circle cx="118.58" cy="398.40" r="1.65" fill="#0b4e8a"/>
<circle cx="119.11" cy="399.46" r="1.65" fill="#0b4e8a"/>
<circle cx="109.55" cy="396.81" r="1.65" fill="#0b4e8a"/>
<circle cx="114.86" cy="397.34" r="1.65" fill="#0b4e8a"/>
<circle cx="189.70" cy="374.20" r="1.65" fill="#c8102e"/>
<circle cx="193.00" cy="377.30" r="1.65" fill="#c8102e"/>
<circle cx="191.00" cy="380.00" r="1.65" fill="#c8102e"/>
<circle cx="186.00" cy="382.70" r="1.65" fill="#c8102e"/>
<circle cx="193.00" cy="383.50" r="1.65" fill="#c8102e"/>
<circle cx="184.75" cy="385.00" r="1.65" fill="#c8102e"/>
<circle cx="188.05" cy="385.00" r="1.65" fill="#c8102e"/>
<circle cx="191.35" cy="385.00" r="1.65" fill="#c8102e"/>
<circle cx="194.65" cy="385.00" r="1.65" fill="#c8102e"/>
<circle cx="183.10" cy="387.50" r="1.65" fill="#c8102e"/>
<circle cx="186.40" cy="387.50" r="1.65" fill="#c8102e"/>
<circle cx="189.70" cy="387.50" r="1.65" fill="#c8102e"/>
<circle cx="193.00" cy="387.50" r="1.65" fill="#c8102e"/>
<circle cx="196.30" cy="387.50" r="1.65" fill="#c8102e"/>
<circle cx="183.10" cy="390.00" r="1.65" fill="#c8102e"/>
<circle cx="186.40" cy="390.00" r="1.65" fill="#c8102e"/>
<circle cx="189.70" cy="390.00" r="1.65" fill="#c8102e"/>
<circle cx="193.00" cy="390.00" r="1.65" fill="#c8102e"/>
<circle cx="196.30" cy="390.00" r="1.65" fill="#c8102e"/>
<circle cx="181.45" cy="391.60" r="1.65" fill="#c8102e"/>
<circle cx="184.75" cy="391.60" r="1.65" fill="#c8102e"/>
<circle cx="188.05" cy="391.60" r="1.65" fill="#c8102e"/>
<circle cx="191.35" cy="391.60" r="1.65" fill="#c8102e"/>
<circle cx="194.65" cy="391.60" r="1.65" fill="#c8102e"/>
<circle cx="197.95" cy="391.60" r="1.65" fill="#c8102e"/>
<circle cx="212.50" cy="367.80" r="1.65" fill="#22b33a"/>
<circle cx="210.50" cy="378.80" r="1.65" fill="#22b33a"/>
<circle cx="214.00" cy="380.00" r="1.65" fill="#22b33a"/>
<circle cx="205.50" cy="393.00" r="1.65" fill="#22b33a"/>
<circle cx="208.30" cy="393.00" r="1.65" fill="#22b33a"/>
<circle cx="211.10" cy="393.00" r="1.65" fill="#22b33a"/>
<circle cx="213.90" cy="393.00" r="1.65" fill="#22b33a"/>
<circle cx="216.70" cy="393.00" r="1.65" fill="#22b33a"/>
<circle cx="219.50" cy="393.00" r="1.65" fill="#22b33a"/>
<circle cx="235.01" cy="338.33" r="1.65" fill="#0b4e8a"/>
<circle cx="235.01" cy="350.79" r="1.65" fill="#0b4e8a"/>
<circle cx="235.01" cy="357.37" r="1.65" fill="#0b4e8a"/>
<circle cx="234.30" cy="365.26" r="1.65" fill="#0b4e8a"/>
<circle cx="236.06" cy="364.39" r="1.65" fill="#0b4e8a"/>
<circle cx="234.74" cy="370.09" r="1.65" fill="#0b4e8a"/>
<circle cx="235.62" cy="371.40" r="1.65" fill="#0b4e8a"/>
<circle cx="233.86" cy="373.60" r="1.65" fill="#0b4e8a"/>
<circle cx="236.06" cy="374.47" r="1.65" fill="#0b4e8a"/>
<circle cx="232.54" cy="375.79" r="1.65" fill="#0b4e8a"/>
<circle cx="235.18" cy="376.23" r="1.65" fill="#0b4e8a"/>
<circle cx="237.38" cy="377.98" r="1.65" fill="#0b4e8a"/>
<circle cx="234.30" cy="378.86" r="1.65" fill="#0b4e8a"/>
<circle cx="236.94" cy="380.61" r="1.65" fill="#0b4e8a"/>
<circle cx="233.42" cy="381.49" r="1.65" fill="#0b4e8a"/>
<circle cx="235.62" cy="382.81" r="1.65" fill="#0b4e8a"/>
<circle cx="234.30" cy="385.00" r="1.65" fill="#0b4e8a"/>
<circle cx="235.62" cy="386.75" r="1.65" fill="#0b4e8a"/>
<circle cx="234.30" cy="387.63" r="1.65" fill="#0b4e8a"/>
<circle cx="228.59" cy="390.70" r="1.65" fill="#0b4e8a"/>
<circle cx="230.35" cy="392.46" r="1.65" fill="#0b4e8a"/>
<circle cx="232.11" cy="391.14" r="1.65" fill="#0b4e8a"/>
<circle cx="233.86" cy="392.89" r="1.65" fill="#0b4e8a"/>
<circle cx="235.62" cy="391.14" r="1.65" fill="#0b4e8a"/>
<circle cx="237.38" cy="392.46" r="1.65" fill="#0b4e8a"/>
<circle cx="239.57" cy="390.70" r="1.65" fill="#0b4e8a"/>
<circle cx="241.77" cy="392.02" r="1.65" fill="#0b4e8a"/>
<circle cx="231.23" cy="389.82" r="1.65" fill="#0b4e8a"/>
<circle cx="240.45" cy="389.82" r="1.65" fill="#0b4e8a"/>
<circle cx="318.01" cy="336.62" r="1.65" fill="#c8102e"/>
<circle cx="314.63" cy="338.92" r="1.65" fill="#c8102e"/>
<circle cx="321.38" cy="339.50" r="1.65" fill="#c8102e"/>
<circle cx="318.01" cy="343.35" r="1.65" fill="#c8102e"/>
<circle cx="314.63" cy="345.46" r="1.65" fill="#c8102e"/>
<circle cx="321.38" cy="345.94" r="1.65" fill="#c8102e"/>
<circle cx="314.63" cy="349.12" r="1.65" fill="#c8102e"/>
<circle cx="318.01" cy="351.23" r="1.65" fill="#c8102e"/>
<circle cx="318.01" cy="354.88" r="1.65" fill="#c8102e"/>
<circle cx="321.38" cy="355.08" r="1.65" fill="#c8102e"/>
<circle cx="324.75" cy="356.81" r="1.65" fill="#c8102e"/>
<circle cx="314.63" cy="357.77" r="1.65" fill="#c8102e"/>
<circle cx="318.01" cy="359.69" r="1.65" fill="#c8102e"/>
<circle cx="321.38" cy="358.92" r="1.65" fill="#c8102e"/>
<circle cx="311.26" cy="370.27" r="1.65" fill="#c8102e"/>
<circle cx="318.01" cy="370.27" r="1.65" fill="#c8102e"/>
<circle cx="324.75" cy="370.27" r="1.65" fill="#c8102e"/>
<circle cx="314.63" cy="373.15" r="1.65" fill="#c8102e"/>
<circle cx="318.01" cy="371.90" r="1.65" fill="#c8102e"/>
<circle cx="321.38" cy="372.58" r="1.65" fill="#c8102e"/>
<circle cx="318.01" cy="375.75" r="1.65" fill="#c8102e"/>
<circle cx="314.63" cy="377.67" r="1.65" fill="#c8102e"/>
<circle cx="321.38" cy="377.67" r="1.65" fill="#c8102e"/>
<circle cx="311.26" cy="382.96" r="1.65" fill="#c8102e"/>
<circle cx="324.75" cy="382.19" r="1.65" fill="#c8102e"/>
<circle cx="318.01" cy="385.37" r="1.65" fill="#c8102e"/>
<circle cx="321.38" cy="385.65" r="1.65" fill="#c8102e"/>
<circle cx="314.63" cy="387.29" r="1.65" fill="#c8102e"/>
<circle cx="318.01" cy="390.17" r="1.65" fill="#c8102e"/>
<circle cx="321.38" cy="389.69" r="1.65" fill="#c8102e"/>
<circle cx="316.37" cy="395.94" r="1.65" fill="#c8102e"/>
<circle cx="319.64" cy="395.94" r="1.65" fill="#c8102e"/>
<circle cx="333.10" cy="367.30" r="1.65" fill="#22b33a"/>
<circle cx="342.80" cy="369.60" r="1.65" fill="#22b33a"/>
<circle cx="346.90" cy="367.30" r="1.65" fill="#22b33a"/>
<circle cx="337.70" cy="377.00" r="1.65" fill="#22b33a"/>
<circle cx="333.10" cy="380.40" r="1.65" fill="#22b33a"/>
<circle cx="342.30" cy="380.40" r="1.65" fill="#22b33a"/>
<circle cx="346.90" cy="380.40" r="1.65" fill="#22b33a"/>
<circle cx="333.10" cy="387.30" r="1.65" fill="#22b33a"/>
<circle cx="336.90" cy="387.30" r="1.65" fill="#22b33a"/>
<circle cx="346.90" cy="387.30" r="1.65" fill="#22b33a"/>
<circle cx="340.30" cy="393.50" r="1.65" fill="#22b33a"/>
<circle cx="342.80" cy="376.00" r="1.65" fill="#22b33a"/>
<circle cx="363.08" cy="348.24" r="1.65" fill="#0b4e8a"/>
<circle cx="363.08" cy="352.68" r="1.65" fill="#0b4e8a"/>
<circle cx="362.11" cy="365.98" r="1.65" fill="#0b4e8a"/>
<circle cx="360.49" cy="368.00" r="1.65" fill="#0b4e8a"/>
<circle cx="364.12" cy="367.19" r="1.65" fill="#0b4e8a"/>
<circle cx="366.55" cy="368.81" r="1.65" fill="#0b4e8a"/>
<circle cx="358.07" cy="369.61" r="1.65" fill="#0b4e8a"/>
<circle cx="357.26" cy="371.23" r="1.65" fill="#0b4e8a"/>
<circle cx="359.69" cy="370.82" r="1.65" fill="#0b4e8a"/>
<circle cx="364.53" cy="370.42" r="1.65" fill="#0b4e8a"/>
<circle cx="368.97" cy="371.23" r="1.65" fill="#0b4e8a"/>
<circle cx="367.35" cy="370.02" r="1.65" fill="#0b4e8a"/>
<circle cx="359.28" cy="375.26" r="1.65" fill="#0b4e8a"/>
<circle cx="362.11" cy="374.85" r="1.65" fill="#0b4e8a"/>
<circle cx="364.93" cy="375.26" r="1.65" fill="#0b4e8a"/>
<circle cx="366.95" cy="376.06" r="1.65" fill="#0b4e8a"/>
<circle cx="358.88" cy="378.48" r="1.65" fill="#0b4e8a"/>
<circle cx="361.30" cy="378.08" r="1.65" fill="#0b4e8a"/>
<circle cx="364.12" cy="378.89" r="1.65" fill="#0b4e8a"/>
<circle cx="366.95" cy="378.48" r="1.65" fill="#0b4e8a"/>
<circle cx="356.46" cy="382.92" r="1.65" fill="#0b4e8a"/>
<circle cx="358.88" cy="382.92" r="1.65" fill="#0b4e8a"/>
<circle cx="361.30" cy="382.52" r="1.65" fill="#0b4e8a"/>
<circle cx="364.12" cy="382.52" r="1.65" fill="#0b4e8a"/>
<circle cx="366.95" cy="382.92" r="1.65" fill="#0b4e8a"/>
<circle cx="369.77" cy="382.52" r="1.65" fill="#0b4e8a"/>
<circle cx="358.07" cy="385.34" r="1.65" fill="#0b4e8a"/>
<circle cx="360.49" cy="384.94" r="1.65" fill="#0b4e8a"/>
<circle cx="363.32" cy="385.34" r="1.65" fill="#0b4e8a"/>
<circle cx="366.14" cy="384.94" r="1.65" fill="#0b4e8a"/>
<circle cx="368.97" cy="384.53" r="1.65" fill="#0b4e8a"/>
<circle cx="359.69" cy="387.35" r="1.65" fill="#0b4e8a"/>
<circle cx="362.11" cy="388.56" r="1.65" fill="#0b4e8a"/>
<circle cx="364.53" cy="389.77" r="1.65" fill="#0b4e8a"/>
<circle cx="365.74" cy="391.39" r="1.65" fill="#0b4e8a"/>
<circle cx="360.49" cy="393.81" r="1.65" fill="#0b4e8a"/>
<circle cx="362.91" cy="395.02" r="1.65" fill="#0b4e8a"/>
<circle cx="367.76" cy="394.61" r="1.65" fill="#0b4e8a"/>
<circle cx="358.07" cy="397.44" r="1.65" fill="#0b4e8a"/>
<circle cx="365.74" cy="397.84" r="1.65" fill="#0b4e8a"/>
<circle cx="362.11" cy="392.60" r="1.65" fill="#0b4e8a"/>
<circle cx="451.22" cy="343.29" r="1.65" fill="#c8102e"/>
<circle cx="447.75" cy="344.92" r="1.65" fill="#c8102e"/>
<circle cx="451.22" cy="347.42" r="1.65" fill="#c8102e"/>
<circle cx="444.67" cy="349.73" r="1.65" fill="#c8102e"/>
<circle cx="448.04" cy="350.31" r="1.65" fill="#c8102e"/>
<circle cx="444.67" cy="354.83" r="1.65" fill="#c8102e"/>
<circle cx="451.22" cy="355.12" r="1.65" fill="#c8102e"/>
<circle cx="454.50" cy="355.12" r="1.65" fill="#c8102e"/>
<circle cx="441.30" cy="357.23" r="1.65" fill="#c8102e"/>
<circle cx="447.75" cy="357.71" r="1.65" fill="#c8102e"/>
<circle cx="444.67" cy="360.12" r="1.65" fill="#c8102e"/>
<circle cx="451.22" cy="359.35" r="1.65" fill="#c8102e"/>
<circle cx="447.75" cy="362.23" r="1.65" fill="#c8102e"/>
<circle cx="448.04" cy="364.92" r="1.65" fill="#c8102e"/>
<circle cx="441.30" cy="367.81" r="1.65" fill="#c8102e"/>
<circle cx="444.67" cy="367.81" r="1.65" fill="#c8102e"/>
<circle cx="447.75" cy="368.96" r="1.65" fill="#c8102e"/>
<circle cx="451.22" cy="368.58" r="1.65" fill="#c8102e"/>
<circle cx="444.67" cy="371.65" r="1.65" fill="#c8102e"/>
<circle cx="447.75" cy="373.77" r="1.65" fill="#c8102e"/>
<circle cx="451.22" cy="374.73" r="1.65" fill="#c8102e"/>
<circle cx="444.67" cy="375.69" r="1.65" fill="#c8102e"/>
<circle cx="447.75" cy="377.42" r="1.65" fill="#c8102e"/>
<circle cx="444.67" cy="379.54" r="1.65" fill="#c8102e"/>
<circle cx="451.22" cy="379.54" r="1.65" fill="#c8102e"/>
<circle cx="441.30" cy="383.38" r="1.65" fill="#c8102e"/>
<circle cx="447.75" cy="383.00" r="1.65" fill="#c8102e"/>
<circle cx="454.50" cy="383.19" r="1.65" fill="#c8102e"/>
<circle cx="451.22" cy="385.31" r="1.65" fill="#c8102e"/>
<circle cx="447.75" cy="387.04" r="1.65" fill="#c8102e"/>
<circle cx="447.75" cy="400.02" r="1.65" fill="#c8102e"/>
<circle cx="467.00" cy="353.10" r="1.65" fill="#22b33a"/>
<circle cx="473.50" cy="354.00" r="1.65" fill="#22b33a"/>
<circle cx="480.00" cy="353.10" r="1.65" fill="#22b33a"/>
<circle cx="469.50" cy="357.00" r="1.65" fill="#22b33a"/>
<circle cx="477.00" cy="357.50" r="1.65" fill="#22b33a"/>
<circle cx="473.50" cy="360.50" r="1.65" fill="#22b33a"/>
<circle cx="467.50" cy="366.50" r="1.65" fill="#22b33a"/>
<circle cx="478.50" cy="366.50" r="1.65" fill="#22b33a"/>
<circle cx="467.00" cy="371.80" r="1.65" fill="#22b33a"/>
<circle cx="473.50" cy="373.20" r="1.65" fill="#22b33a"/>
<circle cx="480.00" cy="372.50" r="1.65" fill="#22b33a"/>
<circle cx="470.50" cy="363.00" r="1.65" fill="#22b33a"/>
<circle cx="491.65" cy="353.65" r="1.65" fill="#0b4e8a"/>
<circle cx="492.78" cy="351.95" r="1.65" fill="#0b4e8a"/>
<circle cx="494.47" cy="353.37" r="1.65" fill="#0b4e8a"/>
<circle cx="497.58" cy="352.24" r="1.65" fill="#0b4e8a"/>
<circle cx="499.56" cy="351.95" r="1.65" fill="#0b4e8a"/>
<circle cx="501.25" cy="352.80" r="1.65" fill="#0b4e8a"/>
<circle cx="503.51" cy="353.37" r="1.65" fill="#0b4e8a"/>
<circle cx="505.49" cy="353.93" r="1.65" fill="#0b4e8a"/>
<circle cx="492.78" cy="355.06" r="1.65" fill="#0b4e8a"/>
<circle cx="495.89" cy="354.78" r="1.65" fill="#0b4e8a"/>
<circle cx="498.71" cy="354.21" r="1.65" fill="#0b4e8a"/>
<circle cx="500.69" cy="355.06" r="1.65" fill="#0b4e8a"/>
<circle cx="502.95" cy="354.78" r="1.65" fill="#0b4e8a"/>
<circle cx="504.64" cy="355.06" r="1.65" fill="#0b4e8a"/>
<circle cx="497.30" cy="356.47" r="1.65" fill="#0b4e8a"/>
<circle cx="499.56" cy="356.76" r="1.65" fill="#0b4e8a"/>
<circle cx="497.30" cy="358.45" r="1.65" fill="#0b4e8a"/>
<circle cx="499.84" cy="358.73" r="1.65" fill="#0b4e8a"/>
<circle cx="498.15" cy="360.15" r="1.65" fill="#0b4e8a"/>
<circle cx="500.12" cy="360.71" r="1.65" fill="#0b4e8a"/>
<circle cx="498.43" cy="362.41" r="1.65" fill="#0b4e8a"/>
<circle cx="499.28" cy="363.82" r="1.65" fill="#0b4e8a"/>
<circle cx="496.73" cy="365.23" r="1.65" fill="#0b4e8a"/>
<circle cx="498.99" cy="365.51" r="1.65" fill="#0b4e8a"/>
<circle cx="500.41" cy="366.36" r="1.65" fill="#0b4e8a"/>
<circle cx="497.30" cy="367.21" r="1.65" fill="#0b4e8a"/>
<circle cx="499.84" cy="367.49" r="1.65" fill="#0b4e8a"/>
<circle cx="501.25" cy="368.06" r="1.65" fill="#0b4e8a"/>
<circle cx="496.17" cy="369.19" r="1.65" fill="#0b4e8a"/>
<circle cx="498.15" cy="369.47" r="1.65" fill="#0b4e8a"/>
<circle cx="500.69" cy="369.75" r="1.65" fill="#0b4e8a"/>
<circle cx="496.17" cy="370.88" r="1.65" fill="#0b4e8a"/>
<circle cx="498.71" cy="371.16" r="1.65" fill="#0b4e8a"/>
<circle cx="500.97" cy="371.45" r="1.65" fill="#0b4e8a"/>
<circle cx="497.30" cy="372.86" r="1.65" fill="#0b4e8a"/>
<circle cx="499.56" cy="372.86" r="1.65" fill="#0b4e8a"/>
<circle cx="498.15" cy="373.99" r="1.65" fill="#0b4e8a"/>
<circle cx="498.71" cy="378.79" r="1.65" fill="#0b4e8a"/>
<circle cx="497.86" cy="379.92" r="1.65" fill="#0b4e8a"/>
<circle cx="498.43" cy="383.31" r="1.65" fill="#0b4e8a"/>
<circle cx="60.78" cy="483.58" r="1.65" fill="#c8102e"/>
<circle cx="63.67" cy="486.46" r="1.65" fill="#c8102e"/>
<circle cx="66.08" cy="485.21" r="1.65" fill="#c8102e"/>
<circle cx="68.97" cy="487.13" r="1.65" fill="#c8102e"/>
<circle cx="71.18" cy="485.21" r="1.65" fill="#c8102e"/>
<circle cx="74.08" cy="485.50" r="1.65" fill="#c8102e"/>
<circle cx="66.08" cy="490.02" r="1.65" fill="#c8102e"/>
<circle cx="68.97" cy="492.42" r="1.65" fill="#c8102e"/>
<circle cx="63.48" cy="496.46" r="1.65" fill="#c8102e"/>
<circle cx="71.38" cy="496.75" r="1.65" fill="#c8102e"/>
<circle cx="66.08" cy="499.35" r="1.65" fill="#c8102e"/>
<circle cx="68.97" cy="500.60" r="1.65" fill="#c8102e"/>
<circle cx="63.48" cy="503.96" r="1.65" fill="#c8102e"/>
<circle cx="66.08" cy="506.37" r="1.65" fill="#c8102e"/>
<circle cx="63.48" cy="509.25" r="1.65" fill="#c8102e"/>
<circle cx="66.08" cy="510.69" r="1.65" fill="#c8102e"/>
<circle cx="68.97" cy="509.25" r="1.65" fill="#c8102e"/>
<circle cx="71.18" cy="509.25" r="1.65" fill="#c8102e"/>
<circle cx="68.97" cy="513.38" r="1.65" fill="#c8102e"/>
<circle cx="68.97" cy="520.31" r="1.65" fill="#c8102e"/>
<circle cx="71.38" cy="520.12" r="1.65" fill="#c8102e"/>
<circle cx="63.48" cy="523.00" r="1.65" fill="#c8102e"/>
<circle cx="66.08" cy="525.31" r="1.65" fill="#c8102e"/>
<circle cx="68.97" cy="524.92" r="1.65" fill="#c8102e"/>
<circle cx="71.38" cy="524.35" r="1.65" fill="#c8102e"/>
<circle cx="63.48" cy="528.48" r="1.65" fill="#c8102e"/>
<circle cx="66.08" cy="530.40" r="1.65" fill="#c8102e"/>
<circle cx="68.97" cy="529.44" r="1.65" fill="#c8102e"/>
<circle cx="66.08" cy="536.46" r="1.65" fill="#c8102e"/>
<circle cx="68.97" cy="538.77" r="1.65" fill="#c8102e"/>
<circle cx="66.08" cy="541.65" r="1.65" fill="#c8102e"/>
<circle cx="90.20" cy="489.30" r="1.65" fill="#22b33a"/>
<circle cx="90.20" cy="497.40" r="1.65" fill="#22b33a"/>
<circle cx="86.20" cy="500.50" r="1.65" fill="#22b33a"/>
<circle cx="94.20" cy="500.50" r="1.65" fill="#22b33a"/>
<circle cx="86.20" cy="510.30" r="1.65" fill="#22b33a"/>
<circle cx="94.20" cy="510.30" r="1.65" fill="#22b33a"/>
<circle cx="90.20" cy="513.50" r="1.65" fill="#22b33a"/>
<circle cx="86.20" cy="517.00" r="1.65" fill="#22b33a"/>
<circle cx="90.20" cy="518.50" r="1.65" fill="#22b33a"/>
<circle cx="94.20" cy="517.00" r="1.65" fill="#22b33a"/>
<circle cx="86.20" cy="525.80" r="1.65" fill="#22b33a"/>
<circle cx="94.20" cy="525.80" r="1.65" fill="#22b33a"/>
<circle cx="90.20" cy="532.70" r="1.65" fill="#22b33a"/>
<circle cx="90.20" cy="537.10" r="1.65" fill="#22b33a"/>
<circle cx="105.88" cy="488.88" r="1.65" fill="#0b4e8a"/>
<circle cx="108.09" cy="488.51" r="1.65" fill="#0b4e8a"/>
<circle cx="110.29" cy="488.29" r="1.65" fill="#0b4e8a"/>
<circle cx="112.50" cy="488.74" r="1.65" fill="#0b4e8a"/>
<circle cx="114.71" cy="488.51" r="1.65" fill="#0b4e8a"/>
<circle cx="117.65" cy="488.74" r="1.65" fill="#0b4e8a"/>
<circle cx="119.49" cy="489.99" r="1.65" fill="#0b4e8a"/>
<circle cx="109.93" cy="491.09" r="1.65" fill="#0b4e8a"/>
<circle cx="112.13" cy="491.46" r="1.65" fill="#0b4e8a"/>
<circle cx="114.71" cy="491.68" r="1.65" fill="#0b4e8a"/>
<circle cx="116.91" cy="491.09" r="1.65" fill="#0b4e8a"/>
<circle cx="111.03" cy="493.29" r="1.65" fill="#0b4e8a"/>
<circle cx="113.60" cy="493.29" r="1.65" fill="#0b4e8a"/>
<circle cx="112.87" cy="496.97" r="1.65" fill="#0b4e8a"/>
<circle cx="111.76" cy="498.81" r="1.65" fill="#0b4e8a"/>
<circle cx="113.60" cy="499.54" r="1.65" fill="#0b4e8a"/>
<circle cx="110.29" cy="501.01" r="1.65" fill="#0b4e8a"/>
<circle cx="112.50" cy="501.38" r="1.65" fill="#0b4e8a"/>
<circle cx="114.34" cy="502.49" r="1.65" fill="#0b4e8a"/>
<circle cx="111.76" cy="503.59" r="1.65" fill="#0b4e8a"/>
<circle cx="113.60" cy="504.69" r="1.65" fill="#0b4e8a"/>
<circle cx="111.03" cy="508.37" r="1.65" fill="#0b4e8a"/>
<circle cx="113.60" cy="509.47" r="1.65" fill="#0b4e8a"/>
<circle cx="114.71" cy="510.94" r="1.65" fill="#0b4e8a"/>
<circle cx="109.56" cy="514.25" r="1.65" fill="#0b4e8a"/>
<circle cx="112.13" cy="513.88" r="1.65" fill="#0b4e8a"/>
<circle cx="115.44" cy="515.35" r="1.65" fill="#0b4e8a"/>
<circle cx="110.66" cy="516.82" r="1.65" fill="#0b4e8a"/>
<circle cx="113.24" cy="517.56" r="1.65" fill="#0b4e8a"/>
<circle cx="115.81" cy="517.56" r="1.65" fill="#0b4e8a"/>
<circle cx="111.40" cy="519.40" r="1.65" fill="#0b4e8a"/>
<circle cx="114.34" cy="519.76" r="1.65" fill="#0b4e8a"/>
<circle cx="112.50" cy="522.71" r="1.65" fill="#0b4e8a"/>
<circle cx="112.87" cy="527.12" r="1.65" fill="#0b4e8a"/>
<circle cx="113.97" cy="527.85" r="1.65" fill="#0b4e8a"/>
<circle cx="111.03" cy="530.06" r="1.65" fill="#0b4e8a"/>
<circle cx="107.35" cy="489.62" r="1.65" fill="#0b4e8a"/>
<circle cx="115.81" cy="489.99" r="1.65" fill="#0b4e8a"/>
<circle cx="189.59" cy="487.03" r="1.65" fill="#c8102e"/>
<circle cx="187.89" cy="490.64" r="1.65" fill="#c8102e"/>
<circle cx="191.71" cy="490.64" r="1.65" fill="#c8102e"/>
<circle cx="189.59" cy="495.73" r="1.65" fill="#c8102e"/>
<circle cx="189.80" cy="500.82" r="1.65" fill="#c8102e"/>
<circle cx="183.22" cy="510.36" r="1.65" fill="#c8102e"/>
<circle cx="186.62" cy="511.42" r="1.65" fill="#c8102e"/>
<circle cx="196.70" cy="508.66" r="1.65" fill="#c8102e"/>
<circle cx="196.49" cy="513.22" r="1.65" fill="#c8102e"/>
<circle cx="189.80" cy="514.28" r="1.65" fill="#c8102e"/>
<circle cx="193.20" cy="513.75" r="1.65" fill="#c8102e"/>
<circle cx="183.22" cy="515.34" r="1.65" fill="#c8102e"/>
<circle cx="186.40" cy="516.09" r="1.65" fill="#c8102e"/>
<circle cx="189.80" cy="518.21" r="1.65" fill="#c8102e"/>
<circle cx="193.20" cy="517.99" r="1.65" fill="#c8102e"/>
<circle cx="189.59" cy="521.71" r="1.65" fill="#c8102e"/>
<circle cx="193.20" cy="521.71" r="1.65" fill="#c8102e"/>
<circle cx="189.59" cy="525.63" r="1.65" fill="#c8102e"/>
<circle cx="183.22" cy="529.13" r="1.65" fill="#c8102e"/>
<circle cx="196.70" cy="528.81" r="1.65" fill="#c8102e"/>
<circle cx="186.40" cy="531.99" r="1.65" fill="#c8102e"/>
<circle cx="189.80" cy="531.99" r="1.65" fill="#c8102e"/>
<circle cx="183.22" cy="536.55" r="1.65" fill="#c8102e"/>
<circle cx="186.40" cy="538.67" r="1.65" fill="#c8102e"/>
<circle cx="189.80" cy="538.14" r="1.65" fill="#c8102e"/>
<circle cx="193.20" cy="538.14" r="1.65" fill="#c8102e"/>
<circle cx="188.21" cy="544.29" r="1.65" fill="#c8102e"/>
<circle cx="191.71" cy="543.98" r="1.65" fill="#c8102e"/>
<circle cx="189.59" cy="548.54" r="1.65" fill="#c8102e"/>
<circle cx="193.20" cy="551.19" r="1.65" fill="#c8102e"/>
<circle cx="186.40" cy="553.20" r="1.65" fill="#c8102e"/>
<circle cx="209.00" cy="513.80" r="1.65" fill="#22b33a"/>
<circle cx="216.00" cy="516.50" r="1.65" fill="#22b33a"/>
<circle cx="208.00" cy="527.50" r="1.65" fill="#22b33a"/>
<circle cx="216.00" cy="527.50" r="1.65" fill="#22b33a"/>
<circle cx="210.00" cy="533.50" r="1.65" fill="#22b33a"/>
<circle cx="205.50" cy="534.00" r="1.65" fill="#22b33a"/>
<circle cx="212.00" cy="535.00" r="1.65" fill="#22b33a"/>
<circle cx="218.00" cy="534.50" r="1.65" fill="#22b33a"/>
<circle cx="212.40" cy="545.20" r="1.65" fill="#22b33a"/>
<circle cx="203.60" cy="524.30" r="1.65" fill="#22b33a"/>
<circle cx="208.00" cy="524.30" r="1.65" fill="#22b33a"/>
<circle cx="212.40" cy="524.30" r="1.65" fill="#22b33a"/>
<circle cx="216.80" cy="524.30" r="1.65" fill="#22b33a"/>
<circle cx="221.20" cy="524.30" r="1.65" fill="#22b33a"/>
<circle cx="228.15" cy="499.70" r="1.65" fill="#0b4e8a"/>
<circle cx="230.35" cy="499.09" r="1.65" fill="#0b4e8a"/>
<circle cx="232.98" cy="499.44" r="1.65" fill="#0b4e8a"/>
<circle cx="236.06" cy="499.09" r="1.65" fill="#0b4e8a"/>
<circle cx="239.14" cy="499.09" r="1.65" fill="#0b4e8a"/>
<circle cx="241.77" cy="499.44" r="1.65" fill="#0b4e8a"/>
<circle cx="229.47" cy="500.84" r="1.65" fill="#0b4e8a"/>
<circle cx="234.30" cy="500.84" r="1.65" fill="#0b4e8a"/>
<circle cx="240.45" cy="500.58" r="1.65" fill="#0b4e8a"/>
<circle cx="235.18" cy="502.77" r="1.65" fill="#0b4e8a"/>
<circle cx="234.30" cy="504.96" r="1.65" fill="#0b4e8a"/>
<circle cx="236.06" cy="505.84" r="1.65" fill="#0b4e8a"/>
<circle cx="234.74" cy="508.04" r="1.65" fill="#0b4e8a"/>
<circle cx="233.86" cy="509.61" r="1.65" fill="#0b4e8a"/>
<circle cx="236.06" cy="509.35" r="1.65" fill="#0b4e8a"/>
<circle cx="235.18" cy="513.74" r="1.65" fill="#0b4e8a"/>
<circle cx="233.42" cy="516.81" r="1.65" fill="#0b4e8a"/>
<circle cx="235.18" cy="517.25" r="1.65" fill="#0b4e8a"/>
<circle cx="237.38" cy="518.12" r="1.65" fill="#0b4e8a"/>
<circle cx="232.98" cy="519.88" r="1.65" fill="#0b4e8a"/>
<circle cx="235.18" cy="520.32" r="1.65" fill="#0b4e8a"/>
<circle cx="237.82" cy="520.32" r="1.65" fill="#0b4e8a"/>
<circle cx="233.86" cy="522.07" r="1.65" fill="#0b4e8a"/>
<circle cx="236.06" cy="522.51" r="1.65" fill="#0b4e8a"/>
<circle cx="232.98" cy="524.26" r="1.65" fill="#0b4e8a"/>
<circle cx="235.18" cy="525.14" r="1.65" fill="#0b4e8a"/>
<circle cx="237.82" cy="524.70" r="1.65" fill="#0b4e8a"/>
<circle cx="232.98" cy="527.33" r="1.65" fill="#0b4e8a"/>
<circle cx="235.62" cy="527.77" r="1.65" fill="#0b4e8a"/>
<circle cx="233.86" cy="529.96" r="1.65" fill="#0b4e8a"/>
<circle cx="236.50" cy="530.40" r="1.65" fill="#0b4e8a"/>
<circle cx="234.30" cy="532.60" r="1.65" fill="#0b4e8a"/>
<circle cx="235.18" cy="536.11" r="1.65" fill="#0b4e8a"/>
<circle cx="234.30" cy="539.61" r="1.65" fill="#0b4e8a"/>
<circle cx="235.18" cy="542.68" r="1.65" fill="#0b4e8a"/>
<circle cx="235.18" cy="545.75" r="1.65" fill="#0b4e8a"/>
<circle cx="235.18" cy="548.39" r="1.65" fill="#0b4e8a"/>
<circle cx="235.18" cy="552.77" r="1.65" fill="#0b4e8a"/>
<circle cx="325.40" cy="489.70" r="1.65" fill="#22b33a"/>
<circle cx="325.40" cy="496.70" r="1.65" fill="#22b33a"/>
<circle cx="325.40" cy="500.20" r="1.65" fill="#22b33a"/>
<circle cx="315.50" cy="512.20" r="1.65" fill="#22b33a"/>
<circle cx="322.00" cy="512.20" r="1.65" fill="#22b33a"/>
<circle cx="328.50" cy="513.50" r="1.65" fill="#22b33a"/>
<circle cx="335.20" cy="512.20" r="1.65" fill="#22b33a"/>
<circle cx="325.40" cy="521.90" r="1.65" fill="#22b33a"/>
<circle cx="325.40" cy="527.30" r="1.65" fill="#22b33a"/>
<circle cx="325.40" cy="532.90" r="1.65" fill="#22b33a"/>
<circle cx="328.50" cy="539.10" r="1.65" fill="#22b33a"/>
<circle cx="322.00" cy="541.40" r="1.65" fill="#22b33a"/>
<circle cx="356.79" cy="479.82" r="1.65" fill="#0b4e8a"/>
<circle cx="360.01" cy="480.67" r="1.65" fill="#0b4e8a"/>
<circle cx="363.40" cy="479.82" r="1.65" fill="#0b4e8a"/>
<circle cx="373.07" cy="479.82" r="1.65" fill="#0b4e8a"/>
<circle cx="356.79" cy="483.64" r="1.65" fill="#0b4e8a"/>
<circle cx="363.40" cy="484.06" r="1.65" fill="#0b4e8a"/>
<circle cx="366.54" cy="482.11" r="1.65" fill="#0b4e8a"/>
<circle cx="369.93" cy="482.62" r="1.65" fill="#0b4e8a"/>
<circle cx="353.56" cy="486.19" r="1.65" fill="#0b4e8a"/>
<circle cx="356.79" cy="487.46" r="1.65" fill="#0b4e8a"/>
<circle cx="360.01" cy="488.56" r="1.65" fill="#0b4e8a"/>
<circle cx="366.54" cy="488.56" r="1.65" fill="#0b4e8a"/>
<circle cx="369.93" cy="486.19" r="1.65" fill="#0b4e8a"/>
<circle cx="373.07" cy="487.46" r="1.65" fill="#0b4e8a"/>
<circle cx="363.40" cy="491.28" r="1.65" fill="#0b4e8a"/>
<circle cx="356.79" cy="494.25" r="1.65" fill="#0b4e8a"/>
<circle cx="360.01" cy="496.37" r="1.65" fill="#0b4e8a"/>
<circle cx="363.40" cy="496.80" r="1.65" fill="#0b4e8a"/>
<circle cx="366.54" cy="497.65" r="1.65" fill="#0b4e8a"/>
<circle cx="369.93" cy="495.35" r="1.65" fill="#0b4e8a"/>
<circle cx="373.07" cy="495.35" r="1.65" fill="#0b4e8a"/>
<circle cx="353.56" cy="498.07" r="1.65" fill="#0b4e8a"/>
<circle cx="356.79" cy="499.34" r="1.65" fill="#0b4e8a"/>
<circle cx="360.01" cy="500.19" r="1.65" fill="#0b4e8a"/>
<circle cx="363.40" cy="501.04" r="1.65" fill="#0b4e8a"/>
<circle cx="366.54" cy="501.04" r="1.65" fill="#0b4e8a"/>
<circle cx="369.93" cy="500.19" r="1.65" fill="#0b4e8a"/>
<circle cx="373.07" cy="499.09" r="1.65" fill="#0b4e8a"/>
<circle cx="361.87" cy="504.86" r="1.65" fill="#0b4e8a"/>
<circle cx="364.84" cy="504.86" r="1.65" fill="#0b4e8a"/>
<circle cx="356.79" cy="508.43" r="1.65" fill="#0b4e8a"/>
<circle cx="363.40" cy="508.43" r="1.65" fill="#0b4e8a"/>
<circle cx="366.54" cy="508.43" r="1.65" fill="#0b4e8a"/>
<circle cx="360.01" cy="510.13" r="1.65" fill="#0b4e8a"/>
<circle cx="369.93" cy="510.63" r="1.65" fill="#0b4e8a"/>
<circle cx="356.79" cy="512.50" r="1.65" fill="#0b4e8a"/>
<circle cx="366.54" cy="512.67" r="1.65" fill="#0b4e8a"/>
<circle cx="373.07" cy="513.18" r="1.65" fill="#0b4e8a"/>
<circle cx="353.56" cy="515.47" r="1.65" fill="#0b4e8a"/>
<circle cx="360.01" cy="516.07" r="1.65" fill="#0b4e8a"/>
<circle cx="363.40" cy="516.32" r="1.65" fill="#0b4e8a"/>
<circle cx="366.54" cy="516.32" r="1.65" fill="#0b4e8a"/>
<circle cx="369.93" cy="515.22" r="1.65" fill="#0b4e8a"/>
<circle cx="363.40" cy="520.57" r="1.65" fill="#0b4e8a"/>
<circle cx="361.87" cy="532.03" r="1.65" fill="#0b4e8a"/>
<circle cx="365.10" cy="531.60" r="1.65" fill="#0b4e8a"/>
<circle cx="451.00" cy="498.40" r="1.65" fill="#22b33a"/>
<circle cx="457.00" cy="500.00" r="1.65" fill="#22b33a"/>
<circle cx="450.50" cy="502.00" r="1.65" fill="#22b33a"/>
<circle cx="453.60" cy="506.70" r="1.65" fill="#22b33a"/>
<circle cx="444.00" cy="513.00" r="1.65" fill="#22b33a"/>
<circle cx="450.00" cy="513.50" r="1.65" fill="#22b33a"/>
<circle cx="456.00" cy="513.50" r="1.65" fill="#22b33a"/>
<circle cx="463.50" cy="512.00" r="1.65" fill="#22b33a"/>
<circle cx="453.60" cy="516.60" r="1.65" fill="#22b33a"/>
<circle cx="453.60" cy="529.20" r="1.65" fill="#22b33a"/>
<circle cx="459.10" cy="512.80" r="1.65" fill="#22b33a"/>
<circle cx="488.42" cy="490.79" r="1.65" fill="#0b4e8a"/>
<circle cx="490.80" cy="489.09" r="1.65" fill="#0b4e8a"/>
<circle cx="493.18" cy="490.45" r="1.65" fill="#0b4e8a"/>
<circle cx="495.90" cy="489.09" r="1.65" fill="#0b4e8a"/>
<circle cx="498.62" cy="490.45" r="1.65" fill="#0b4e8a"/>
<circle cx="500.66" cy="491.13" r="1.65" fill="#0b4e8a"/>
<circle cx="503.37" cy="489.09" r="1.65" fill="#0b4e8a"/>
<circle cx="506.09" cy="489.09" r="1.65" fill="#0b4e8a"/>
<circle cx="508.47" cy="489.43" r="1.65" fill="#0b4e8a"/>
<circle cx="497.94" cy="492.83" r="1.65" fill="#0b4e8a"/>
<circle cx="501.00" cy="492.15" r="1.65" fill="#0b4e8a"/>
<circle cx="503.37" cy="493.50" r="1.65" fill="#0b4e8a"/>
<circle cx="498.62" cy="494.86" r="1.65" fill="#0b4e8a"/>
<circle cx="493.52" cy="497.24" r="1.65" fill="#0b4e8a"/>
<circle cx="495.90" cy="496.22" r="1.65" fill="#0b4e8a"/>
<circle cx="501.00" cy="496.22" r="1.65" fill="#0b4e8a"/>
<circle cx="503.37" cy="496.90" r="1.65" fill="#0b4e8a"/>
<circle cx="498.62" cy="499.61" r="1.65" fill="#0b4e8a"/>
<circle cx="501.00" cy="499.27" r="1.65" fill="#0b4e8a"/>
<circle cx="503.03" cy="500.29" r="1.65" fill="#0b4e8a"/>
<circle cx="490.80" cy="502.33" r="1.65" fill="#0b4e8a"/>
<circle cx="493.52" cy="502.67" r="1.65" fill="#0b4e8a"/>
<circle cx="495.90" cy="503.01" r="1.65" fill="#0b4e8a"/>
<circle cx="498.28" cy="503.35" r="1.65" fill="#0b4e8a"/>
<circle cx="503.37" cy="504.37" r="1.65" fill="#0b4e8a"/>
<circle cx="505.75" cy="504.37" r="1.65" fill="#0b4e8a"/>
<circle cx="493.52" cy="504.37" r="1.65" fill="#0b4e8a"/>
<circle cx="498.62" cy="505.72" r="1.65" fill="#0b4e8a"/>
<circle cx="490.80" cy="507.08" r="1.65" fill="#0b4e8a"/>
<circle cx="493.18" cy="508.44" r="1.65" fill="#0b4e8a"/>
<circle cx="495.56" cy="507.76" r="1.65" fill="#0b4e8a"/>
<circle cx="498.28" cy="509.80" r="1.65" fill="#0b4e8a"/>
<circle cx="500.66" cy="509.12" r="1.65" fill="#0b4e8a"/>
<circle cx="503.37" cy="508.10" r="1.65" fill="#0b4e8a"/>
<circle cx="497.26" cy="514.55" r="1.65" fill="#0b4e8a"/>
<circle cx="499.64" cy="515.91" r="1.65" fill="#0b4e8a"/>
<circle cx="495.90" cy="520.32" r="1.65" fill="#0b4e8a"/>
<circle cx="501.00" cy="521.00" r="1.65" fill="#0b4e8a"/>
<circle cx="498.28" cy="522.70" r="1.65" fill="#0b4e8a"/>
<circle cx="498.28" cy="526.77" r="1.65" fill="#0b4e8a"/>
<circle cx="76.30" cy="641.20" r="1.65" fill="#22b33a"/>
<circle cx="70.30" cy="658.50" r="1.65" fill="#22b33a"/>
<circle cx="76.30" cy="656.80" r="1.65" fill="#22b33a"/>
<circle cx="82.30" cy="658.00" r="1.65" fill="#22b33a"/>
<circle cx="82.30" cy="665.60" r="1.65" fill="#22b33a"/>
<circle cx="76.30" cy="667.70" r="1.65" fill="#22b33a"/>
<circle cx="70.30" cy="673.70" r="1.65" fill="#22b33a"/>
<circle cx="82.30" cy="675.10" r="1.65" fill="#22b33a"/>
<circle cx="76.30" cy="675.40" r="1.65" fill="#22b33a"/>
<circle cx="79.50" cy="682.00" r="1.65" fill="#22b33a"/>
<circle cx="73.00" cy="684.40" r="1.65" fill="#22b33a"/>
<circle cx="112.41" cy="626.24" r="1.65" fill="#0b4e8a"/>
<circle cx="114.95" cy="641.95" r="1.65" fill="#0b4e8a"/>
<circle cx="117.32" cy="642.20" r="1.65" fill="#0b4e8a"/>
<circle cx="110.29" cy="643.22" r="1.65" fill="#0b4e8a"/>
<circle cx="112.41" cy="644.92" r="1.65" fill="#0b4e8a"/>
<circle cx="107.75" cy="647.04" r="1.65" fill="#0b4e8a"/>
<circle cx="114.95" cy="647.04" r="1.65" fill="#0b4e8a"/>
<circle cx="112.41" cy="649.16" r="1.65" fill="#0b4e8a"/>
<circle cx="117.49" cy="649.59" r="1.65" fill="#0b4e8a"/>
<circle cx="104.36" cy="652.56" r="1.65" fill="#0b4e8a"/>
<circle cx="106.47" cy="652.14" r="1.65" fill="#0b4e8a"/>
<circle cx="114.95" cy="652.14" r="1.65" fill="#0b4e8a"/>
<circle cx="122.15" cy="651.71" r="1.65" fill="#0b4e8a"/>
<circle cx="109.86" cy="653.83" r="1.65" fill="#0b4e8a"/>
<circle cx="112.41" cy="654.68" r="1.65" fill="#0b4e8a"/>
<circle cx="102.66" cy="653.83" r="1.65" fill="#0b4e8a"/>
<circle cx="117.49" cy="654.26" r="1.65" fill="#0b4e8a"/>
<circle cx="106.05" cy="655.96" r="1.65" fill="#0b4e8a"/>
<circle cx="109.02" cy="656.38" r="1.65" fill="#0b4e8a"/>
<circle cx="111.98" cy="656.80" r="1.65" fill="#0b4e8a"/>
<circle cx="114.95" cy="656.38" r="1.65" fill="#0b4e8a"/>
<circle cx="119.19" cy="655.96" r="1.65" fill="#0b4e8a"/>
<circle cx="121.73" cy="655.96" r="1.65" fill="#0b4e8a"/>
<circle cx="103.08" cy="658.50" r="1.65" fill="#0b4e8a"/>
<circle cx="106.90" cy="659.35" r="1.65" fill="#0b4e8a"/>
<circle cx="109.86" cy="658.50" r="1.65" fill="#0b4e8a"/>
<circle cx="112.83" cy="659.35" r="1.65" fill="#0b4e8a"/>
<circle cx="116.22" cy="658.50" r="1.65" fill="#0b4e8a"/>
<circle cx="122.15" cy="658.93" r="1.65" fill="#0b4e8a"/>
<circle cx="103.51" cy="661.47" r="1.65" fill="#0b4e8a"/>
<circle cx="108.17" cy="661.90" r="1.65" fill="#0b4e8a"/>
<circle cx="111.14" cy="661.47" r="1.65" fill="#0b4e8a"/>
<circle cx="114.53" cy="661.90" r="1.65" fill="#0b4e8a"/>
<circle cx="118.34" cy="661.90" r="1.65" fill="#0b4e8a"/>
<circle cx="105.63" cy="664.02" r="1.65" fill="#0b4e8a"/>
<circle cx="109.86" cy="664.44" r="1.65" fill="#0b4e8a"/>
<circle cx="113.25" cy="664.44" r="1.65" fill="#0b4e8a"/>
<circle cx="116.22" cy="664.02" r="1.65" fill="#0b4e8a"/>
<circle cx="119.61" cy="664.02" r="1.65" fill="#0b4e8a"/>
<circle cx="107.75" cy="667.84" r="1.65" fill="#0b4e8a"/>
<circle cx="111.56" cy="666.99" r="1.65" fill="#0b4e8a"/>
<circle cx="114.53" cy="667.84" r="1.65" fill="#0b4e8a"/>
<circle cx="117.49" cy="667.42" r="1.65" fill="#0b4e8a"/>
<circle cx="110.29" cy="671.24" r="1.65" fill="#0b4e8a"/>
<circle cx="113.25" cy="672.08" r="1.65" fill="#0b4e8a"/>
<circle cx="117.07" cy="670.81" r="1.65" fill="#0b4e8a"/>
<circle cx="111.56" cy="672.93" r="1.65" fill="#0b4e8a"/>
<circle cx="113.68" cy="676.33" r="1.65" fill="#0b4e8a"/>
<circle cx="111.14" cy="678.03" r="1.65" fill="#0b4e8a"/>
<circle cx="196.50" cy="636.50" r="1.65" fill="#22b33a"/>
<circle cx="190.50" cy="645.20" r="1.65" fill="#22b33a"/>
<circle cx="196.50" cy="644.50" r="1.65" fill="#22b33a"/>
<circle cx="202.50" cy="643.00" r="1.65" fill="#22b33a"/>
<circle cx="190.50" cy="651.20" r="1.65" fill="#22b33a"/>
<circle cx="196.50" cy="651.20" r="1.65" fill="#22b33a"/>
<circle cx="202.50" cy="651.20" r="1.65" fill="#22b33a"/>
<circle cx="202.50" cy="653.80" r="1.65" fill="#22b33a"/>
<circle cx="190.50" cy="658.70" r="1.65" fill="#22b33a"/>
<circle cx="190.50" cy="661.50" r="1.65" fill="#22b33a"/>
<circle cx="196.50" cy="661.20" r="1.65" fill="#22b33a"/>
<circle cx="202.50" cy="661.20" r="1.65" fill="#22b33a"/>
<circle cx="230.96" cy="640.62" r="1.65" fill="#0b4e8a"/>
<circle cx="234.71" cy="640.90" r="1.65" fill="#0b4e8a"/>
<circle cx="238.47" cy="640.62" r="1.65" fill="#0b4e8a"/>
<circle cx="242.50" cy="642.06" r="1.65" fill="#0b4e8a"/>
<circle cx="227.21" cy="644.66" r="1.65" fill="#0b4e8a"/>
<circle cx="229.52" cy="644.37" r="1.65" fill="#0b4e8a"/>
<circle cx="232.41" cy="644.66" r="1.65" fill="#0b4e8a"/>
<circle cx="235.58" cy="644.94" r="1.65" fill="#0b4e8a"/>
<circle cx="237.31" cy="644.94" r="1.65" fill="#0b4e8a"/>
<circle cx="240.48" cy="644.94" r="1.65" fill="#0b4e8a"/>
<circle cx="244.24" cy="646.10" r="1.65" fill="#0b4e8a"/>
<circle cx="225.19" cy="648.69" r="1.65" fill="#0b4e8a"/>
<circle cx="228.66" cy="647.54" r="1.65" fill="#0b4e8a"/>
<circle cx="231.54" cy="648.12" r="1.65" fill="#0b4e8a"/>
<circle cx="234.14" cy="647.83" r="1.65" fill="#0b4e8a"/>
<circle cx="236.73" cy="647.54" r="1.65" fill="#0b4e8a"/>
<circle cx="239.62" cy="647.54" r="1.65" fill="#0b4e8a"/>
<circle cx="242.79" cy="648.41" r="1.65" fill="#0b4e8a"/>
<circle cx="244.81" cy="649.85" r="1.65" fill="#0b4e8a"/>
<circle cx="224.62" cy="650.71" r="1.65" fill="#0b4e8a"/>
<circle cx="227.21" cy="651.00" r="1.65" fill="#0b4e8a"/>
<circle cx="230.10" cy="650.71" r="1.65" fill="#0b4e8a"/>
<circle cx="233.27" cy="650.14" r="1.65" fill="#0b4e8a"/>
<circle cx="236.16" cy="650.43" r="1.65" fill="#0b4e8a"/>
<circle cx="238.75" cy="650.71" r="1.65" fill="#0b4e8a"/>
<circle cx="241.64" cy="650.43" r="1.65" fill="#0b4e8a"/>
<circle cx="226.35" cy="653.02" r="1.65" fill="#0b4e8a"/>
<circle cx="228.94" cy="653.31" r="1.65" fill="#0b4e8a"/>
<circle cx="231.83" cy="653.02" r="1.65" fill="#0b4e8a"/>
<circle cx="234.71" cy="652.73" r="1.65" fill="#0b4e8a"/>
<circle cx="237.60" cy="652.73" r="1.65" fill="#0b4e8a"/>
<circle cx="240.20" cy="653.31" r="1.65" fill="#0b4e8a"/>
<circle cx="244.52" cy="654.47" r="1.65" fill="#0b4e8a"/>
<circle cx="228.08" cy="655.33" r="1.65" fill="#0b4e8a"/>
<circle cx="230.96" cy="655.04" r="1.65" fill="#0b4e8a"/>
<circle cx="233.85" cy="655.33" r="1.65" fill="#0b4e8a"/>
<circle cx="236.73" cy="655.33" r="1.65" fill="#0b4e8a"/>
<circle cx="239.62" cy="655.62" r="1.65" fill="#0b4e8a"/>
<circle cx="242.50" cy="655.04" r="1.65" fill="#0b4e8a"/>
<circle cx="225.48" cy="657.64" r="1.65" fill="#0b4e8a"/>
<circle cx="229.23" cy="657.35" r="1.65" fill="#0b4e8a"/>
<circle cx="232.98" cy="657.93" r="1.65" fill="#0b4e8a"/>
<circle cx="235.58" cy="659.08" r="1.65" fill="#0b4e8a"/>
<circle cx="237.31" cy="658.79" r="1.65" fill="#0b4e8a"/>
<circle cx="240.20" cy="657.35" r="1.65" fill="#0b4e8a"/>
<circle cx="234.71" cy="663.99" r="1.65" fill="#0b4e8a"/>
<circle cx="235.00" cy="649.27" r="1.65" fill="#0b4e8a"/>
<circle cx="232.41" cy="651.58" r="1.65" fill="#0b4e8a"/>
<circle cx="237.89" cy="648.98" r="1.65" fill="#0b4e8a"/>
<circle cx="325.50" cy="646.00" r="1.65" fill="#22b33a"/>
<circle cx="325.50" cy="650.40" r="1.65" fill="#22b33a"/>
<circle cx="315.50" cy="656.90" r="1.65" fill="#22b33a"/>
<circle cx="322.50" cy="655.50" r="1.65" fill="#22b33a"/>
<circle cx="334.00" cy="657.80" r="1.65" fill="#22b33a"/>
<circle cx="315.50" cy="660.50" r="1.65" fill="#22b33a"/>
<circle cx="325.50" cy="661.50" r="1.65" fill="#22b33a"/>
<circle cx="334.50" cy="661.20" r="1.65" fill="#22b33a"/>
<circle cx="322.50" cy="664.20" r="1.65" fill="#22b33a"/>
<circle cx="328.50" cy="664.20" r="1.65" fill="#22b33a"/>
<circle cx="322.50" cy="672.00" r="1.65" fill="#22b33a"/>
<circle cx="328.50" cy="672.00" r="1.65" fill="#22b33a"/>
<circle cx="363.41" cy="621.44" r="1.65" fill="#0b4e8a"/>
<circle cx="363.41" cy="625.69" r="1.65" fill="#0b4e8a"/>
<circle cx="361.78" cy="632.93" r="1.65" fill="#0b4e8a"/>
<circle cx="364.49" cy="633.84" r="1.65" fill="#0b4e8a"/>
<circle cx="359.06" cy="639.00" r="1.65" fill="#0b4e8a"/>
<circle cx="361.78" cy="640.62" r="1.65" fill="#0b4e8a"/>
<circle cx="364.49" cy="641.35" r="1.65" fill="#0b4e8a"/>
<circle cx="367.66" cy="641.98" r="1.65" fill="#0b4e8a"/>
<circle cx="361.78" cy="644.24" r="1.65" fill="#0b4e8a"/>
<circle cx="359.06" cy="646.05" r="1.65" fill="#0b4e8a"/>
<circle cx="364.49" cy="645.60" r="1.65" fill="#0b4e8a"/>
<circle cx="367.66" cy="646.05" r="1.65" fill="#0b4e8a"/>
<circle cx="359.06" cy="649.22" r="1.65" fill="#0b4e8a"/>
<circle cx="361.78" cy="649.22" r="1.65" fill="#0b4e8a"/>
<circle cx="364.49" cy="648.77" r="1.65" fill="#0b4e8a"/>
<circle cx="367.66" cy="651.48" r="1.65" fill="#0b4e8a"/>
<circle cx="362.23" cy="652.39" r="1.65" fill="#0b4e8a"/>
<circle cx="364.49" cy="651.94" r="1.65" fill="#0b4e8a"/>
<circle cx="359.06" cy="654.20" r="1.65" fill="#0b4e8a"/>
<circle cx="361.78" cy="655.10" r="1.65" fill="#0b4e8a"/>
<circle cx="365.85" cy="654.65" r="1.65" fill="#0b4e8a"/>
<circle cx="370.38" cy="656.91" r="1.65" fill="#0b4e8a"/>
<circle cx="356.34" cy="656.91" r="1.65" fill="#0b4e8a"/>
<circle cx="353.62" cy="660.08" r="1.65" fill="#0b4e8a"/>
<circle cx="359.06" cy="658.72" r="1.65" fill="#0b4e8a"/>
<circle cx="362.68" cy="657.82" r="1.65" fill="#0b4e8a"/>
<circle cx="366.76" cy="658.27" r="1.65" fill="#0b4e8a"/>
<circle cx="356.79" cy="662.34" r="1.65" fill="#0b4e8a"/>
<circle cx="359.51" cy="662.80" r="1.65" fill="#0b4e8a"/>
<circle cx="362.68" cy="660.53" r="1.65" fill="#0b4e8a"/>
<circle cx="364.49" cy="663.70" r="1.65" fill="#0b4e8a"/>
<circle cx="367.21" cy="662.80" r="1.65" fill="#0b4e8a"/>
<circle cx="373.10" cy="661.89" r="1.65" fill="#0b4e8a"/>
<circle cx="353.62" cy="664.61" r="1.65" fill="#0b4e8a"/>
<circle cx="356.79" cy="665.06" r="1.65" fill="#0b4e8a"/>
<circle cx="359.51" cy="666.87" r="1.65" fill="#0b4e8a"/>
<circle cx="362.68" cy="665.96" r="1.65" fill="#0b4e8a"/>
<circle cx="364.95" cy="666.87" r="1.65" fill="#0b4e8a"/>
<circle cx="368.12" cy="666.87" r="1.65" fill="#0b4e8a"/>
<circle cx="370.83" cy="665.96" r="1.65" fill="#0b4e8a"/>
<circle cx="373.10" cy="665.51" r="1.65" fill="#0b4e8a"/>
<circle cx="356.34" cy="669.13" r="1.65" fill="#0b4e8a"/>
<circle cx="364.49" cy="668.23" r="1.65" fill="#0b4e8a"/>
<circle cx="356.34" cy="674.11" r="1.65" fill="#0b4e8a"/>
<circle cx="361.78" cy="674.56" r="1.65" fill="#0b4e8a"/>
<circle cx="364.95" cy="676.37" r="1.65" fill="#0b4e8a"/>
<circle cx="367.66" cy="674.56" r="1.65" fill="#0b4e8a"/>
<circle cx="370.38" cy="674.11" r="1.65" fill="#0b4e8a"/>
<circle cx="361.78" cy="678.63" r="1.65" fill="#0b4e8a"/>
<rect x="0.6" y="0.6" width="518.8" height="705.8" fill="none" stroke="#000" stroke-width="1.4"/>
</svg>
</body></html>
